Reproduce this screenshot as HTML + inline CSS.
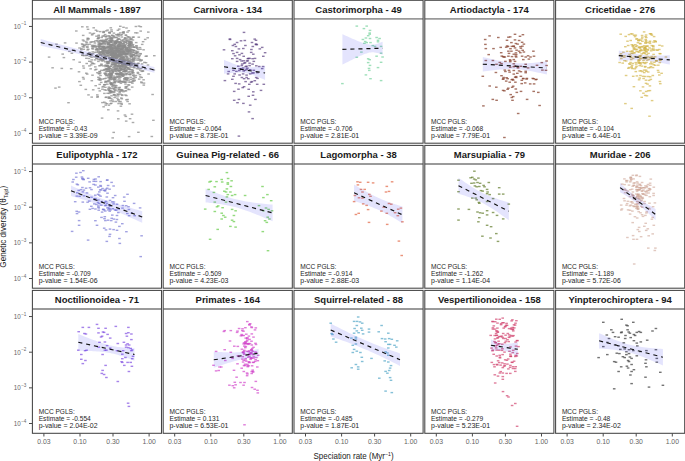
<!DOCTYPE html><html><head><meta charset="utf-8"><style>html,body{margin:0;padding:0;background:#fff;}svg{display:block;}text{font-family:"Liberation Sans", sans-serif;}</style></head><body>
<svg width="685" height="461" viewBox="0 0 685 461">
<rect width="685" height="461" fill="#fff"/>
<g fill="#8c8c8c" fill-opacity="0.74"><rect x="107.4" y="50.4" width="2.6" height="1.4"/><rect x="107.8" y="43.8" width="2.6" height="1.4"/><rect x="98.6" y="44.6" width="2.6" height="1.4"/><rect x="125.2" y="49.7" width="2.6" height="1.4"/><rect x="124.2" y="48.3" width="2.6" height="1.4"/><rect x="115.8" y="47.8" width="2.6" height="1.4"/><rect x="89.0" y="53.1" width="2.6" height="1.4"/><rect x="117.3" y="50.3" width="2.6" height="1.4"/><rect x="88.7" y="32.3" width="2.6" height="1.4"/><rect x="99.1" y="42.6" width="2.6" height="1.4"/><rect x="114.7" y="45.9" width="2.6" height="1.4"/><rect x="117.5" y="41.2" width="2.6" height="1.4"/><rect x="114.7" y="49.5" width="2.6" height="1.4"/><rect x="102.1" y="60.0" width="2.6" height="1.4"/><rect x="117.9" y="55.9" width="2.6" height="1.4"/><rect x="102.6" y="40.4" width="2.6" height="1.4"/><rect x="106.2" y="45.4" width="2.6" height="1.4"/><rect x="118.9" y="48.3" width="2.6" height="1.4"/><rect x="104.9" y="38.6" width="2.6" height="1.4"/><rect x="103.9" y="56.1" width="2.6" height="1.4"/><rect x="100.2" y="48.3" width="2.6" height="1.4"/><rect x="116.2" y="34.4" width="2.6" height="1.4"/><rect x="111.3" y="56.7" width="2.6" height="1.4"/><rect x="84.5" y="43.7" width="2.6" height="1.4"/><rect x="109.3" y="39.8" width="2.6" height="1.4"/><rect x="117.2" y="45.8" width="2.6" height="1.4"/><rect x="91.7" y="52.9" width="2.6" height="1.4"/><rect x="119.4" y="53.9" width="2.6" height="1.4"/><rect x="129.4" y="49.2" width="2.6" height="1.4"/><rect x="112.3" y="35.9" width="2.6" height="1.4"/><rect x="118.7" y="41.4" width="2.6" height="1.4"/><rect x="104.8" y="36.2" width="2.6" height="1.4"/><rect x="98.1" y="42.1" width="2.6" height="1.4"/><rect x="127.5" y="30.0" width="2.6" height="1.4"/><rect x="91.7" y="48.2" width="2.6" height="1.4"/><rect x="129.5" y="50.9" width="2.6" height="1.4"/><rect x="86.0" y="26.2" width="2.6" height="1.4"/><rect x="115.3" y="40.4" width="2.6" height="1.4"/><rect x="96.1" y="54.1" width="2.6" height="1.4"/><rect x="125.0" y="47.6" width="2.6" height="1.4"/><rect x="113.9" y="49.8" width="2.6" height="1.4"/><rect x="131.4" y="51.3" width="2.6" height="1.4"/><rect x="117.4" y="50.7" width="2.6" height="1.4"/><rect x="90.3" y="56.6" width="2.6" height="1.4"/><rect x="123.1" y="50.5" width="2.6" height="1.4"/><rect x="85.0" y="41.2" width="2.6" height="1.4"/><rect x="121.6" y="31.8" width="2.6" height="1.4"/><rect x="108.3" y="54.5" width="2.6" height="1.4"/><rect x="93.7" y="59.2" width="2.6" height="1.4"/><rect x="117.9" y="45.1" width="2.6" height="1.4"/><rect x="114.9" y="51.5" width="2.6" height="1.4"/><rect x="112.3" y="55.5" width="2.6" height="1.4"/><rect x="102.1" y="43.0" width="2.6" height="1.4"/><rect x="124.2" y="46.5" width="2.6" height="1.4"/><rect x="99.3" y="53.9" width="2.6" height="1.4"/><rect x="129.8" y="42.7" width="2.6" height="1.4"/><rect x="92.8" y="45.2" width="2.6" height="1.4"/><rect x="108.8" y="43.9" width="2.6" height="1.4"/><rect x="129.0" y="38.1" width="2.6" height="1.4"/><rect x="127.1" y="36.2" width="2.6" height="1.4"/><rect x="100.5" y="51.4" width="2.6" height="1.4"/><rect x="125.4" y="53.2" width="2.6" height="1.4"/><rect x="115.2" y="47.4" width="2.6" height="1.4"/><rect x="112.7" y="50.9" width="2.6" height="1.4"/><rect x="108.4" y="48.5" width="2.6" height="1.4"/><rect x="118.1" y="46.3" width="2.6" height="1.4"/><rect x="120.6" y="50.8" width="2.6" height="1.4"/><rect x="136.8" y="48.9" width="2.6" height="1.4"/><rect x="105.1" y="43.3" width="2.6" height="1.4"/><rect x="110.5" y="53.7" width="2.6" height="1.4"/><rect x="106.3" y="49.4" width="2.6" height="1.4"/><rect x="134.6" y="25.8" width="2.6" height="1.4"/><rect x="96.1" y="48.3" width="2.6" height="1.4"/><rect x="115.9" y="48.2" width="2.6" height="1.4"/><rect x="105.1" y="51.5" width="2.6" height="1.4"/><rect x="114.4" y="42.1" width="2.6" height="1.4"/><rect x="142.3" y="49.1" width="2.6" height="1.4"/><rect x="103.5" y="45.5" width="2.6" height="1.4"/><rect x="107.8" y="45.8" width="2.6" height="1.4"/><rect x="75.2" y="42.4" width="2.6" height="1.4"/><rect x="123.8" y="37.0" width="2.6" height="1.4"/><rect x="109.8" y="53.9" width="2.6" height="1.4"/><rect x="121.8" y="58.2" width="2.6" height="1.4"/><rect x="88.6" y="43.5" width="2.6" height="1.4"/><rect x="106.3" y="51.3" width="2.6" height="1.4"/><rect x="124.9" y="34.7" width="2.6" height="1.4"/><rect x="119.6" y="34.4" width="2.6" height="1.4"/><rect x="113.0" y="55.9" width="2.6" height="1.4"/><rect x="108.8" y="47.8" width="2.6" height="1.4"/><rect x="121.1" y="47.4" width="2.6" height="1.4"/><rect x="109.5" y="58.6" width="2.6" height="1.4"/><rect x="124.3" y="43.9" width="2.6" height="1.4"/><rect x="146.4" y="37.1" width="2.6" height="1.4"/><rect x="122.6" y="44.2" width="2.6" height="1.4"/><rect x="112.4" y="51.9" width="2.6" height="1.4"/><rect x="113.6" y="51.4" width="2.6" height="1.4"/><rect x="90.8" y="34.2" width="2.6" height="1.4"/><rect x="118.7" y="38.6" width="2.6" height="1.4"/><rect x="97.4" y="34.5" width="2.6" height="1.4"/><rect x="127.2" y="52.3" width="2.6" height="1.4"/><rect x="129.8" y="38.8" width="2.6" height="1.4"/><rect x="110.7" y="37.2" width="2.6" height="1.4"/><rect x="120.7" y="59.0" width="2.6" height="1.4"/><rect x="99.1" y="58.8" width="2.6" height="1.4"/><rect x="123.5" y="44.9" width="2.6" height="1.4"/><rect x="85.1" y="57.6" width="2.6" height="1.4"/><rect x="109.4" y="41.5" width="2.6" height="1.4"/><rect x="115.9" y="49.6" width="2.6" height="1.4"/><rect x="130.2" y="38.1" width="2.6" height="1.4"/><rect x="125.5" y="58.2" width="2.6" height="1.4"/><rect x="129.6" y="44.9" width="2.6" height="1.4"/><rect x="101.0" y="54.4" width="2.6" height="1.4"/><rect x="112.2" y="47.3" width="2.6" height="1.4"/><rect x="129.2" y="44.2" width="2.6" height="1.4"/><rect x="80.8" y="43.2" width="2.6" height="1.4"/><rect x="86.6" y="52.9" width="2.6" height="1.4"/><rect x="114.8" y="41.4" width="2.6" height="1.4"/><rect x="110.6" y="53.0" width="2.6" height="1.4"/><rect x="111.7" y="56.9" width="2.6" height="1.4"/><rect x="109.9" y="54.6" width="2.6" height="1.4"/><rect x="130.1" y="59.2" width="2.6" height="1.4"/><rect x="102.0" y="53.3" width="2.6" height="1.4"/><rect x="86.3" y="37.6" width="2.6" height="1.4"/><rect x="85.2" y="54.9" width="2.6" height="1.4"/><rect x="94.7" y="46.2" width="2.6" height="1.4"/><rect x="108.2" y="46.1" width="2.6" height="1.4"/><rect x="103.0" y="48.2" width="2.6" height="1.4"/><rect x="134.0" y="46.7" width="2.6" height="1.4"/><rect x="117.6" y="54.3" width="2.6" height="1.4"/><rect x="108.1" y="36.2" width="2.6" height="1.4"/><rect x="103.5" y="54.9" width="2.6" height="1.4"/><rect x="89.3" y="41.5" width="2.6" height="1.4"/><rect x="123.8" y="52.6" width="2.6" height="1.4"/><rect x="110.8" y="52.7" width="2.6" height="1.4"/><rect x="112.9" y="36.9" width="2.6" height="1.4"/><rect x="90.4" y="41.2" width="2.6" height="1.4"/><rect x="122.7" y="41.8" width="2.6" height="1.4"/><rect x="99.0" y="40.1" width="2.6" height="1.4"/><rect x="90.8" y="45.4" width="2.6" height="1.4"/><rect x="95.4" y="49.2" width="2.6" height="1.4"/><rect x="80.0" y="48.9" width="2.6" height="1.4"/><rect x="102.4" y="30.8" width="2.6" height="1.4"/><rect x="120.1" y="44.1" width="2.6" height="1.4"/><rect x="81.7" y="39.3" width="2.6" height="1.4"/><rect x="114.5" y="42.6" width="2.6" height="1.4"/><rect x="120.8" y="52.3" width="2.6" height="1.4"/><rect x="119.4" y="48.9" width="2.6" height="1.4"/><rect x="128.0" y="51.6" width="2.6" height="1.4"/><rect x="116.6" y="29.6" width="2.6" height="1.4"/><rect x="122.4" y="56.8" width="2.6" height="1.4"/><rect x="106.8" y="42.5" width="2.6" height="1.4"/><rect x="135.9" y="32.2" width="2.6" height="1.4"/><rect x="116.8" y="65.7" width="2.6" height="1.4"/><rect x="98.6" y="51.8" width="2.6" height="1.4"/><rect x="135.2" y="45.3" width="2.6" height="1.4"/><rect x="118.0" y="53.5" width="2.6" height="1.4"/><rect x="98.9" y="45.6" width="2.6" height="1.4"/><rect x="114.5" y="52.9" width="2.6" height="1.4"/><rect x="110.3" y="44.7" width="2.6" height="1.4"/><rect x="97.5" y="43.4" width="2.6" height="1.4"/><rect x="122.3" y="47.1" width="2.6" height="1.4"/><rect x="99.6" y="39.6" width="2.6" height="1.4"/><rect x="145.4" y="55.4" width="2.6" height="1.4"/><rect x="119.0" y="25.6" width="2.6" height="1.4"/><rect x="118.8" y="50.1" width="2.6" height="1.4"/><rect x="132.6" y="49.7" width="2.6" height="1.4"/><rect x="109.8" y="50.5" width="2.6" height="1.4"/><rect x="85.4" y="54.6" width="2.6" height="1.4"/><rect x="114.9" y="40.7" width="2.6" height="1.4"/><rect x="127.9" y="60.8" width="2.6" height="1.4"/><rect x="92.5" y="41.0" width="2.6" height="1.4"/><rect x="114.5" y="47.8" width="2.6" height="1.4"/><rect x="105.5" y="38.5" width="2.6" height="1.4"/><rect x="138.3" y="54.6" width="2.6" height="1.4"/><rect x="95.2" y="35.5" width="2.6" height="1.4"/><rect x="132.8" y="54.2" width="2.6" height="1.4"/><rect x="134.4" y="52.8" width="2.6" height="1.4"/><rect x="99.4" y="48.4" width="2.6" height="1.4"/><rect x="82.6" y="40.3" width="2.6" height="1.4"/><rect x="109.9" y="50.5" width="2.6" height="1.4"/><rect x="101.2" y="45.3" width="2.6" height="1.4"/><rect x="116.7" y="49.3" width="2.6" height="1.4"/><rect x="119.0" y="48.0" width="2.6" height="1.4"/><rect x="106.5" y="52.6" width="2.6" height="1.4"/><rect x="111.3" y="39.7" width="2.6" height="1.4"/><rect x="102.6" y="46.3" width="2.6" height="1.4"/><rect x="109.3" y="47.6" width="2.6" height="1.4"/><rect x="110.7" y="47.7" width="2.6" height="1.4"/><rect x="109.0" y="36.2" width="2.6" height="1.4"/><rect x="116.2" y="54.7" width="2.6" height="1.4"/><rect x="116.4" y="44.8" width="2.6" height="1.4"/><rect x="116.5" y="38.6" width="2.6" height="1.4"/><rect x="86.1" y="46.8" width="2.6" height="1.4"/><rect x="98.6" y="52.2" width="2.6" height="1.4"/><rect x="97.2" y="58.9" width="2.6" height="1.4"/><rect x="105.7" y="35.3" width="2.6" height="1.4"/><rect x="100.8" y="50.5" width="2.6" height="1.4"/><rect x="117.2" y="47.7" width="2.6" height="1.4"/><rect x="130.0" y="52.0" width="2.6" height="1.4"/><rect x="110.4" y="51.1" width="2.6" height="1.4"/><rect x="132.2" y="54.1" width="2.6" height="1.4"/><rect x="124.0" y="37.6" width="2.6" height="1.4"/><rect x="108.8" y="52.1" width="2.6" height="1.4"/><rect x="106.8" y="54.9" width="2.6" height="1.4"/><rect x="118.5" y="53.6" width="2.6" height="1.4"/><rect x="107.9" y="66.7" width="2.6" height="1.4"/><rect x="126.8" y="44.6" width="2.6" height="1.4"/><rect x="111.9" y="67.1" width="2.6" height="1.4"/><rect x="106.2" y="53.3" width="2.6" height="1.4"/><rect x="123.4" y="46.4" width="2.6" height="1.4"/><rect x="95.5" y="47.8" width="2.6" height="1.4"/><rect x="115.4" y="55.3" width="2.6" height="1.4"/><rect x="120.9" y="46.5" width="2.6" height="1.4"/><rect x="121.8" y="50.6" width="2.6" height="1.4"/><rect x="113.4" y="46.7" width="2.6" height="1.4"/><rect x="107.5" y="51.8" width="2.6" height="1.4"/><rect x="97.0" y="41.3" width="2.6" height="1.4"/><rect x="110.8" y="34.6" width="2.6" height="1.4"/><rect x="105.0" y="30.2" width="2.6" height="1.4"/><rect x="101.8" y="50.8" width="2.6" height="1.4"/><rect x="118.1" y="45.9" width="2.6" height="1.4"/><rect x="107.7" y="35.0" width="2.6" height="1.4"/><rect x="134.5" y="50.4" width="2.6" height="1.4"/><rect x="124.9" y="39.2" width="2.6" height="1.4"/><rect x="108.3" y="31.7" width="2.6" height="1.4"/><rect x="120.8" y="53.8" width="2.6" height="1.4"/><rect x="86.0" y="45.9" width="2.6" height="1.4"/><rect x="118.9" y="32.2" width="2.6" height="1.4"/><rect x="87.0" y="37.8" width="2.6" height="1.4"/><rect x="102.5" y="35.1" width="2.6" height="1.4"/><rect x="111.1" y="48.3" width="2.6" height="1.4"/><rect x="118.9" y="51.9" width="2.6" height="1.4"/><rect x="130.2" y="55.6" width="2.6" height="1.4"/><rect x="93.6" y="42.3" width="2.6" height="1.4"/><rect x="96.9" y="37.7" width="2.6" height="1.4"/><rect x="109.6" y="46.3" width="2.6" height="1.4"/><rect x="117.1" y="33.6" width="2.6" height="1.4"/><rect x="94.6" y="46.1" width="2.6" height="1.4"/><rect x="108.1" y="43.8" width="2.6" height="1.4"/><rect x="109.9" y="40.2" width="2.6" height="1.4"/><rect x="119.8" y="49.1" width="2.6" height="1.4"/><rect x="109.6" y="40.9" width="2.6" height="1.4"/><rect x="97.9" y="46.6" width="2.6" height="1.4"/><rect x="91.1" y="47.9" width="2.6" height="1.4"/><rect x="112.6" y="35.3" width="2.6" height="1.4"/><rect x="107.4" y="43.8" width="2.6" height="1.4"/><rect x="116.7" y="51.2" width="2.6" height="1.4"/><rect x="110.2" y="39.5" width="2.6" height="1.4"/><rect x="108.8" y="45.8" width="2.6" height="1.4"/><rect x="120.2" y="48.7" width="2.6" height="1.4"/><rect x="101.3" y="35.5" width="2.6" height="1.4"/><rect x="105.8" y="40.4" width="2.6" height="1.4"/><rect x="96.2" y="45.4" width="2.6" height="1.4"/><rect x="104.3" y="47.1" width="2.6" height="1.4"/><rect x="117.5" y="43.0" width="2.6" height="1.4"/><rect x="140.9" y="43.7" width="2.6" height="1.4"/><rect x="125.0" y="47.3" width="2.6" height="1.4"/><rect x="125.2" y="27.3" width="2.6" height="1.4"/><rect x="100.9" y="48.3" width="2.6" height="1.4"/><rect x="118.5" y="65.0" width="2.6" height="1.4"/><rect x="114.9" y="56.5" width="2.6" height="1.4"/><rect x="120.7" y="53.9" width="2.6" height="1.4"/><rect x="117.3" y="45.1" width="2.6" height="1.4"/><rect x="117.3" y="37.7" width="2.6" height="1.4"/><rect x="126.1" y="38.2" width="2.6" height="1.4"/><rect x="113.9" y="63.3" width="2.6" height="1.4"/><rect x="107.8" y="46.5" width="2.6" height="1.4"/><rect x="125.8" y="46.5" width="2.6" height="1.4"/><rect x="100.2" y="48.4" width="2.6" height="1.4"/><rect x="118.3" y="52.0" width="2.6" height="1.4"/><rect x="100.7" y="60.3" width="2.6" height="1.4"/><rect x="132.4" y="46.4" width="2.6" height="1.4"/><rect x="114.2" y="42.9" width="2.6" height="1.4"/><rect x="129.1" y="40.7" width="2.6" height="1.4"/><rect x="119.5" y="42.5" width="2.6" height="1.4"/><rect x="101.7" y="52.0" width="2.6" height="1.4"/><rect x="128.0" y="46.2" width="2.6" height="1.4"/><rect x="101.9" y="52.8" width="2.6" height="1.4"/><rect x="110.1" y="48.8" width="2.6" height="1.4"/><rect x="130.5" y="55.4" width="2.6" height="1.4"/><rect x="103.9" y="64.6" width="2.6" height="1.4"/><rect x="110.7" y="52.6" width="2.6" height="1.4"/><rect x="102.3" y="45.9" width="2.6" height="1.4"/><rect x="88.0" y="60.6" width="2.6" height="1.4"/><rect x="128.5" y="36.6" width="2.6" height="1.4"/><rect x="91.1" y="33.3" width="2.6" height="1.4"/><rect x="126.0" y="42.6" width="2.6" height="1.4"/><rect x="109.9" y="43.8" width="2.6" height="1.4"/><rect x="109.1" y="37.6" width="2.6" height="1.4"/><rect x="111.0" y="34.8" width="2.6" height="1.4"/><rect x="109.8" y="48.8" width="2.6" height="1.4"/><rect x="116.8" y="44.4" width="2.6" height="1.4"/><rect x="99.0" y="47.6" width="2.6" height="1.4"/><rect x="104.4" y="58.8" width="2.6" height="1.4"/><rect x="120.7" y="45.4" width="2.6" height="1.4"/><rect x="104.6" y="40.7" width="2.6" height="1.4"/><rect x="98.5" y="43.5" width="2.6" height="1.4"/><rect x="114.5" y="50.4" width="2.6" height="1.4"/><rect x="118.1" y="63.1" width="2.6" height="1.4"/><rect x="101.5" y="46.4" width="2.6" height="1.4"/><rect x="147.0" y="31.4" width="2.6" height="1.4"/><rect x="103.9" y="47.7" width="2.6" height="1.4"/><rect x="112.7" y="49.6" width="2.6" height="1.4"/><rect x="107.6" y="49.2" width="2.6" height="1.4"/><rect x="111.4" y="52.5" width="2.6" height="1.4"/><rect x="86.1" y="39.2" width="2.6" height="1.4"/><rect x="110.7" y="38.0" width="2.6" height="1.4"/><rect x="97.1" y="51.3" width="2.6" height="1.4"/><rect x="102.3" y="51.4" width="2.6" height="1.4"/><rect x="120.4" y="48.8" width="2.6" height="1.4"/><rect x="117.3" y="45.5" width="2.6" height="1.4"/><rect x="92.4" y="46.1" width="2.6" height="1.4"/><rect x="116.6" y="42.1" width="2.6" height="1.4"/><rect x="109.4" y="52.3" width="2.6" height="1.4"/><rect x="99.3" y="51.4" width="2.6" height="1.4"/><rect x="134.9" y="41.9" width="2.6" height="1.4"/><rect x="112.6" y="45.1" width="2.6" height="1.4"/><rect x="130.7" y="48.8" width="2.6" height="1.4"/><rect x="122.4" y="40.8" width="2.6" height="1.4"/><rect x="110.5" y="46.2" width="2.6" height="1.4"/><rect x="87.6" y="57.8" width="2.6" height="1.4"/><rect x="122.4" y="32.3" width="2.6" height="1.4"/><rect x="120.4" y="45.3" width="2.6" height="1.4"/><rect x="116.5" y="49.2" width="2.6" height="1.4"/><rect x="91.2" y="44.6" width="2.6" height="1.4"/><rect x="130.1" y="41.7" width="2.6" height="1.4"/><rect x="97.4" y="35.4" width="2.6" height="1.4"/><rect x="94.8" y="49.0" width="2.6" height="1.4"/><rect x="132.7" y="49.7" width="2.6" height="1.4"/><rect x="113.9" y="64.2" width="2.6" height="1.4"/><rect x="103.9" y="40.9" width="2.6" height="1.4"/><rect x="117.6" y="50.7" width="2.6" height="1.4"/><rect x="97.5" y="36.9" width="2.6" height="1.4"/><rect x="114.5" y="48.3" width="2.6" height="1.4"/><rect x="93.7" y="44.7" width="2.6" height="1.4"/><rect x="103.6" y="50.0" width="2.6" height="1.4"/><rect x="109.2" y="45.6" width="2.6" height="1.4"/><rect x="106.1" y="54.7" width="2.6" height="1.4"/><rect x="128.8" y="43.4" width="2.6" height="1.4"/><rect x="121.7" y="40.2" width="2.6" height="1.4"/><rect x="111.6" y="52.3" width="2.6" height="1.4"/><rect x="130.4" y="43.2" width="2.6" height="1.4"/><rect x="109.7" y="47.9" width="2.6" height="1.4"/><rect x="91.2" y="46.4" width="2.6" height="1.4"/><rect x="101.9" y="49.3" width="2.6" height="1.4"/><rect x="96.0" y="30.5" width="2.6" height="1.4"/><rect x="111.2" y="48.4" width="2.6" height="1.4"/><rect x="103.6" y="53.4" width="2.6" height="1.4"/><rect x="107.1" y="41.5" width="2.6" height="1.4"/><rect x="116.9" y="33.8" width="2.6" height="1.4"/><rect x="101.9" y="46.1" width="2.6" height="1.4"/><rect x="121.7" y="45.0" width="2.6" height="1.4"/><rect x="114.7" y="41.1" width="2.6" height="1.4"/><rect x="114.6" y="59.6" width="2.6" height="1.4"/><rect x="101.8" y="65.2" width="2.6" height="1.4"/><rect x="102.3" y="46.4" width="2.6" height="1.4"/><rect x="113.0" y="54.5" width="2.6" height="1.4"/><rect x="94.6" y="29.5" width="2.6" height="1.4"/><rect x="118.6" y="52.7" width="2.6" height="1.4"/><rect x="118.8" y="67.3" width="2.6" height="1.4"/><rect x="113.4" y="48.3" width="2.6" height="1.4"/><rect x="122.8" y="49.3" width="2.6" height="1.4"/><rect x="132.3" y="36.4" width="2.6" height="1.4"/><rect x="121.3" y="43.3" width="2.6" height="1.4"/><rect x="122.7" y="63.5" width="2.6" height="1.4"/><rect x="110.6" y="44.3" width="2.6" height="1.4"/><rect x="104.2" y="39.6" width="2.6" height="1.4"/><rect x="102.5" y="51.4" width="2.6" height="1.4"/><rect x="111.2" y="46.8" width="2.6" height="1.4"/><rect x="108.4" y="53.6" width="2.6" height="1.4"/><rect x="117.1" y="45.2" width="2.6" height="1.4"/><rect x="119.3" y="45.1" width="2.6" height="1.4"/><rect x="95.7" y="57.9" width="2.6" height="1.4"/><rect x="116.7" y="38.6" width="2.6" height="1.4"/><rect x="124.7" y="49.1" width="2.6" height="1.4"/><rect x="90.4" y="59.2" width="2.6" height="1.4"/><rect x="115.0" y="53.4" width="2.6" height="1.4"/><rect x="113.3" y="45.1" width="2.6" height="1.4"/><rect x="90.6" y="54.1" width="2.6" height="1.4"/><rect x="111.1" y="44.0" width="2.6" height="1.4"/><rect x="115.3" y="46.9" width="2.6" height="1.4"/><rect x="119.5" y="43.3" width="2.6" height="1.4"/><rect x="110.2" y="29.2" width="2.6" height="1.4"/><rect x="105.2" y="51.7" width="2.6" height="1.4"/><rect x="128.1" y="43.4" width="2.6" height="1.4"/><rect x="109.1" y="59.0" width="2.6" height="1.4"/><rect x="106.5" y="52.2" width="2.6" height="1.4"/><rect x="132.5" y="46.6" width="2.6" height="1.4"/><rect x="126.6" y="40.6" width="2.6" height="1.4"/><rect x="113.4" y="45.7" width="2.6" height="1.4"/><rect x="112.2" y="55.3" width="2.6" height="1.4"/><rect x="141.8" y="41.0" width="2.6" height="1.4"/><rect x="103.2" y="50.3" width="2.6" height="1.4"/><rect x="97.0" y="50.3" width="2.6" height="1.4"/><rect x="118.1" y="44.1" width="2.6" height="1.4"/><rect x="117.6" y="33.9" width="2.6" height="1.4"/><rect x="120.6" y="33.9" width="2.6" height="1.4"/><rect x="101.6" y="41.9" width="2.6" height="1.4"/><rect x="105.5" y="53.2" width="2.6" height="1.4"/><rect x="111.8" y="43.1" width="2.6" height="1.4"/><rect x="117.8" y="59.0" width="2.6" height="1.4"/><rect x="110.8" y="49.2" width="2.6" height="1.4"/><rect x="126.8" y="48.4" width="2.6" height="1.4"/><rect x="94.0" y="66.2" width="2.6" height="1.4"/><rect x="139.4" y="30.4" width="2.6" height="1.4"/><rect x="110.2" y="49.6" width="2.6" height="1.4"/><rect x="123.3" y="51.7" width="2.6" height="1.4"/><rect x="107.2" y="37.9" width="2.6" height="1.4"/><rect x="112.0" y="54.6" width="2.6" height="1.4"/><rect x="96.5" y="38.1" width="2.6" height="1.4"/><rect x="110.4" y="30.8" width="2.6" height="1.4"/><rect x="107.3" y="42.8" width="2.6" height="1.4"/><rect x="116.6" y="40.7" width="2.6" height="1.4"/><rect x="99.2" y="43.1" width="2.6" height="1.4"/><rect x="110.1" y="41.0" width="2.6" height="1.4"/><rect x="110.9" y="52.3" width="2.6" height="1.4"/><rect x="126.1" y="59.9" width="2.6" height="1.4"/><rect x="100.5" y="42.9" width="2.6" height="1.4"/><rect x="78.4" y="61.5" width="2.6" height="1.4"/><rect x="101.3" y="46.0" width="2.6" height="1.4"/><rect x="117.5" y="35.4" width="2.6" height="1.4"/><rect x="116.7" y="46.1" width="2.6" height="1.4"/><rect x="87.0" y="48.6" width="2.6" height="1.4"/><rect x="126.2" y="31.4" width="2.6" height="1.4"/><rect x="121.2" y="48.0" width="2.6" height="1.4"/><rect x="116.9" y="49.8" width="2.6" height="1.4"/><rect x="127.7" y="44.5" width="2.6" height="1.4"/><rect x="122.1" y="43.0" width="2.6" height="1.4"/><rect x="120.2" y="39.8" width="2.6" height="1.4"/><rect x="109.3" y="60.1" width="2.6" height="1.4"/><rect x="116.5" y="45.0" width="2.6" height="1.4"/><rect x="95.8" y="40.0" width="2.6" height="1.4"/><rect x="113.2" y="53.8" width="2.6" height="1.4"/><rect x="116.2" y="50.5" width="2.6" height="1.4"/><rect x="110.2" y="57.1" width="2.6" height="1.4"/><rect x="105.6" y="41.9" width="2.6" height="1.4"/><rect x="122.2" y="46.8" width="2.6" height="1.4"/><rect x="107.1" y="41.7" width="2.6" height="1.4"/><rect x="107.4" y="51.3" width="2.6" height="1.4"/><rect x="115.3" y="36.6" width="2.6" height="1.4"/><rect x="116.2" y="47.7" width="2.6" height="1.4"/><rect x="97.7" y="52.5" width="2.6" height="1.4"/><rect x="107.1" y="43.6" width="2.6" height="1.4"/><rect x="121.0" y="56.9" width="2.6" height="1.4"/><rect x="101.7" y="49.8" width="2.6" height="1.4"/><rect x="99.3" y="64.8" width="2.6" height="1.4"/><rect x="104.3" y="55.9" width="2.6" height="1.4"/><rect x="102.3" y="52.8" width="2.6" height="1.4"/><rect x="139.5" y="26.0" width="2.6" height="1.4"/><rect x="105.1" y="50.3" width="2.6" height="1.4"/><rect x="109.5" y="41.0" width="2.6" height="1.4"/><rect x="138.7" y="46.9" width="2.6" height="1.4"/><rect x="89.3" y="53.1" width="2.6" height="1.4"/><rect x="88.3" y="55.5" width="2.6" height="1.4"/><rect x="103.2" y="47.5" width="2.6" height="1.4"/><rect x="127.1" y="47.2" width="2.6" height="1.4"/><rect x="92.6" y="32.7" width="2.6" height="1.4"/><rect x="126.1" y="52.2" width="2.6" height="1.4"/><rect x="100.1" y="53.2" width="2.6" height="1.4"/><rect x="117.2" y="51.5" width="2.6" height="1.4"/><rect x="81.3" y="43.9" width="2.6" height="1.4"/><rect x="122.4" y="52.2" width="2.6" height="1.4"/><rect x="122.2" y="26.6" width="2.6" height="1.4"/><rect x="112.9" y="50.2" width="2.6" height="1.4"/><rect x="143.9" y="38.7" width="2.6" height="1.4"/><rect x="106.4" y="46.6" width="2.6" height="1.4"/><rect x="122.2" y="42.8" width="2.6" height="1.4"/><rect x="125.6" y="40.0" width="2.6" height="1.4"/><rect x="114.2" y="42.1" width="2.6" height="1.4"/><rect x="112.8" y="40.8" width="2.6" height="1.4"/><rect x="89.9" y="55.0" width="2.6" height="1.4"/><rect x="114.6" y="41.8" width="2.6" height="1.4"/><rect x="113.3" y="54.2" width="2.6" height="1.4"/><rect x="98.0" y="45.4" width="2.6" height="1.4"/><rect x="117.7" y="50.5" width="2.6" height="1.4"/><rect x="106.3" y="29.4" width="2.6" height="1.4"/><rect x="126.9" y="48.9" width="2.6" height="1.4"/><rect x="110.9" y="44.1" width="2.6" height="1.4"/><rect x="114.1" y="42.9" width="2.6" height="1.4"/><rect x="97.4" y="40.4" width="2.6" height="1.4"/><rect x="102.9" y="41.4" width="2.6" height="1.4"/><rect x="95.6" y="51.4" width="2.6" height="1.4"/><rect x="93.7" y="51.6" width="2.6" height="1.4"/><rect x="97.5" y="49.1" width="2.6" height="1.4"/><rect x="128.6" y="47.9" width="2.6" height="1.4"/><rect x="101.2" y="46.7" width="2.6" height="1.4"/><rect x="112.6" y="32.4" width="2.6" height="1.4"/><rect x="102.8" y="47.6" width="2.6" height="1.4"/><rect x="104.6" y="46.9" width="2.6" height="1.4"/><rect x="120.2" y="52.4" width="2.6" height="1.4"/><rect x="122.5" y="51.0" width="2.6" height="1.4"/><rect x="107.0" y="46.2" width="2.6" height="1.4"/><rect x="107.2" y="43.8" width="2.6" height="1.4"/><rect x="108.4" y="32.5" width="2.6" height="1.4"/><rect x="106.4" y="46.1" width="2.6" height="1.4"/><rect x="98.0" y="46.1" width="2.6" height="1.4"/><rect x="117.4" y="45.0" width="2.6" height="1.4"/><rect x="137.7" y="25.4" width="2.6" height="1.4"/><rect x="108.0" y="31.7" width="2.6" height="1.4"/><rect x="123.4" y="67.5" width="2.6" height="1.4"/><rect x="78.2" y="47.3" width="2.6" height="1.4"/><rect x="117.4" y="43.9" width="2.6" height="1.4"/><rect x="117.9" y="28.4" width="2.6" height="1.4"/><rect x="121.8" y="49.3" width="2.6" height="1.4"/><rect x="111.0" y="41.6" width="2.6" height="1.4"/><rect x="119.0" y="42.4" width="2.6" height="1.4"/><rect x="113.6" y="42.2" width="2.6" height="1.4"/><rect x="81.5" y="46.0" width="2.6" height="1.4"/><rect x="113.3" y="52.3" width="2.6" height="1.4"/><rect x="99.3" y="46.0" width="2.6" height="1.4"/><rect x="118.7" y="47.5" width="2.6" height="1.4"/><rect x="126.9" y="62.2" width="2.6" height="1.4"/><rect x="98.9" y="30.9" width="2.6" height="1.4"/><rect x="121.8" y="58.5" width="2.6" height="1.4"/><rect x="122.7" y="52.8" width="2.6" height="1.4"/><rect x="102.7" y="40.6" width="2.6" height="1.4"/><rect x="122.2" y="39.0" width="2.6" height="1.4"/><rect x="87.1" y="38.3" width="2.6" height="1.4"/><rect x="143.1" y="61.7" width="2.6" height="1.4"/><rect x="101.8" y="40.5" width="2.6" height="1.4"/><rect x="113.7" y="40.3" width="2.6" height="1.4"/><rect x="127.7" y="45.7" width="2.6" height="1.4"/><rect x="96.6" y="56.8" width="2.6" height="1.4"/><rect x="103.1" y="48.1" width="2.6" height="1.4"/><rect x="110.5" y="43.8" width="2.6" height="1.4"/><rect x="114.9" y="40.8" width="2.6" height="1.4"/><rect x="86.7" y="28.6" width="2.6" height="1.4"/><rect x="94.2" y="40.2" width="2.6" height="1.4"/><rect x="110.4" y="46.7" width="2.6" height="1.4"/><rect x="117.9" y="47.3" width="2.6" height="1.4"/><rect x="100.4" y="40.6" width="2.6" height="1.4"/><rect x="83.2" y="44.9" width="2.6" height="1.4"/><rect x="117.0" y="50.5" width="2.6" height="1.4"/><rect x="109.1" y="44.9" width="2.6" height="1.4"/><rect x="122.9" y="46.4" width="2.6" height="1.4"/><rect x="120.3" y="51.0" width="2.6" height="1.4"/><rect x="113.5" y="56.8" width="2.6" height="1.4"/><rect x="103.3" y="43.4" width="2.6" height="1.4"/><rect x="100.2" y="39.9" width="2.6" height="1.4"/><rect x="130.9" y="60.4" width="2.6" height="1.4"/><rect x="111.0" y="50.8" width="2.6" height="1.4"/><rect x="126.0" y="52.8" width="2.6" height="1.4"/><rect x="126.4" y="36.2" width="2.6" height="1.4"/><rect x="102.4" y="49.9" width="2.6" height="1.4"/><rect x="129.4" y="47.1" width="2.6" height="1.4"/><rect x="99.5" y="43.5" width="2.6" height="1.4"/><rect x="102.1" y="39.4" width="2.6" height="1.4"/><rect x="130.2" y="41.3" width="2.6" height="1.4"/><rect x="111.0" y="63.6" width="2.6" height="1.4"/><rect x="126.1" y="49.0" width="2.6" height="1.4"/><rect x="102.7" y="49.6" width="2.6" height="1.4"/><rect x="131.8" y="51.3" width="2.6" height="1.4"/><rect x="127.1" y="47.1" width="2.6" height="1.4"/><rect x="117.4" y="44.7" width="2.6" height="1.4"/><rect x="116.2" y="56.7" width="2.6" height="1.4"/><rect x="92.1" y="45.8" width="2.6" height="1.4"/><rect x="113.8" y="41.7" width="2.6" height="1.4"/><rect x="106.7" y="52.6" width="2.6" height="1.4"/><rect x="136.7" y="51.3" width="2.6" height="1.4"/><rect x="114.9" y="33.9" width="2.6" height="1.4"/><rect x="135.8" y="46.9" width="2.6" height="1.4"/><rect x="110.3" y="37.4" width="2.6" height="1.4"/><rect x="110.0" y="37.5" width="2.6" height="1.4"/><rect x="111.6" y="50.0" width="2.6" height="1.4"/><rect x="111.1" y="48.5" width="2.6" height="1.4"/><rect x="99.6" y="57.7" width="2.6" height="1.4"/><rect x="102.2" y="31.8" width="2.6" height="1.4"/><rect x="108.3" y="40.2" width="2.6" height="1.4"/><rect x="97.6" y="43.5" width="2.6" height="1.4"/><rect x="114.5" y="36.8" width="2.6" height="1.4"/><rect x="108.9" y="57.7" width="2.6" height="1.4"/><rect x="119.6" y="45.1" width="2.6" height="1.4"/><rect x="112.4" y="45.3" width="2.6" height="1.4"/><rect x="110.1" y="52.2" width="2.6" height="1.4"/><rect x="109.5" y="27.1" width="2.6" height="1.4"/><rect x="110.4" y="39.2" width="2.6" height="1.4"/><rect x="119.2" y="41.4" width="2.6" height="1.4"/><rect x="112.6" y="63.7" width="2.6" height="1.4"/><rect x="97.1" y="37.3" width="2.6" height="1.4"/><rect x="92.4" y="27.1" width="2.6" height="1.4"/><rect x="86.3" y="49.2" width="2.6" height="1.4"/><rect x="102.4" y="31.4" width="2.6" height="1.4"/><rect x="91.4" y="51.2" width="2.6" height="1.4"/><rect x="100.6" y="43.4" width="2.6" height="1.4"/><rect x="115.0" y="57.2" width="2.6" height="1.4"/><rect x="135.9" y="54.6" width="2.6" height="1.4"/><rect x="112.6" y="47.8" width="2.6" height="1.4"/><rect x="134.1" y="57.7" width="2.6" height="1.4"/><rect x="106.7" y="50.0" width="2.6" height="1.4"/><rect x="114.4" y="46.7" width="2.6" height="1.4"/><rect x="104.2" y="35.7" width="2.6" height="1.4"/><rect x="103.8" y="33.9" width="2.6" height="1.4"/><rect x="126.6" y="50.6" width="2.6" height="1.4"/><rect x="95.0" y="57.5" width="2.6" height="1.4"/><rect x="122.3" y="31.0" width="2.6" height="1.4"/><rect x="134.6" y="52.8" width="2.6" height="1.4"/><rect x="137.5" y="36.5" width="2.6" height="1.4"/><rect x="117.6" y="49.7" width="2.6" height="1.4"/><rect x="113.3" y="47.7" width="2.6" height="1.4"/><rect x="124.4" y="34.3" width="2.6" height="1.4"/><rect x="106.0" y="47.0" width="2.6" height="1.4"/><rect x="113.6" y="55.6" width="2.6" height="1.4"/><rect x="123.7" y="65.2" width="2.6" height="1.4"/><rect x="120.0" y="54.9" width="2.6" height="1.4"/><rect x="114.8" y="72.8" width="2.6" height="1.4"/><rect x="128.1" y="63.4" width="2.6" height="1.4"/><rect x="116.2" y="79.4" width="2.6" height="1.4"/><rect x="113.2" y="69.4" width="2.6" height="1.4"/><rect x="132.4" y="59.4" width="2.6" height="1.4"/><rect x="128.8" y="50.0" width="2.6" height="1.4"/><rect x="130.8" y="64.5" width="2.6" height="1.4"/><rect x="102.2" y="69.7" width="2.6" height="1.4"/><rect x="109.9" y="76.4" width="2.6" height="1.4"/><rect x="112.2" y="60.5" width="2.6" height="1.4"/><rect x="122.8" y="58.6" width="2.6" height="1.4"/><rect x="122.6" y="56.2" width="2.6" height="1.4"/><rect x="127.1" y="62.4" width="2.6" height="1.4"/><rect x="122.0" y="32.0" width="2.6" height="1.4"/><rect x="132.5" y="62.7" width="2.6" height="1.4"/><rect x="100.1" y="63.4" width="2.6" height="1.4"/><rect x="124.8" y="74.1" width="2.6" height="1.4"/><rect x="107.8" y="79.3" width="2.6" height="1.4"/><rect x="117.9" y="88.6" width="2.6" height="1.4"/><rect x="118.1" y="69.8" width="2.6" height="1.4"/><rect x="115.7" y="50.0" width="2.6" height="1.4"/><rect x="131.8" y="72.3" width="2.6" height="1.4"/><rect x="136.6" y="71.7" width="2.6" height="1.4"/><rect x="113.4" y="44.0" width="2.6" height="1.4"/><rect x="112.5" y="54.9" width="2.6" height="1.4"/><rect x="110.7" y="68.7" width="2.6" height="1.4"/><rect x="123.3" y="59.3" width="2.6" height="1.4"/><rect x="121.6" y="60.7" width="2.6" height="1.4"/><rect x="122.0" y="70.6" width="2.6" height="1.4"/><rect x="130.3" y="54.8" width="2.6" height="1.4"/><rect x="103.1" y="78.0" width="2.6" height="1.4"/><rect x="121.0" y="74.5" width="2.6" height="1.4"/><rect x="101.6" y="58.7" width="2.6" height="1.4"/><rect x="120.0" y="46.4" width="2.6" height="1.4"/><rect x="114.0" y="70.3" width="2.6" height="1.4"/><rect x="131.6" y="79.8" width="2.6" height="1.4"/><rect x="110.2" y="46.9" width="2.6" height="1.4"/><rect x="125.4" y="72.6" width="2.6" height="1.4"/><rect x="121.8" y="48.0" width="2.6" height="1.4"/><rect x="128.3" y="71.0" width="2.6" height="1.4"/><rect x="125.8" y="56.9" width="2.6" height="1.4"/><rect x="123.0" y="71.0" width="2.6" height="1.4"/><rect x="113.6" y="42.0" width="2.6" height="1.4"/><rect x="123.3" y="67.6" width="2.6" height="1.4"/><rect x="119.8" y="72.1" width="2.6" height="1.4"/><rect x="113.2" y="61.4" width="2.6" height="1.4"/><rect x="116.3" y="68.6" width="2.6" height="1.4"/><rect x="137.3" y="59.5" width="2.6" height="1.4"/><rect x="142.3" y="79.1" width="2.6" height="1.4"/><rect x="128.4" y="68.8" width="2.6" height="1.4"/><rect x="139.2" y="60.3" width="2.6" height="1.4"/><rect x="118.5" y="50.6" width="2.6" height="1.4"/><rect x="124.9" y="77.1" width="2.6" height="1.4"/><rect x="125.6" y="67.0" width="2.6" height="1.4"/><rect x="117.5" y="64.2" width="2.6" height="1.4"/><rect x="104.0" y="73.8" width="2.6" height="1.4"/><rect x="115.2" y="50.1" width="2.6" height="1.4"/><rect x="111.4" y="53.2" width="2.6" height="1.4"/><rect x="129.1" y="73.9" width="2.6" height="1.4"/><rect x="104.8" y="72.5" width="2.6" height="1.4"/><rect x="129.5" y="55.9" width="2.6" height="1.4"/><rect x="103.3" y="54.1" width="2.6" height="1.4"/><rect x="112.7" y="66.1" width="2.6" height="1.4"/><rect x="115.8" y="40.0" width="2.6" height="1.4"/><rect x="122.3" y="45.4" width="2.6" height="1.4"/><rect x="129.7" y="49.0" width="2.6" height="1.4"/><rect x="112.1" y="52.9" width="2.6" height="1.4"/><rect x="113.7" y="76.6" width="2.6" height="1.4"/><rect x="129.1" y="68.9" width="2.6" height="1.4"/><rect x="123.2" y="45.3" width="2.6" height="1.4"/><rect x="114.0" y="56.2" width="2.6" height="1.4"/><rect x="108.9" y="67.9" width="2.6" height="1.4"/><rect x="111.5" y="54.5" width="2.6" height="1.4"/><rect x="108.2" y="39.7" width="2.6" height="1.4"/><rect x="126.2" y="76.9" width="2.6" height="1.4"/><rect x="121.6" y="51.6" width="2.6" height="1.4"/><rect x="89.9" y="64.2" width="2.6" height="1.4"/><rect x="133.1" y="65.6" width="2.6" height="1.4"/><rect x="129.9" y="78.6" width="2.6" height="1.4"/><rect x="132.1" y="57.4" width="2.6" height="1.4"/><rect x="131.3" y="70.8" width="2.6" height="1.4"/><rect x="102.8" y="57.8" width="2.6" height="1.4"/><rect x="104.0" y="61.1" width="2.6" height="1.4"/><rect x="126.1" y="50.6" width="2.6" height="1.4"/><rect x="97.1" y="76.6" width="2.6" height="1.4"/><rect x="123.8" y="78.5" width="2.6" height="1.4"/><rect x="105.1" y="74.0" width="2.6" height="1.4"/><rect x="142.5" y="84.4" width="2.6" height="1.4"/><rect x="117.4" y="65.3" width="2.6" height="1.4"/><rect x="118.0" y="73.3" width="2.6" height="1.4"/><rect x="131.1" y="63.3" width="2.6" height="1.4"/><rect x="104.8" y="70.5" width="2.6" height="1.4"/><rect x="114.5" y="69.2" width="2.6" height="1.4"/><rect x="122.6" y="80.2" width="2.6" height="1.4"/><rect x="132.2" y="57.3" width="2.6" height="1.4"/><rect x="123.5" y="81.7" width="2.6" height="1.4"/><rect x="113.8" y="67.1" width="2.6" height="1.4"/><rect x="132.8" y="76.1" width="2.6" height="1.4"/><rect x="125.4" y="47.8" width="2.6" height="1.4"/><rect x="105.8" y="65.0" width="2.6" height="1.4"/><rect x="124.0" y="90.3" width="2.6" height="1.4"/><rect x="110.2" y="74.8" width="2.6" height="1.4"/><rect x="128.2" y="43.9" width="2.6" height="1.4"/><rect x="110.7" y="64.1" width="2.6" height="1.4"/><rect x="114.3" y="60.6" width="2.6" height="1.4"/><rect x="124.9" y="53.4" width="2.6" height="1.4"/><rect x="124.8" y="55.3" width="2.6" height="1.4"/><rect x="113.7" y="68.2" width="2.6" height="1.4"/><rect x="113.4" y="65.5" width="2.6" height="1.4"/><rect x="137.3" y="62.6" width="2.6" height="1.4"/><rect x="118.1" y="70.4" width="2.6" height="1.4"/><rect x="115.7" y="74.2" width="2.6" height="1.4"/><rect x="105.6" y="69.1" width="2.6" height="1.4"/><rect x="114.1" y="53.5" width="2.6" height="1.4"/><rect x="139.2" y="52.9" width="2.6" height="1.4"/><rect x="139.0" y="69.5" width="2.6" height="1.4"/><rect x="135.7" y="51.6" width="2.6" height="1.4"/><rect x="132.9" y="78.3" width="2.6" height="1.4"/><rect x="118.4" y="60.9" width="2.6" height="1.4"/><rect x="146.7" y="64.3" width="2.6" height="1.4"/><rect x="115.1" y="55.4" width="2.6" height="1.4"/><rect x="124.6" y="65.9" width="2.6" height="1.4"/><rect x="121.7" y="81.2" width="2.6" height="1.4"/><rect x="116.1" y="67.5" width="2.6" height="1.4"/><rect x="135.8" y="51.3" width="2.6" height="1.4"/><rect x="131.1" y="82.5" width="2.6" height="1.4"/><rect x="104.8" y="50.2" width="2.6" height="1.4"/><rect x="108.3" y="42.0" width="2.6" height="1.4"/><rect x="124.7" y="41.9" width="2.6" height="1.4"/><rect x="125.2" y="78.3" width="2.6" height="1.4"/><rect x="101.9" y="58.8" width="2.6" height="1.4"/><rect x="98.6" y="70.9" width="2.6" height="1.4"/><rect x="111.6" y="59.4" width="2.6" height="1.4"/><rect x="120.3" y="68.3" width="2.6" height="1.4"/><rect x="115.9" y="62.5" width="2.6" height="1.4"/><rect x="113.7" y="63.6" width="2.6" height="1.4"/><rect x="106.8" y="63.0" width="2.6" height="1.4"/><rect x="98.4" y="56.9" width="2.6" height="1.4"/><rect x="140.8" y="63.2" width="2.6" height="1.4"/><rect x="105.8" y="65.1" width="2.6" height="1.4"/><rect x="109.0" y="44.1" width="2.6" height="1.4"/><rect x="111.6" y="70.4" width="2.6" height="1.4"/><rect x="123.9" y="61.2" width="2.6" height="1.4"/><rect x="109.5" y="50.4" width="2.6" height="1.4"/><rect x="134.5" y="65.0" width="2.6" height="1.4"/><rect x="109.2" y="39.1" width="2.6" height="1.4"/><rect x="104.6" y="89.5" width="2.6" height="1.4"/><rect x="107.1" y="61.5" width="2.6" height="1.4"/><rect x="122.0" y="60.6" width="2.6" height="1.4"/><rect x="116.6" y="47.2" width="2.6" height="1.4"/><rect x="108.1" y="80.9" width="2.6" height="1.4"/><rect x="111.4" y="71.6" width="2.6" height="1.4"/><rect x="101.1" y="59.3" width="2.6" height="1.4"/><rect x="122.6" y="73.7" width="2.6" height="1.4"/><rect x="107.4" y="68.8" width="2.6" height="1.4"/><rect x="123.9" y="54.2" width="2.6" height="1.4"/><rect x="124.9" y="52.4" width="2.6" height="1.4"/><rect x="110.9" y="62.1" width="2.6" height="1.4"/><rect x="89.8" y="61.1" width="2.6" height="1.4"/><rect x="108.7" y="46.2" width="2.6" height="1.4"/><rect x="115.0" y="70.7" width="2.6" height="1.4"/><rect x="115.3" y="76.2" width="2.6" height="1.4"/><rect x="106.9" y="47.9" width="2.6" height="1.4"/><rect x="136.8" y="66.7" width="2.6" height="1.4"/><rect x="130.1" y="53.2" width="2.6" height="1.4"/><rect x="128.5" y="65.2" width="2.6" height="1.4"/><rect x="126.8" y="62.6" width="2.6" height="1.4"/><rect x="133.0" y="55.2" width="2.6" height="1.4"/><rect x="109.1" y="46.0" width="2.6" height="1.4"/><rect x="132.5" y="54.2" width="2.6" height="1.4"/><rect x="108.2" y="52.0" width="2.6" height="1.4"/><rect x="114.8" y="48.3" width="2.6" height="1.4"/><rect x="116.5" y="55.4" width="2.6" height="1.4"/><rect x="113.6" y="51.7" width="2.6" height="1.4"/><rect x="120.1" y="57.2" width="2.6" height="1.4"/><rect x="121.0" y="65.0" width="2.6" height="1.4"/><rect x="123.4" y="38.2" width="2.6" height="1.4"/><rect x="113.8" y="53.5" width="2.6" height="1.4"/><rect x="128.2" y="44.9" width="2.6" height="1.4"/><rect x="111.8" y="59.1" width="2.6" height="1.4"/><rect x="116.0" y="73.2" width="2.6" height="1.4"/><rect x="114.8" y="72.9" width="2.6" height="1.4"/><rect x="103.6" y="42.4" width="2.6" height="1.4"/><rect x="133.1" y="67.1" width="2.6" height="1.4"/><rect x="125.1" y="63.7" width="2.6" height="1.4"/><rect x="125.0" y="48.9" width="2.6" height="1.4"/><rect x="130.1" y="56.4" width="2.6" height="1.4"/><rect x="130.5" y="63.3" width="2.6" height="1.4"/><rect x="98.0" y="48.1" width="2.6" height="1.4"/><rect x="132.1" y="60.8" width="2.6" height="1.4"/><rect x="115.3" y="65.0" width="2.6" height="1.4"/><rect x="115.0" y="56.3" width="2.6" height="1.4"/><rect x="120.8" y="63.9" width="2.6" height="1.4"/><rect x="136.4" y="62.8" width="2.6" height="1.4"/><rect x="140.4" y="82.1" width="2.6" height="1.4"/><rect x="138.6" y="74.0" width="2.6" height="1.4"/><rect x="121.1" y="63.8" width="2.6" height="1.4"/><rect x="118.1" y="54.3" width="2.6" height="1.4"/><rect x="119.0" y="55.3" width="2.6" height="1.4"/><rect x="137.7" y="68.2" width="2.6" height="1.4"/><rect x="114.8" y="41.2" width="2.6" height="1.4"/><rect x="119.1" y="57.7" width="2.6" height="1.4"/><rect x="107.8" y="49.8" width="2.6" height="1.4"/><rect x="94.9" y="68.6" width="2.6" height="1.4"/><rect x="119.0" y="90.7" width="2.6" height="1.4"/><rect x="119.4" y="60.7" width="2.6" height="1.4"/><rect x="135.6" y="63.8" width="2.6" height="1.4"/><rect x="121.5" y="58.2" width="2.6" height="1.4"/><rect x="113.0" y="78.8" width="2.6" height="1.4"/><rect x="130.7" y="81.2" width="2.6" height="1.4"/><rect x="115.9" y="62.6" width="2.6" height="1.4"/><rect x="110.0" y="72.9" width="2.6" height="1.4"/><rect x="104.4" y="68.5" width="2.6" height="1.4"/><rect x="131.8" y="77.8" width="2.6" height="1.4"/><rect x="109.4" y="74.3" width="2.6" height="1.4"/><rect x="111.9" y="54.0" width="2.6" height="1.4"/><rect x="105.1" y="75.0" width="2.6" height="1.4"/><rect x="137.8" y="55.8" width="2.6" height="1.4"/><rect x="111.3" y="58.6" width="2.6" height="1.4"/><rect x="147.3" y="73.3" width="2.6" height="1.4"/><rect x="113.7" y="42.6" width="2.6" height="1.4"/><rect x="112.3" y="75.4" width="2.6" height="1.4"/><rect x="140.2" y="59.4" width="2.6" height="1.4"/><rect x="112.1" y="56.7" width="2.6" height="1.4"/><rect x="99.0" y="72.3" width="2.6" height="1.4"/><rect x="107.8" y="74.0" width="2.6" height="1.4"/><rect x="100.9" y="48.3" width="2.6" height="1.4"/><rect x="122.9" y="53.9" width="2.6" height="1.4"/><rect x="128.3" y="62.4" width="2.6" height="1.4"/><rect x="106.8" y="69.1" width="2.6" height="1.4"/><rect x="129.0" y="41.3" width="2.6" height="1.4"/><rect x="139.8" y="67.8" width="2.6" height="1.4"/><rect x="128.1" y="41.8" width="2.6" height="1.4"/><rect x="111.8" y="58.5" width="2.6" height="1.4"/><rect x="131.5" y="46.2" width="2.6" height="1.4"/><rect x="110.0" y="40.0" width="2.6" height="1.4"/><rect x="117.0" y="66.1" width="2.6" height="1.4"/><rect x="101.2" y="55.8" width="2.6" height="1.4"/><rect x="125.3" y="79.7" width="2.6" height="1.4"/><rect x="127.0" y="59.0" width="2.6" height="1.4"/><rect x="106.7" y="52.0" width="2.6" height="1.4"/><rect x="112.4" y="63.9" width="2.6" height="1.4"/><rect x="119.2" y="80.6" width="2.6" height="1.4"/><rect x="122.9" y="50.5" width="2.6" height="1.4"/><rect x="136.7" y="72.7" width="2.6" height="1.4"/><rect x="120.8" y="54.4" width="2.6" height="1.4"/><rect x="99.1" y="51.1" width="2.6" height="1.4"/><rect x="129.7" y="53.5" width="2.6" height="1.4"/><rect x="105.2" y="64.5" width="2.6" height="1.4"/><rect x="122.4" y="69.0" width="2.6" height="1.4"/><rect x="126.9" y="77.8" width="2.6" height="1.4"/><rect x="110.5" y="73.1" width="2.6" height="1.4"/><rect x="108.8" y="69.9" width="2.6" height="1.4"/><rect x="121.7" y="65.0" width="2.6" height="1.4"/><rect x="130.3" y="62.1" width="2.6" height="1.4"/><rect x="131.9" y="71.9" width="2.6" height="1.4"/><rect x="121.2" y="56.1" width="2.6" height="1.4"/><rect x="111.4" y="56.5" width="2.6" height="1.4"/><rect x="117.5" y="62.0" width="2.6" height="1.4"/><rect x="152.5" y="69.3" width="2.6" height="1.4"/><rect x="128.2" y="52.8" width="2.6" height="1.4"/><rect x="111.9" y="58.8" width="2.6" height="1.4"/><rect x="121.8" y="50.9" width="2.6" height="1.4"/><rect x="137.4" y="56.1" width="2.6" height="1.4"/><rect x="131.6" y="36.6" width="2.6" height="1.4"/><rect x="119.6" y="65.4" width="2.6" height="1.4"/><rect x="121.8" y="68.9" width="2.6" height="1.4"/><rect x="122.8" y="64.1" width="2.6" height="1.4"/><rect x="98.9" y="54.5" width="2.6" height="1.4"/><rect x="93.9" y="69.2" width="2.6" height="1.4"/><rect x="123.1" y="60.2" width="2.6" height="1.4"/><rect x="110.7" y="55.9" width="2.6" height="1.4"/><rect x="140.0" y="81.3" width="2.6" height="1.4"/><rect x="119.1" y="76.5" width="2.6" height="1.4"/><rect x="102.2" y="41.0" width="2.6" height="1.4"/><rect x="114.4" y="52.7" width="2.6" height="1.4"/><rect x="113.5" y="64.4" width="2.6" height="1.4"/><rect x="153.0" y="55.0" width="2.6" height="1.4"/><rect x="120.2" y="65.3" width="2.6" height="1.4"/><rect x="119.3" y="72.5" width="2.6" height="1.4"/><rect x="139.2" y="48.6" width="2.6" height="1.4"/><rect x="121.5" y="59.4" width="2.6" height="1.4"/><rect x="123.6" y="45.5" width="2.6" height="1.4"/><rect x="100.4" y="36.8" width="2.6" height="1.4"/><rect x="125.5" y="64.4" width="2.6" height="1.4"/><rect x="120.5" y="36.3" width="2.6" height="1.4"/><rect x="115.6" y="54.0" width="2.6" height="1.4"/><rect x="104.1" y="52.2" width="2.6" height="1.4"/><rect x="127.4" y="68.3" width="2.6" height="1.4"/><rect x="119.5" y="68.0" width="2.6" height="1.4"/><rect x="113.1" y="63.1" width="2.6" height="1.4"/><rect x="120.1" y="68.4" width="2.6" height="1.4"/><rect x="118.9" y="60.7" width="2.6" height="1.4"/><rect x="118.2" y="55.2" width="2.6" height="1.4"/><rect x="144.3" y="68.0" width="2.6" height="1.4"/><rect x="124.4" y="87.5" width="2.6" height="1.4"/><rect x="135.1" y="45.2" width="2.6" height="1.4"/><rect x="127.3" y="71.5" width="2.6" height="1.4"/><rect x="140.4" y="76.8" width="2.6" height="1.4"/><rect x="128.2" y="49.4" width="2.6" height="1.4"/><rect x="110.1" y="65.3" width="2.6" height="1.4"/><rect x="125.3" y="51.1" width="2.6" height="1.4"/><rect x="115.5" y="57.9" width="2.6" height="1.4"/><rect x="120.4" y="66.0" width="2.6" height="1.4"/><rect x="116.5" y="48.7" width="2.6" height="1.4"/><rect x="133.4" y="79.9" width="2.6" height="1.4"/><rect x="118.5" y="73.6" width="2.6" height="1.4"/><rect x="124.6" y="69.6" width="2.6" height="1.4"/><rect x="125.0" y="53.9" width="2.6" height="1.4"/><rect x="126.0" y="73.4" width="2.6" height="1.4"/><rect x="109.8" y="83.9" width="2.6" height="1.4"/><rect x="142.7" y="82.4" width="2.6" height="1.4"/><rect x="141.6" y="70.5" width="2.6" height="1.4"/><rect x="116.0" y="55.7" width="2.6" height="1.4"/><rect x="110.8" y="63.6" width="2.6" height="1.4"/><rect x="119.3" y="69.7" width="2.6" height="1.4"/><rect x="97.5" y="87.7" width="2.6" height="1.4"/><rect x="144.7" y="62.0" width="2.6" height="1.4"/><rect x="127.1" y="67.5" width="2.6" height="1.4"/><rect x="122.7" y="60.0" width="2.6" height="1.4"/><rect x="118.3" y="53.2" width="2.6" height="1.4"/><rect x="121.7" y="62.0" width="2.6" height="1.4"/><rect x="123.2" y="52.9" width="2.6" height="1.4"/><rect x="120.1" y="62.8" width="2.6" height="1.4"/><rect x="126.3" y="50.6" width="2.6" height="1.4"/><rect x="124.3" y="73.1" width="2.6" height="1.4"/><rect x="126.3" y="58.2" width="2.6" height="1.4"/><rect x="114.3" y="59.7" width="2.6" height="1.4"/><rect x="127.7" y="79.4" width="2.6" height="1.4"/><rect x="118.0" y="55.2" width="2.6" height="1.4"/><rect x="123.8" y="64.5" width="2.6" height="1.4"/><rect x="109.7" y="54.2" width="2.6" height="1.4"/><rect x="118.6" y="69.7" width="2.6" height="1.4"/><rect x="106.6" y="51.1" width="2.6" height="1.4"/><rect x="125.2" y="48.8" width="2.6" height="1.4"/><rect x="120.9" y="66.2" width="2.6" height="1.4"/><rect x="118.5" y="51.1" width="2.6" height="1.4"/><rect x="119.0" y="58.6" width="2.6" height="1.4"/><rect x="123.4" y="53.1" width="2.6" height="1.4"/><rect x="131.7" y="43.9" width="2.6" height="1.4"/><rect x="117.8" y="62.4" width="2.6" height="1.4"/><rect x="130.3" y="55.6" width="2.6" height="1.4"/><rect x="125.7" y="56.1" width="2.6" height="1.4"/><rect x="127.8" y="81.4" width="2.6" height="1.4"/><rect x="115.3" y="67.2" width="2.6" height="1.4"/><rect x="109.5" y="73.0" width="2.6" height="1.4"/><rect x="133.0" y="62.7" width="2.6" height="1.4"/><rect x="107.2" y="66.7" width="2.6" height="1.4"/><rect x="132.3" y="74.3" width="2.6" height="1.4"/><rect x="128.6" y="42.2" width="2.6" height="1.4"/><rect x="112.2" y="77.9" width="2.6" height="1.4"/><rect x="106.2" y="74.7" width="2.6" height="1.4"/><rect x="140.4" y="70.7" width="2.6" height="1.4"/><rect x="132.0" y="58.6" width="2.6" height="1.4"/><rect x="106.2" y="61.2" width="2.6" height="1.4"/><rect x="117.5" y="61.8" width="2.6" height="1.4"/><rect x="127.4" y="60.7" width="2.6" height="1.4"/><rect x="121.8" y="67.0" width="2.6" height="1.4"/><rect x="119.6" y="82.6" width="2.6" height="1.4"/><rect x="124.6" y="63.2" width="2.6" height="1.4"/><rect x="117.4" y="55.4" width="2.6" height="1.4"/><rect x="134.5" y="64.0" width="2.6" height="1.4"/><rect x="107.8" y="56.1" width="2.6" height="1.4"/><rect x="118.2" y="57.4" width="2.6" height="1.4"/><rect x="131.6" y="49.5" width="2.6" height="1.4"/><rect x="125.1" y="63.9" width="2.6" height="1.4"/><rect x="106.7" y="62.8" width="2.6" height="1.4"/><rect x="118.7" y="67.8" width="2.6" height="1.4"/><rect x="114.7" y="65.6" width="2.6" height="1.4"/><rect x="101.4" y="50.4" width="2.6" height="1.4"/><rect x="128.3" y="73.8" width="2.6" height="1.4"/><rect x="119.6" y="55.7" width="2.6" height="1.4"/><rect x="131.6" y="39.3" width="2.6" height="1.4"/><rect x="110.9" y="69.7" width="2.6" height="1.4"/><rect x="126.9" y="50.9" width="2.6" height="1.4"/><rect x="98.9" y="78.3" width="2.6" height="1.4"/><rect x="121.4" y="52.4" width="2.6" height="1.4"/><rect x="120.3" y="72.2" width="2.6" height="1.4"/><rect x="91.2" y="74.5" width="2.6" height="1.4"/><rect x="127.8" y="39.4" width="2.6" height="1.4"/><rect x="128.2" y="42.7" width="2.6" height="1.4"/><rect x="132.2" y="66.7" width="2.6" height="1.4"/><rect x="144.5" y="55.6" width="2.6" height="1.4"/><rect x="119.8" y="73.8" width="2.6" height="1.4"/><rect x="112.7" y="54.5" width="2.6" height="1.4"/><rect x="115.6" y="61.5" width="2.6" height="1.4"/><rect x="107.8" y="67.6" width="2.6" height="1.4"/><rect x="125.7" y="63.1" width="2.6" height="1.4"/><rect x="138.4" y="58.7" width="2.6" height="1.4"/><rect x="134.1" y="56.3" width="2.6" height="1.4"/><rect x="128.0" y="41.0" width="2.6" height="1.4"/><rect x="121.9" y="60.4" width="2.6" height="1.4"/><rect x="114.3" y="55.6" width="2.6" height="1.4"/><rect x="115.9" y="54.4" width="2.6" height="1.4"/><rect x="95.6" y="55.7" width="2.6" height="1.4"/><rect x="113.7" y="56.5" width="2.6" height="1.4"/><rect x="108.1" y="60.8" width="2.6" height="1.4"/><rect x="128.3" y="59.5" width="2.6" height="1.4"/><rect x="114.3" y="77.2" width="2.6" height="1.4"/><rect x="130.4" y="72.4" width="2.6" height="1.4"/><rect x="132.4" y="58.7" width="2.6" height="1.4"/><rect x="118.3" y="74.5" width="2.6" height="1.4"/><rect x="113.6" y="61.0" width="2.6" height="1.4"/><rect x="123.9" y="66.4" width="2.6" height="1.4"/><rect x="116.7" y="73.1" width="2.6" height="1.4"/><rect x="117.7" y="70.3" width="2.6" height="1.4"/><rect x="131.5" y="69.6" width="2.6" height="1.4"/><rect x="127.8" y="49.5" width="2.6" height="1.4"/><rect x="105.3" y="55.5" width="2.6" height="1.4"/><rect x="124.9" y="78.8" width="2.6" height="1.4"/><rect x="106.3" y="65.7" width="2.6" height="1.4"/><rect x="110.3" y="54.2" width="2.6" height="1.4"/><rect x="116.7" y="69.9" width="2.6" height="1.4"/><rect x="122.0" y="75.3" width="2.6" height="1.4"/><rect x="108.9" y="72.1" width="2.6" height="1.4"/><rect x="129.9" y="63.1" width="2.6" height="1.4"/><rect x="124.9" y="56.1" width="2.6" height="1.4"/><rect x="107.7" y="57.8" width="2.6" height="1.4"/><rect x="112.6" y="94.1" width="2.6" height="1.4"/><rect x="114.4" y="80.5" width="2.6" height="1.4"/><rect x="121.9" y="65.7" width="2.6" height="1.4"/><rect x="127.9" y="53.7" width="2.6" height="1.4"/><rect x="129.8" y="66.4" width="2.6" height="1.4"/><rect x="103.0" y="68.9" width="2.6" height="1.4"/><rect x="125.8" y="67.3" width="2.6" height="1.4"/><rect x="137.1" y="57.7" width="2.6" height="1.4"/><rect x="125.3" y="70.5" width="2.6" height="1.4"/><rect x="109.8" y="75.5" width="2.6" height="1.4"/><rect x="103.7" y="48.0" width="2.6" height="1.4"/><rect x="125.4" y="50.3" width="2.6" height="1.4"/><rect x="118.4" y="44.2" width="2.6" height="1.4"/><rect x="120.5" y="49.8" width="2.6" height="1.4"/><rect x="123.5" y="45.4" width="2.6" height="1.4"/><rect x="124.6" y="59.4" width="2.6" height="1.4"/><rect x="120.4" y="61.6" width="2.6" height="1.4"/><rect x="121.1" y="47.8" width="2.6" height="1.4"/><rect x="91.5" y="62.7" width="2.6" height="1.4"/><rect x="109.4" y="57.3" width="2.6" height="1.4"/><rect x="124.4" y="40.5" width="2.6" height="1.4"/><rect x="111.3" y="55.6" width="2.6" height="1.4"/><rect x="108.1" y="65.9" width="2.6" height="1.4"/><rect x="118.2" y="53.3" width="2.6" height="1.4"/><rect x="108.9" y="71.2" width="2.6" height="1.4"/><rect x="112.4" y="68.7" width="2.6" height="1.4"/><rect x="124.6" y="41.5" width="2.6" height="1.4"/><rect x="107.8" y="62.3" width="2.6" height="1.4"/><rect x="123.5" y="70.9" width="2.6" height="1.4"/><rect x="128.5" y="73.7" width="2.6" height="1.4"/><rect x="115.6" y="60.0" width="2.6" height="1.4"/><rect x="128.2" y="57.6" width="2.6" height="1.4"/><rect x="131.3" y="44.8" width="2.6" height="1.4"/><rect x="126.9" y="60.4" width="2.6" height="1.4"/><rect x="98.1" y="73.1" width="2.6" height="1.4"/><rect x="123.1" y="62.5" width="2.6" height="1.4"/><rect x="107.9" y="57.2" width="2.6" height="1.4"/><rect x="136.3" y="53.2" width="2.6" height="1.4"/><rect x="81.5" y="52.9" width="2.6" height="1.4"/><rect x="106.5" y="60.8" width="2.6" height="1.4"/><rect x="115.4" y="52.3" width="2.6" height="1.4"/><rect x="110.4" y="73.8" width="2.6" height="1.4"/><rect x="103.8" y="83.8" width="2.6" height="1.4"/><rect x="113.7" y="50.3" width="2.6" height="1.4"/><rect x="128.4" y="68.5" width="2.6" height="1.4"/><rect x="108.2" y="70.5" width="2.6" height="1.4"/><rect x="99.5" y="52.1" width="2.6" height="1.4"/><rect x="132.1" y="59.5" width="2.6" height="1.4"/><rect x="105.4" y="68.0" width="2.6" height="1.4"/><rect x="129.8" y="62.1" width="2.6" height="1.4"/><rect x="99.8" y="58.5" width="2.6" height="1.4"/><rect x="124.3" y="70.8" width="2.6" height="1.4"/><rect x="140.1" y="59.5" width="2.6" height="1.4"/><rect x="114.4" y="61.9" width="2.6" height="1.4"/><rect x="133.0" y="51.9" width="2.6" height="1.4"/><rect x="134.1" y="32.1" width="2.6" height="1.4"/><rect x="128.5" y="54.9" width="2.6" height="1.4"/><rect x="124.8" y="69.9" width="2.6" height="1.4"/><rect x="106.7" y="61.3" width="2.6" height="1.4"/><rect x="122.3" y="68.8" width="2.6" height="1.4"/><rect x="109.5" y="51.4" width="2.6" height="1.4"/><rect x="98.5" y="90.2" width="2.6" height="1.4"/><rect x="117.6" y="59.9" width="2.6" height="1.4"/><rect x="103.3" y="72.5" width="2.6" height="1.4"/><rect x="113.8" y="78.1" width="2.6" height="1.4"/><rect x="129.1" y="62.5" width="2.6" height="1.4"/><rect x="127.7" y="50.1" width="2.6" height="1.4"/><rect x="116.1" y="56.0" width="2.6" height="1.4"/><rect x="105.7" y="62.5" width="2.6" height="1.4"/><rect x="118.1" y="78.1" width="2.6" height="1.4"/><rect x="82.8" y="54.9" width="2.6" height="1.4"/><rect x="109.6" y="57.2" width="2.6" height="1.4"/><rect x="124.3" y="66.7" width="2.6" height="1.4"/><rect x="120.0" y="57.1" width="2.6" height="1.4"/><rect x="125.1" y="66.3" width="2.6" height="1.4"/><rect x="99.4" y="59.4" width="2.6" height="1.4"/><rect x="104.6" y="49.3" width="2.6" height="1.4"/><rect x="121.3" y="63.0" width="2.6" height="1.4"/><rect x="121.0" y="52.7" width="2.6" height="1.4"/><rect x="117.5" y="52.3" width="2.6" height="1.4"/><rect x="123.9" y="69.9" width="2.6" height="1.4"/><rect x="139.0" y="76.2" width="2.6" height="1.4"/><rect x="110.8" y="57.3" width="2.6" height="1.4"/><rect x="109.4" y="65.7" width="2.6" height="1.4"/><rect x="141.5" y="70.1" width="2.6" height="1.4"/><rect x="95.5" y="48.5" width="2.6" height="1.4"/><rect x="105.5" y="68.0" width="2.6" height="1.4"/><rect x="119.7" y="65.6" width="2.6" height="1.4"/><rect x="139.3" y="53.2" width="2.6" height="1.4"/><rect x="110.4" y="83.9" width="2.6" height="1.4"/><rect x="123.5" y="53.7" width="2.6" height="1.4"/><rect x="97.4" y="45.5" width="2.6" height="1.4"/><rect x="92.8" y="63.1" width="2.6" height="1.4"/><rect x="120.2" y="73.2" width="2.6" height="1.4"/><rect x="118.2" y="54.7" width="2.6" height="1.4"/><rect x="111.5" y="83.2" width="2.6" height="1.4"/><rect x="100.3" y="64.2" width="2.6" height="1.4"/><rect x="120.0" y="69.1" width="2.6" height="1.4"/><rect x="115.2" y="67.8" width="2.6" height="1.4"/><rect x="128.7" y="60.7" width="2.6" height="1.4"/><rect x="114.7" y="60.3" width="2.6" height="1.4"/><rect x="109.1" y="60.0" width="2.6" height="1.4"/><rect x="116.4" y="64.6" width="2.6" height="1.4"/><rect x="134.4" y="76.7" width="2.6" height="1.4"/><rect x="114.8" y="68.9" width="2.6" height="1.4"/><rect x="122.9" y="70.7" width="2.6" height="1.4"/><rect x="119.9" y="65.2" width="2.6" height="1.4"/><rect x="114.5" y="53.7" width="2.6" height="1.4"/><rect x="129.3" y="76.6" width="2.6" height="1.4"/><rect x="127.0" y="67.1" width="2.6" height="1.4"/><rect x="122.6" y="57.3" width="2.6" height="1.4"/><rect x="100.1" y="69.6" width="2.6" height="1.4"/><rect x="121.9" y="56.2" width="2.6" height="1.4"/><rect x="109.1" y="76.4" width="2.6" height="1.4"/><rect x="99.9" y="81.7" width="2.6" height="1.4"/><rect x="126.7" y="88.4" width="2.6" height="1.4"/><rect x="111.8" y="62.1" width="2.6" height="1.4"/><rect x="114.1" y="64.0" width="2.6" height="1.4"/><rect x="117.4" y="54.1" width="2.6" height="1.4"/><rect x="131.5" y="53.7" width="2.6" height="1.4"/><rect x="114.1" y="68.4" width="2.6" height="1.4"/><rect x="113.8" y="57.5" width="2.6" height="1.4"/><rect x="123.6" y="58.3" width="2.6" height="1.4"/><rect x="106.0" y="61.2" width="2.6" height="1.4"/><rect x="117.3" y="81.1" width="2.6" height="1.4"/><rect x="107.6" y="73.0" width="2.6" height="1.4"/><rect x="111.1" y="58.4" width="2.6" height="1.4"/><rect x="116.1" y="65.3" width="2.6" height="1.4"/><rect x="129.2" y="81.5" width="2.6" height="1.4"/><rect x="112.7" y="76.9" width="2.6" height="1.4"/><rect x="130.6" y="71.2" width="2.6" height="1.4"/><rect x="111.3" y="72.2" width="2.6" height="1.4"/><rect x="118.5" y="66.2" width="2.6" height="1.4"/><rect x="116.7" y="69.6" width="2.6" height="1.4"/><rect x="132.0" y="74.7" width="2.6" height="1.4"/><rect x="117.4" y="73.2" width="2.6" height="1.4"/><rect x="135.7" y="52.0" width="2.6" height="1.4"/><rect x="135.9" y="47.6" width="2.6" height="1.4"/><rect x="125.7" y="68.8" width="2.6" height="1.4"/><rect x="136.0" y="65.4" width="2.6" height="1.4"/><rect x="114.4" y="53.5" width="2.6" height="1.4"/><rect x="105.9" y="70.7" width="2.6" height="1.4"/><rect x="117.1" y="54.4" width="2.6" height="1.4"/><rect x="125.6" y="53.9" width="2.6" height="1.4"/><rect x="114.9" y="57.3" width="2.6" height="1.4"/><rect x="137.9" y="78.4" width="2.6" height="1.4"/><rect x="118.0" y="45.0" width="2.6" height="1.4"/><rect x="122.7" y="63.1" width="2.6" height="1.4"/><rect x="123.5" y="68.5" width="2.6" height="1.4"/><rect x="116.2" y="72.5" width="2.6" height="1.4"/><rect x="128.9" y="64.6" width="2.6" height="1.4"/><rect x="115.2" y="57.0" width="2.6" height="1.4"/><rect x="127.3" y="50.2" width="2.6" height="1.4"/><rect x="117.9" y="54.1" width="2.6" height="1.4"/><rect x="104.4" y="68.9" width="2.6" height="1.4"/><rect x="119.4" y="62.7" width="2.6" height="1.4"/><rect x="129.3" y="45.9" width="2.6" height="1.4"/><rect x="119.0" y="65.5" width="2.6" height="1.4"/><rect x="128.9" y="50.4" width="2.6" height="1.4"/><rect x="127.6" y="64.7" width="2.6" height="1.4"/><rect x="134.6" y="74.8" width="2.6" height="1.4"/><rect x="125.7" y="85.9" width="2.6" height="1.4"/><rect x="119.7" y="57.6" width="2.6" height="1.4"/><rect x="116.0" y="52.0" width="2.6" height="1.4"/><rect x="119.4" y="41.6" width="2.6" height="1.4"/><rect x="118.8" y="67.0" width="2.6" height="1.4"/><rect x="130.6" y="58.5" width="2.6" height="1.4"/><rect x="135.0" y="55.1" width="2.6" height="1.4"/><rect x="118.2" y="41.6" width="2.6" height="1.4"/><rect x="111.3" y="53.6" width="2.6" height="1.4"/><rect x="135.7" y="68.0" width="2.6" height="1.4"/><rect x="107.8" y="68.0" width="2.6" height="1.4"/><rect x="124.9" y="59.8" width="2.6" height="1.4"/><rect x="119.9" y="59.0" width="2.6" height="1.4"/><rect x="113.9" y="43.3" width="2.6" height="1.4"/><rect x="118.7" y="76.1" width="2.6" height="1.4"/><rect x="135.1" y="59.3" width="2.6" height="1.4"/><rect x="111.7" y="60.0" width="2.6" height="1.4"/><rect x="120.6" y="89.4" width="2.6" height="1.4"/><rect x="107.6" y="89.5" width="2.6" height="1.4"/><rect x="110.9" y="91.3" width="2.6" height="1.4"/><rect x="109.1" y="68.1" width="2.6" height="1.4"/><rect x="113.2" y="94.2" width="2.6" height="1.4"/><rect x="103.0" y="84.0" width="2.6" height="1.4"/><rect x="120.4" y="80.9" width="2.6" height="1.4"/><rect x="107.0" y="109.1" width="2.6" height="1.4"/><rect x="120.0" y="97.3" width="2.6" height="1.4"/><rect x="104.4" y="104.4" width="2.6" height="1.4"/><rect x="98.2" y="79.2" width="2.6" height="1.4"/><rect x="119.2" y="100.8" width="2.6" height="1.4"/><rect x="104.6" y="77.5" width="2.6" height="1.4"/><rect x="114.4" y="62.8" width="2.6" height="1.4"/><rect x="118.3" y="91.8" width="2.6" height="1.4"/><rect x="108.8" y="91.6" width="2.6" height="1.4"/><rect x="119.5" y="88.9" width="2.6" height="1.4"/><rect x="117.3" y="102.9" width="2.6" height="1.4"/><rect x="108.5" y="87.2" width="2.6" height="1.4"/><rect x="108.1" y="97.3" width="2.6" height="1.4"/><rect x="109.1" y="90.8" width="2.6" height="1.4"/><rect x="113.9" y="86.1" width="2.6" height="1.4"/><rect x="127.7" y="84.3" width="2.6" height="1.4"/><rect x="125.1" y="94.9" width="2.6" height="1.4"/><rect x="124.2" y="83.4" width="2.6" height="1.4"/><rect x="120.8" y="94.1" width="2.6" height="1.4"/><rect x="107.4" y="88.4" width="2.6" height="1.4"/><rect x="111.6" y="84.9" width="2.6" height="1.4"/><rect x="124.0" y="76.9" width="2.6" height="1.4"/><rect x="98.1" y="65.1" width="2.6" height="1.4"/><rect x="108.8" y="77.8" width="2.6" height="1.4"/><rect x="112.8" y="91.9" width="2.6" height="1.4"/><rect x="128.0" y="88.9" width="2.6" height="1.4"/><rect x="116.7" y="76.8" width="2.6" height="1.4"/><rect x="117.7" y="101.0" width="2.6" height="1.4"/><rect x="124.3" y="62.7" width="2.6" height="1.4"/><rect x="120.4" y="103.6" width="2.6" height="1.4"/><rect x="119.9" y="68.0" width="2.6" height="1.4"/><rect x="110.0" y="92.1" width="2.6" height="1.4"/><rect x="116.3" y="75.9" width="2.6" height="1.4"/><rect x="105.0" y="96.5" width="2.6" height="1.4"/><rect x="101.1" y="101.9" width="2.6" height="1.4"/><rect x="112.9" y="88.8" width="2.6" height="1.4"/><rect x="101.1" y="78.4" width="2.6" height="1.4"/><rect x="118.7" y="68.3" width="2.6" height="1.4"/><rect x="130.6" y="69.1" width="2.6" height="1.4"/><rect x="102.1" y="85.8" width="2.6" height="1.4"/><rect x="116.9" y="93.8" width="2.6" height="1.4"/><rect x="109.5" y="82.9" width="2.6" height="1.4"/><rect x="110.7" y="78.7" width="2.6" height="1.4"/><rect x="90.4" y="96.4" width="2.6" height="1.4"/><rect x="114.9" y="87.1" width="2.6" height="1.4"/><rect x="107.3" y="88.2" width="2.6" height="1.4"/><rect x="112.6" y="84.4" width="2.6" height="1.4"/><rect x="122.3" y="65.4" width="2.6" height="1.4"/><rect x="114.9" y="73.0" width="2.6" height="1.4"/><rect x="110.0" y="102.6" width="2.6" height="1.4"/><rect x="103.3" y="84.1" width="2.6" height="1.4"/><rect x="107.6" y="96.2" width="2.6" height="1.4"/><rect x="104.2" y="65.9" width="2.6" height="1.4"/><rect x="117.1" y="81.2" width="2.6" height="1.4"/><rect x="109.9" y="97.8" width="2.6" height="1.4"/><rect x="105.0" y="81.0" width="2.6" height="1.4"/><rect x="114.0" y="90.1" width="2.6" height="1.4"/><rect x="108.2" y="97.2" width="2.6" height="1.4"/><rect x="132.1" y="80.6" width="2.6" height="1.4"/><rect x="128.9" y="61.0" width="2.6" height="1.4"/><rect x="124.9" y="81.3" width="2.6" height="1.4"/><rect x="113.9" y="81.4" width="2.6" height="1.4"/><rect x="107.2" y="70.6" width="2.6" height="1.4"/><rect x="109.3" y="100.2" width="2.6" height="1.4"/><rect x="122.6" y="81.3" width="2.6" height="1.4"/><rect x="108.1" y="77.2" width="2.6" height="1.4"/><rect x="102.3" y="106.1" width="2.6" height="1.4"/><rect x="118.4" y="86.7" width="2.6" height="1.4"/><rect x="108.5" y="73.5" width="2.6" height="1.4"/><rect x="124.1" y="94.3" width="2.6" height="1.4"/><rect x="104.5" y="96.7" width="2.6" height="1.4"/><rect x="103.1" y="92.7" width="2.6" height="1.4"/><rect x="104.4" y="80.5" width="2.6" height="1.4"/><rect x="117.0" y="90.3" width="2.6" height="1.4"/><rect x="121.4" y="75.7" width="2.6" height="1.4"/><rect x="126.3" y="100.8" width="2.6" height="1.4"/><rect x="112.6" y="90.7" width="2.6" height="1.4"/><rect x="106.0" y="83.5" width="2.6" height="1.4"/><rect x="101.3" y="86.3" width="2.6" height="1.4"/><rect x="114.4" y="100.8" width="2.6" height="1.4"/><rect x="120.9" y="94.7" width="2.6" height="1.4"/><rect x="109.6" y="82.7" width="2.6" height="1.4"/><rect x="109.8" y="87.9" width="2.6" height="1.4"/><rect x="96.0" y="94.2" width="2.6" height="1.4"/><rect x="99.2" y="79.4" width="2.6" height="1.4"/><rect x="112.9" y="79.4" width="2.6" height="1.4"/><rect x="127.1" y="84.2" width="2.6" height="1.4"/><rect x="126.3" y="98.8" width="2.6" height="1.4"/><rect x="108.4" y="89.9" width="2.6" height="1.4"/><rect x="123.9" y="81.5" width="2.6" height="1.4"/><rect x="113.5" y="78.9" width="2.6" height="1.4"/><rect x="113.2" y="81.2" width="2.6" height="1.4"/><rect x="113.4" y="96.8" width="2.6" height="1.4"/><rect x="124.7" y="86.8" width="2.6" height="1.4"/><rect x="114.4" y="95.2" width="2.6" height="1.4"/><rect x="110.2" y="73.1" width="2.6" height="1.4"/><rect x="122.3" y="74.5" width="2.6" height="1.4"/><rect x="120.7" y="74.2" width="2.6" height="1.4"/><rect x="128.5" y="73.3" width="2.6" height="1.4"/><rect x="120.0" y="102.6" width="2.6" height="1.4"/><rect x="104.4" y="102.4" width="2.6" height="1.4"/><rect x="105.6" y="65.0" width="2.6" height="1.4"/><rect x="118.9" y="93.4" width="2.6" height="1.4"/><rect x="110.9" y="56.2" width="2.6" height="1.4"/><rect x="112.2" y="81.8" width="2.6" height="1.4"/><rect x="109.4" y="82.0" width="2.6" height="1.4"/><rect x="97.2" y="78.8" width="2.6" height="1.4"/><rect x="128.3" y="103.1" width="2.6" height="1.4"/><rect x="109.6" y="77.1" width="2.6" height="1.4"/><rect x="116.1" y="97.5" width="2.6" height="1.4"/><rect x="118.9" y="71.8" width="2.6" height="1.4"/><rect x="114.1" y="86.9" width="2.6" height="1.4"/><rect x="125.1" y="99.1" width="2.6" height="1.4"/><rect x="117.2" y="99.3" width="2.6" height="1.4"/><rect x="109.3" y="103.0" width="2.6" height="1.4"/><rect x="109.0" y="89.9" width="2.6" height="1.4"/><rect x="120.6" y="74.8" width="2.6" height="1.4"/><rect x="106.6" y="65.0" width="2.6" height="1.4"/><rect x="114.1" y="84.7" width="2.6" height="1.4"/><rect x="109.9" y="91.0" width="2.6" height="1.4"/><rect x="94.4" y="85.0" width="2.6" height="1.4"/><rect x="113.5" y="82.2" width="2.6" height="1.4"/><rect x="119.6" y="105.5" width="2.6" height="1.4"/><rect x="108.8" y="74.5" width="2.6" height="1.4"/><rect x="107.5" y="86.4" width="2.6" height="1.4"/><rect x="117.8" y="75.4" width="2.6" height="1.4"/><rect x="121.3" y="73.5" width="2.6" height="1.4"/><rect x="119.8" y="90.2" width="2.6" height="1.4"/><rect x="116.7" y="110.2" width="2.6" height="1.4"/><rect x="110.4" y="83.4" width="2.6" height="1.4"/><rect x="116.8" y="95.2" width="2.6" height="1.4"/><rect x="101.1" y="88.5" width="2.6" height="1.4"/><rect x="106.3" y="92.6" width="2.6" height="1.4"/><rect x="124.5" y="85.9" width="2.6" height="1.4"/><rect x="111.8" y="87.4" width="2.6" height="1.4"/><rect x="87.2" y="94.2" width="2.6" height="1.4"/><rect x="117.5" y="87.2" width="2.6" height="1.4"/><rect x="109.3" y="76.9" width="2.6" height="1.4"/><rect x="111.2" y="99.3" width="2.6" height="1.4"/><rect x="111.8" y="100.8" width="2.6" height="1.4"/><rect x="90.5" y="80.0" width="2.6" height="1.4"/><rect x="115.1" y="85.1" width="2.6" height="1.4"/><rect x="98.4" y="77.6" width="2.6" height="1.4"/><rect x="123.5" y="70.4" width="2.6" height="1.4"/><rect x="104.1" y="72.7" width="2.6" height="1.4"/><rect x="107.9" y="92.7" width="2.6" height="1.4"/><rect x="117.8" y="61.9" width="2.6" height="1.4"/><rect x="125.3" y="78.5" width="2.6" height="1.4"/><rect x="107.6" y="104.5" width="2.6" height="1.4"/><rect x="112.0" y="71.0" width="2.6" height="1.4"/><rect x="107.2" y="76.9" width="2.6" height="1.4"/><rect x="104.0" y="81.5" width="2.6" height="1.4"/><rect x="120.3" y="89.3" width="2.6" height="1.4"/><rect x="100.8" y="117.4" width="2.6" height="1.4"/><rect x="104.1" y="86.6" width="2.6" height="1.4"/><rect x="113.0" y="94.1" width="2.6" height="1.4"/><rect x="109.9" y="90.6" width="2.6" height="1.4"/><rect x="130.9" y="86.4" width="2.6" height="1.4"/><rect x="103.3" y="89.1" width="2.6" height="1.4"/><rect x="105.8" y="81.0" width="2.6" height="1.4"/><rect x="114.3" y="89.2" width="2.6" height="1.4"/><rect x="110.2" y="95.1" width="2.6" height="1.4"/><rect x="111.0" y="70.3" width="2.6" height="1.4"/><rect x="120.3" y="81.1" width="2.6" height="1.4"/><rect x="123.2" y="77.8" width="2.6" height="1.4"/><rect x="117.6" y="88.9" width="2.6" height="1.4"/><rect x="89.4" y="68.1" width="2.6" height="1.4"/><rect x="103.0" y="101.5" width="2.6" height="1.4"/><rect x="96.4" y="95.8" width="2.6" height="1.4"/><rect x="122.1" y="91.0" width="2.6" height="1.4"/><rect x="118.5" y="79.6" width="2.6" height="1.4"/><rect x="112.6" y="87.9" width="2.6" height="1.4"/><rect x="116.3" y="93.4" width="2.6" height="1.4"/><rect x="110.9" y="77.2" width="2.6" height="1.4"/><rect x="107.8" y="90.0" width="2.6" height="1.4"/><rect x="98.3" y="70.9" width="2.6" height="1.4"/><rect x="109.1" y="78.9" width="2.6" height="1.4"/><rect x="110.4" y="54.6" width="2.6" height="1.4"/><rect x="109.8" y="82.4" width="2.6" height="1.4"/><rect x="119.4" y="62.5" width="2.6" height="1.4"/><rect x="110.1" y="90.8" width="2.6" height="1.4"/><rect x="116.9" y="99.1" width="2.6" height="1.4"/><rect x="121.8" y="73.2" width="2.6" height="1.4"/><rect x="118.2" y="81.4" width="2.6" height="1.4"/><rect x="105.8" y="103.0" width="2.6" height="1.4"/><rect x="107.3" y="75.5" width="2.6" height="1.4"/><rect x="109.2" y="75.5" width="2.6" height="1.4"/><rect x="121.4" y="89.7" width="2.6" height="1.4"/><rect x="124.8" y="90.0" width="2.6" height="1.4"/><rect x="107.4" y="97.4" width="2.6" height="1.4"/><rect x="107.0" y="80.0" width="2.6" height="1.4"/><rect x="111.2" y="85.8" width="2.6" height="1.4"/><rect x="123.0" y="78.3" width="2.6" height="1.4"/><rect x="85.4" y="62.8" width="2.6" height="1.4"/><rect x="63.8" y="42.2" width="2.6" height="1.4"/><rect x="77.7" y="71.1" width="2.6" height="1.4"/><rect x="85.0" y="72.5" width="2.6" height="1.4"/><rect x="81.4" y="54.7" width="2.6" height="1.4"/><rect x="86.4" y="44.0" width="2.6" height="1.4"/><rect x="62.6" y="56.9" width="2.6" height="1.4"/><rect x="61.4" y="53.4" width="2.6" height="1.4"/><rect x="70.6" y="52.6" width="2.6" height="1.4"/><rect x="80.1" y="47.9" width="2.6" height="1.4"/><rect x="75.0" y="30.3" width="2.6" height="1.4"/><rect x="82.7" y="46.3" width="2.6" height="1.4"/><rect x="69.9" y="68.0" width="2.6" height="1.4"/><rect x="47.8" y="56.4" width="2.6" height="1.4"/><rect x="82.0" y="65.3" width="2.6" height="1.4"/><rect x="60.5" y="67.7" width="2.6" height="1.4"/><rect x="82.7" y="44.5" width="2.6" height="1.4"/><rect x="90.8" y="62.4" width="2.6" height="1.4"/><rect x="81.0" y="54.6" width="2.6" height="1.4"/><rect x="88.1" y="65.2" width="2.6" height="1.4"/><rect x="96.1" y="72.0" width="2.6" height="1.4"/><rect x="72.4" y="59.0" width="2.6" height="1.4"/><rect x="93.1" y="56.2" width="2.6" height="1.4"/><rect x="85.9" y="73.4" width="2.6" height="1.4"/><rect x="82.5" y="67.4" width="2.6" height="1.4"/><rect x="82.5" y="48.6" width="2.6" height="1.4"/><rect x="97.1" y="60.7" width="2.6" height="1.4"/><rect x="72.3" y="49.4" width="2.6" height="1.4"/><rect x="85.6" y="42.2" width="2.6" height="1.4"/><rect x="67.2" y="102.0" width="2.6" height="1.4"/><rect x="98.4" y="83.7" width="2.6" height="1.4"/><rect x="99.2" y="74.8" width="2.6" height="1.4"/><rect x="57.9" y="86.4" width="2.6" height="1.4"/><rect x="97.5" y="72.8" width="2.6" height="1.4"/><rect x="54.2" y="87.4" width="2.6" height="1.4"/><rect x="99.2" y="53.8" width="2.6" height="1.4"/><rect x="82.4" y="78.3" width="2.6" height="1.4"/><rect x="79.5" y="84.6" width="2.6" height="1.4"/><rect x="81.8" y="76.7" width="2.6" height="1.4"/><rect x="81.9" y="34.7" width="2.6" height="1.4"/><rect x="67.2" y="124.6" width="2.6" height="1.4"/><rect x="84.5" y="88.7" width="2.6" height="1.4"/><rect x="96.1" y="96.5" width="2.6" height="1.4"/><rect x="88.2" y="51.8" width="2.6" height="1.4"/><rect x="81.0" y="26.1" width="2.6" height="1.4"/><rect x="78.1" y="80.9" width="2.6" height="1.4"/><rect x="51.3" y="67.1" width="2.6" height="1.4"/><rect x="91.9" y="89.1" width="2.6" height="1.4"/><rect x="68.1" y="50.7" width="2.6" height="1.4"/><rect x="55.2" y="43.5" width="2.6" height="1.4"/><rect x="112.4" y="131.7" width="2.6" height="1.4"/><rect x="130.7" y="113.5" width="2.6" height="1.4"/><rect x="151.3" y="93.8" width="2.6" height="1.4"/><rect x="124.9" y="120.4" width="2.6" height="1.4"/><rect x="150.5" y="135.8" width="2.6" height="1.4"/><rect x="152.1" y="119.6" width="2.6" height="1.4"/><rect x="137.1" y="131.6" width="2.6" height="1.4"/><rect x="131.7" y="121.8" width="2.6" height="1.4"/><rect x="123.6" y="114.3" width="2.6" height="1.4"/><rect x="111.4" y="137.2" width="2.6" height="1.4"/><rect x="120.5" y="98.1" width="2.6" height="1.4"/><rect x="128.8" y="118.0" width="2.6" height="1.4"/><rect x="127.8" y="135.9" width="2.6" height="1.4"/><rect x="124.5" y="115.7" width="2.6" height="1.4"/><rect x="117.0" y="118.1" width="2.6" height="1.4"/></g>
<polygon fill="#1010f0" fill-opacity="0.115" points="40.7,39.1 44.5,40.1 48.3,41.2 52.1,42.2 55.9,43.2 59.6,44.3 63.4,45.3 67.2,46.3 71.0,47.3 74.8,48.3 78.6,49.3 82.4,50.3 86.2,51.3 90.0,52.2 93.8,53.2 97.5,54.1 101.3,55.1 105.1,56.0 108.9,56.9 112.7,57.8 116.5,58.7 120.3,59.6 124.1,60.5 127.9,61.3 131.7,62.2 135.4,63.0 139.2,63.8 143.0,64.7 146.8,65.5 150.6,66.3 154.4,67.1 154.4,72.7 150.6,71.7 146.8,70.7 143.0,69.7 139.2,68.6 135.4,67.6 131.7,66.7 127.9,65.7 124.1,64.7 120.3,63.7 116.5,62.8 112.7,61.9 108.9,60.9 105.1,60.0 101.3,59.1 97.5,58.2 93.8,57.3 90.0,56.5 86.2,55.6 82.4,54.7 78.6,53.9 74.8,53.1 71.0,52.2 67.2,51.4 63.4,50.6 59.6,49.8 55.9,49.0 52.1,48.2 48.3,47.4 44.5,46.6 40.7,45.8"/>
<line x1="40.7" y1="42.5" x2="154.4" y2="69.9" stroke="#111" stroke-width="1.15" stroke-dasharray="4.1 3.9"/>
<text transform="translate(38.70,123.50) scale(1.042,1)" font-size="6.3" fill="#1e1e1e">MCC PGLS:</text>
<text transform="translate(38.70,130.50) scale(1.053,1)" font-size="6.3" fill="#1e1e1e">Estimate = -0.43</text>
<text transform="translate(38.70,137.50) scale(1.105,1)" font-size="6.3" fill="#1e1e1e">p-value = 3.39E-09</text>
<text transform="translate(96.95,12.70) scale(1.01,1)" font-size="9.4" font-weight="bold" fill="#1a1a1a" text-anchor="middle">All Mammals - 1897</text>
<line x1="32.40" y1="18.90" x2="161.50" y2="18.90" stroke="#9a9a9a" stroke-width="1.8"/>
<rect x="32.40" y="0.30" width="129.10" height="142.90" fill="none" stroke="#444" stroke-width="1.05"/>
<g fill="#553a7c" fill-opacity="0.68"><rect x="242.7" y="31.7" width="2.6" height="1.4"/><rect x="228.6" y="38.3" width="2.6" height="1.4"/><rect x="243.5" y="39.8" width="2.6" height="1.4"/><rect x="254.7" y="39.6" width="2.6" height="1.4"/><rect x="235.8" y="41.8" width="2.6" height="1.4"/><rect x="233.4" y="43.6" width="2.6" height="1.4"/><rect x="250.7" y="41.8" width="2.6" height="1.4"/><rect x="254.7" y="43.8" width="2.6" height="1.4"/><rect x="231.6" y="44.8" width="2.6" height="1.4"/><rect x="234.6" y="45.8" width="2.6" height="1.4"/><rect x="244.1" y="44.8" width="2.6" height="1.4"/><rect x="251.5" y="45.8" width="2.6" height="1.4"/><rect x="260.9" y="46.7" width="2.6" height="1.4"/><rect x="258.5" y="48.2" width="2.6" height="1.4"/><rect x="222.7" y="49.1" width="2.6" height="1.4"/><rect x="231.0" y="50.0" width="2.6" height="1.4"/><rect x="237.6" y="48.2" width="2.6" height="1.4"/><rect x="250.1" y="48.8" width="2.6" height="1.4"/><rect x="263.8" y="52.0" width="2.6" height="1.4"/><rect x="232.2" y="52.9" width="2.6" height="1.4"/><rect x="235.8" y="51.7" width="2.6" height="1.4"/><rect x="240.6" y="52.7" width="2.6" height="1.4"/><rect x="249.9" y="51.7" width="2.6" height="1.4"/><rect x="238.2" y="54.1" width="2.6" height="1.4"/><rect x="242.4" y="55.6" width="2.6" height="1.4"/><rect x="262.0" y="55.6" width="2.6" height="1.4"/><rect x="231.0" y="58.0" width="2.6" height="1.4"/><rect x="235.8" y="57.7" width="2.6" height="1.4"/><rect x="238.8" y="58.9" width="2.6" height="1.4"/><rect x="246.5" y="58.0" width="2.6" height="1.4"/><rect x="248.3" y="57.7" width="2.6" height="1.4"/><rect x="251.3" y="58.0" width="2.6" height="1.4"/><rect x="253.7" y="57.7" width="2.6" height="1.4"/><rect x="235.8" y="60.7" width="2.6" height="1.4"/><rect x="242.4" y="60.1" width="2.6" height="1.4"/><rect x="246.5" y="60.1" width="2.6" height="1.4"/><rect x="252.5" y="60.7" width="2.6" height="1.4"/><rect x="243.0" y="62.5" width="2.6" height="1.4"/><rect x="248.3" y="62.5" width="2.6" height="1.4"/><rect x="251.3" y="63.4" width="2.6" height="1.4"/><rect x="237.0" y="65.5" width="2.6" height="1.4"/><rect x="245.3" y="65.5" width="2.6" height="1.4"/><rect x="248.3" y="64.9" width="2.6" height="1.4"/><rect x="257.9" y="65.8" width="2.6" height="1.4"/><rect x="261.8" y="65.8" width="2.6" height="1.4"/><rect x="227.4" y="70.8" width="2.6" height="1.4"/><rect x="232.2" y="69.6" width="2.6" height="1.4"/><rect x="241.8" y="67.3" width="2.6" height="1.4"/><rect x="242.4" y="70.3" width="2.6" height="1.4"/><rect x="245.3" y="68.5" width="2.6" height="1.4"/><rect x="248.9" y="69.0" width="2.6" height="1.4"/><rect x="252.5" y="69.6" width="2.6" height="1.4"/><rect x="260.9" y="67.9" width="2.6" height="1.4"/><rect x="226.8" y="73.2" width="2.6" height="1.4"/><rect x="233.4" y="73.2" width="2.6" height="1.4"/><rect x="241.8" y="73.2" width="2.6" height="1.4"/><rect x="245.3" y="74.4" width="2.6" height="1.4"/><rect x="248.9" y="73.2" width="2.6" height="1.4"/><rect x="256.1" y="72.0" width="2.6" height="1.4"/><rect x="232.2" y="75.6" width="2.6" height="1.4"/><rect x="240.6" y="76.8" width="2.6" height="1.4"/><rect x="245.3" y="76.8" width="2.6" height="1.4"/><rect x="254.9" y="76.8" width="2.6" height="1.4"/><rect x="231.0" y="78.6" width="2.6" height="1.4"/><rect x="242.8" y="78.0" width="2.6" height="1.4"/><rect x="247.0" y="78.0" width="2.6" height="1.4"/><rect x="256.2" y="77.7" width="2.6" height="1.4"/><rect x="234.3" y="82.7" width="2.6" height="1.4"/><rect x="237.9" y="83.2" width="2.6" height="1.4"/><rect x="249.8" y="81.5" width="2.6" height="1.4"/><rect x="248.0" y="83.6" width="2.6" height="1.4"/><rect x="255.9" y="83.6" width="2.6" height="1.4"/><rect x="262.5" y="83.6" width="2.6" height="1.4"/><rect x="242.8" y="86.0" width="2.6" height="1.4"/><rect x="241.4" y="86.9" width="2.6" height="1.4"/><rect x="247.4" y="88.6" width="2.6" height="1.4"/><rect x="259.7" y="89.7" width="2.6" height="1.4"/><rect x="232.9" y="90.7" width="2.6" height="1.4"/><rect x="252.0" y="91.1" width="2.6" height="1.4"/><rect x="251.7" y="94.6" width="2.6" height="1.4"/><rect x="247.4" y="95.6" width="2.6" height="1.4"/><rect x="232.9" y="99.6" width="2.6" height="1.4"/><rect x="237.6" y="98.7" width="2.6" height="1.4"/><rect x="254.1" y="98.7" width="2.6" height="1.4"/><rect x="236.2" y="102.0" width="2.6" height="1.4"/><rect x="242.1" y="102.7" width="2.6" height="1.4"/><rect x="248.9" y="104.5" width="2.6" height="1.4"/><rect x="247.7" y="111.2" width="2.6" height="1.4"/><rect x="251.3" y="117.9" width="2.6" height="1.4"/><rect x="237.6" y="135.4" width="2.6" height="1.4"/><rect x="240.9" y="63.3" width="2.6" height="1.4"/><rect x="237.2" y="88.5" width="2.6" height="1.4"/><rect x="252.3" y="72.2" width="2.6" height="1.4"/><rect x="251.0" y="72.3" width="2.6" height="1.4"/><rect x="250.6" y="80.9" width="2.6" height="1.4"/><rect x="253.5" y="80.0" width="2.6" height="1.4"/><rect x="240.3" y="60.3" width="2.6" height="1.4"/><rect x="238.3" y="74.3" width="2.6" height="1.4"/><rect x="252.0" y="53.5" width="2.6" height="1.4"/><rect x="255.5" y="44.0" width="2.6" height="1.4"/><rect x="243.9" y="69.6" width="2.6" height="1.4"/><rect x="244.4" y="65.9" width="2.6" height="1.4"/><rect x="255.0" y="65.1" width="2.6" height="1.4"/><rect x="235.1" y="70.7" width="2.6" height="1.4"/><rect x="243.8" y="62.0" width="2.6" height="1.4"/><rect x="239.7" y="40.1" width="2.6" height="1.4"/><rect x="233.8" y="55.1" width="2.6" height="1.4"/><rect x="254.8" y="43.3" width="2.6" height="1.4"/><rect x="238.3" y="68.1" width="2.6" height="1.4"/><rect x="223.6" y="79.9" width="2.6" height="1.4"/><rect x="238.0" y="69.9" width="2.6" height="1.4"/><rect x="240.5" y="64.8" width="2.6" height="1.4"/><rect x="245.6" y="60.3" width="2.6" height="1.4"/><rect x="228.7" y="38.8" width="2.6" height="1.4"/><rect x="244.3" y="80.9" width="2.6" height="1.4"/><rect x="239.9" y="68.1" width="2.6" height="1.4"/><rect x="246.1" y="67.4" width="2.6" height="1.4"/><rect x="253.4" y="38.4" width="2.6" height="1.4"/><rect x="247.1" y="57.7" width="2.6" height="1.4"/><rect x="242.0" y="47.8" width="2.6" height="1.4"/></g>
<polygon fill="#1010f0" fill-opacity="0.115" points="224.0,59.8 225.4,60.4 226.7,61.0 228.1,61.5 229.5,62.1 230.8,62.6 232.2,63.2 233.6,63.7 235.0,64.2 236.3,64.7 237.7,65.2 239.1,65.6 240.4,66.0 241.8,66.4 243.2,66.7 244.6,66.9 245.9,67.1 247.3,67.2 248.7,67.3 250.0,67.3 251.4,67.3 252.8,67.3 254.1,67.2 255.5,67.1 256.9,67.0 258.2,66.9 259.6,66.7 261.0,66.6 262.4,66.4 263.7,66.3 265.1,66.1 265.1,79.9 263.7,79.3 262.4,78.7 261.0,78.2 259.6,77.6 258.2,77.1 256.9,76.5 255.5,76.0 254.1,75.5 252.8,75.0 251.4,74.6 250.0,74.1 248.7,73.8 247.3,73.4 245.9,73.1 244.6,72.9 243.2,72.7 241.8,72.6 240.4,72.6 239.1,72.5 237.7,72.6 236.3,72.6 235.0,72.7 233.6,72.8 232.2,72.9 230.8,73.0 229.5,73.2 228.1,73.3 226.7,73.5 225.4,73.6 224.0,73.8"/>
<line x1="224.0" y1="66.8" x2="265.1" y2="73.0" stroke="#111" stroke-width="1.15" stroke-dasharray="4.1 3.9"/>
<text transform="translate(169.50,123.50) scale(1.042,1)" font-size="6.3" fill="#1e1e1e">MCC PGLS:</text>
<text transform="translate(169.50,130.50) scale(1.053,1)" font-size="6.3" fill="#1e1e1e">Estimate = -0.064</text>
<text transform="translate(169.50,137.50) scale(1.105,1)" font-size="6.3" fill="#1e1e1e">p-value = 8.73E-01</text>
<text transform="translate(227.75,12.70) scale(1.01,1)" font-size="9.4" font-weight="bold" fill="#1a1a1a" text-anchor="middle">Carnivora - 134</text>
<line x1="163.20" y1="18.90" x2="292.30" y2="18.90" stroke="#9a9a9a" stroke-width="1.8"/>
<rect x="163.20" y="0.30" width="129.10" height="142.90" fill="none" stroke="#444" stroke-width="1.05"/>
<g fill="#70d09a" fill-opacity="0.68"><rect x="355.5" y="25.4" width="2.6" height="1.4"/><rect x="365.4" y="25.4" width="2.6" height="1.4"/><rect x="362.6" y="27.9" width="2.6" height="1.4"/><rect x="368.7" y="29.7" width="2.6" height="1.4"/><rect x="368.4" y="32.3" width="2.6" height="1.4"/><rect x="368.4" y="33.5" width="2.6" height="1.4"/><rect x="366.9" y="35.0" width="2.6" height="1.4"/><rect x="364.6" y="37.3" width="2.6" height="1.4"/><rect x="368.7" y="37.8" width="2.6" height="1.4"/><rect x="375.3" y="36.8" width="2.6" height="1.4"/><rect x="378.3" y="37.8" width="2.6" height="1.4"/><rect x="361.6" y="38.8" width="2.6" height="1.4"/><rect x="363.9" y="40.8" width="2.6" height="1.4"/><rect x="365.4" y="41.9" width="2.6" height="1.4"/><rect x="363.1" y="42.6" width="2.6" height="1.4"/><rect x="369.2" y="41.9" width="2.6" height="1.4"/><rect x="376.7" y="39.6" width="2.6" height="1.4"/><rect x="376.7" y="41.1" width="2.6" height="1.4"/><rect x="371.5" y="44.9" width="2.6" height="1.4"/><rect x="373.7" y="45.7" width="2.6" height="1.4"/><rect x="379.8" y="45.7" width="2.6" height="1.4"/><rect x="360.1" y="51.4" width="2.6" height="1.4"/><rect x="355.5" y="56.6" width="2.6" height="1.4"/><rect x="366.9" y="58.1" width="2.6" height="1.4"/><rect x="368.4" y="59.0" width="2.6" height="1.4"/><rect x="375.3" y="55.5" width="2.6" height="1.4"/><rect x="381.3" y="56.3" width="2.6" height="1.4"/><rect x="379.8" y="52.5" width="2.6" height="1.4"/><rect x="366.9" y="61.9" width="2.6" height="1.4"/><rect x="368.7" y="64.7" width="2.6" height="1.4"/><rect x="367.7" y="67.7" width="2.6" height="1.4"/><rect x="368.0" y="69.7" width="2.6" height="1.4"/><rect x="376.7" y="66.9" width="2.6" height="1.4"/><rect x="379.8" y="61.6" width="2.6" height="1.4"/><rect x="364.6" y="74.2" width="2.6" height="1.4"/><rect x="369.2" y="78.0" width="2.6" height="1.4"/><rect x="379.8" y="79.9" width="2.6" height="1.4"/><rect x="341.1" y="82.9" width="2.6" height="1.4"/></g>
<polygon fill="#1010f0" fill-opacity="0.115" points="342.4,34.2 343.7,34.8 345.1,35.4 346.4,36.0 347.8,36.6 349.1,37.2 350.4,37.8 351.8,38.4 353.1,39.0 354.5,39.5 355.8,40.1 357.1,40.7 358.5,41.2 359.8,41.7 361.2,42.2 362.5,42.7 363.8,43.2 365.2,43.6 366.5,44.0 367.9,44.3 369.2,44.6 370.5,44.7 371.9,44.7 373.2,44.6 374.6,44.4 375.9,44.1 377.2,43.8 378.6,43.3 379.9,42.8 381.3,42.3 382.6,41.7 382.6,54.7 381.3,54.2 379.9,53.8 378.6,53.3 377.2,53.0 375.9,52.7 374.6,52.4 373.2,52.3 371.9,52.3 370.5,52.4 369.2,52.6 367.9,53.0 366.5,53.4 365.2,53.8 363.8,54.3 362.5,54.9 361.2,55.4 359.8,56.0 358.5,56.6 357.1,57.3 355.8,57.9 354.5,58.6 353.1,59.2 351.8,59.9 350.4,60.5 349.1,61.2 347.8,61.9 346.4,62.6 345.1,63.2 343.7,63.9 342.4,64.6"/>
<line x1="342.4" y1="49.4" x2="382.6" y2="48.2" stroke="#111" stroke-width="1.15" stroke-dasharray="4.1 3.9"/>
<text transform="translate(300.30,123.50) scale(1.042,1)" font-size="6.3" fill="#1e1e1e">MCC PGLS:</text>
<text transform="translate(300.30,130.50) scale(1.053,1)" font-size="6.3" fill="#1e1e1e">Estimate = -0.706</text>
<text transform="translate(300.30,137.50) scale(1.105,1)" font-size="6.3" fill="#1e1e1e">p-value = 2.81E-01</text>
<text transform="translate(358.55,12.70) scale(1.01,1)" font-size="9.4" font-weight="bold" fill="#1a1a1a" text-anchor="middle">Castorimorpha - 49</text>
<line x1="294.00" y1="18.90" x2="423.10" y2="18.90" stroke="#9a9a9a" stroke-width="1.8"/>
<rect x="294.00" y="0.30" width="129.10" height="142.90" fill="none" stroke="#444" stroke-width="1.05"/>
<g fill="#8a4632" fill-opacity="0.75"><rect x="513.7" y="33.6" width="2.6" height="1.4"/><rect x="497.0" y="36.8" width="2.6" height="1.4"/><rect x="507.1" y="36.5" width="2.6" height="1.4"/><rect x="508.9" y="36.2" width="2.6" height="1.4"/><rect x="518.7" y="35.6" width="2.6" height="1.4"/><rect x="483.9" y="38.8" width="2.6" height="1.4"/><rect x="505.7" y="39.6" width="2.6" height="1.4"/><rect x="513.7" y="39.2" width="2.6" height="1.4"/><rect x="517.8" y="39.8" width="2.6" height="1.4"/><rect x="510.1" y="41.9" width="2.6" height="1.4"/><rect x="514.6" y="42.8" width="2.6" height="1.4"/><rect x="520.8" y="41.6" width="2.6" height="1.4"/><rect x="522.6" y="43.4" width="2.6" height="1.4"/><rect x="484.1" y="43.7" width="2.6" height="1.4"/><rect x="506.7" y="45.8" width="2.6" height="1.4"/><rect x="512.5" y="45.5" width="2.6" height="1.4"/><rect x="521.1" y="45.5" width="2.6" height="1.4"/><rect x="499.4" y="46.7" width="2.6" height="1.4"/><rect x="513.7" y="47.2" width="2.6" height="1.4"/><rect x="519.6" y="47.5" width="2.6" height="1.4"/><rect x="484.5" y="47.9" width="2.6" height="1.4"/><rect x="492.2" y="47.9" width="2.6" height="1.4"/><rect x="499.9" y="52.0" width="2.6" height="1.4"/><rect x="507.1" y="50.5" width="2.6" height="1.4"/><rect x="510.1" y="50.5" width="2.6" height="1.4"/><rect x="517.8" y="50.5" width="2.6" height="1.4"/><rect x="521.4" y="49.6" width="2.6" height="1.4"/><rect x="532.1" y="50.5" width="2.6" height="1.4"/><rect x="507.7" y="52.7" width="2.6" height="1.4"/><rect x="512.5" y="53.5" width="2.6" height="1.4"/><rect x="514.9" y="53.9" width="2.6" height="1.4"/><rect x="519.0" y="52.0" width="2.6" height="1.4"/><rect x="487.4" y="53.9" width="2.6" height="1.4"/><rect x="503.5" y="56.3" width="2.6" height="1.4"/><rect x="507.1" y="55.5" width="2.6" height="1.4"/><rect x="510.7" y="55.9" width="2.6" height="1.4"/><rect x="514.9" y="56.3" width="2.6" height="1.4"/><rect x="520.8" y="55.5" width="2.6" height="1.4"/><rect x="524.4" y="56.3" width="2.6" height="1.4"/><rect x="526.8" y="55.1" width="2.6" height="1.4"/><rect x="529.2" y="56.3" width="2.6" height="1.4"/><rect x="532.7" y="55.5" width="2.6" height="1.4"/><rect x="522.0" y="58.9" width="2.6" height="1.4"/><rect x="508.7" y="59.1" width="2.6" height="1.4"/><rect x="512.5" y="58.9" width="2.6" height="1.4"/><rect x="484.5" y="59.8" width="2.6" height="1.4"/><rect x="491.6" y="59.8" width="2.6" height="1.4"/><rect x="504.1" y="60.7" width="2.6" height="1.4"/><rect x="508.9" y="61.0" width="2.6" height="1.4"/><rect x="513.7" y="60.7" width="2.6" height="1.4"/><rect x="545.3" y="60.3" width="2.6" height="1.4"/><rect x="540.5" y="61.9" width="2.6" height="1.4"/><rect x="512.5" y="63.1" width="2.6" height="1.4"/><rect x="524.4" y="63.6" width="2.6" height="1.4"/><rect x="495.2" y="63.6" width="2.6" height="1.4"/><rect x="545.3" y="64.8" width="2.6" height="1.4"/><rect x="508.9" y="66.6" width="2.6" height="1.4"/><rect x="512.5" y="66.0" width="2.6" height="1.4"/><rect x="516.7" y="67.2" width="2.6" height="1.4"/><rect x="523.8" y="66.0" width="2.6" height="1.4"/><rect x="526.8" y="67.2" width="2.6" height="1.4"/><rect x="535.7" y="64.6" width="2.6" height="1.4"/><rect x="503.5" y="69.4" width="2.6" height="1.4"/><rect x="507.7" y="69.6" width="2.6" height="1.4"/><rect x="541.1" y="69.4" width="2.6" height="1.4"/><rect x="544.7" y="69.6" width="2.6" height="1.4"/><rect x="494.6" y="71.8" width="2.6" height="1.4"/><rect x="504.1" y="70.8" width="2.6" height="1.4"/><rect x="508.3" y="71.4" width="2.6" height="1.4"/><rect x="512.5" y="69.8" width="2.6" height="1.4"/><rect x="517.8" y="70.2" width="2.6" height="1.4"/><rect x="519.6" y="71.0" width="2.6" height="1.4"/><rect x="524.4" y="70.6" width="2.6" height="1.4"/><rect x="524.4" y="72.0" width="2.6" height="1.4"/><rect x="512.5" y="73.4" width="2.6" height="1.4"/><rect x="516.0" y="72.6" width="2.6" height="1.4"/><rect x="481.5" y="75.6" width="2.6" height="1.4"/><rect x="502.3" y="76.8" width="2.6" height="1.4"/><rect x="505.3" y="77.0" width="2.6" height="1.4"/><rect x="514.9" y="76.8" width="2.6" height="1.4"/><rect x="519.6" y="75.6" width="2.6" height="1.4"/><rect x="522.0" y="78.0" width="2.6" height="1.4"/><rect x="525.6" y="77.7" width="2.6" height="1.4"/><rect x="531.5" y="77.7" width="2.6" height="1.4"/><rect x="535.1" y="78.6" width="2.6" height="1.4"/><rect x="501.7" y="78.6" width="2.6" height="1.4"/><rect x="511.3" y="78.6" width="2.6" height="1.4"/><rect x="502.1" y="78.0" width="2.6" height="1.4"/><rect x="506.3" y="78.0" width="2.6" height="1.4"/><rect x="510.5" y="79.0" width="2.6" height="1.4"/><rect x="511.9" y="79.4" width="2.6" height="1.4"/><rect x="521.8" y="77.7" width="2.6" height="1.4"/><rect x="525.3" y="78.4" width="2.6" height="1.4"/><rect x="532.4" y="78.0" width="2.6" height="1.4"/><rect x="534.5" y="79.0" width="2.6" height="1.4"/><rect x="504.9" y="80.4" width="2.6" height="1.4"/><rect x="508.4" y="81.5" width="2.6" height="1.4"/><rect x="514.1" y="81.5" width="2.6" height="1.4"/><rect x="520.4" y="82.9" width="2.6" height="1.4"/><rect x="523.9" y="82.2" width="2.6" height="1.4"/><rect x="528.9" y="83.2" width="2.6" height="1.4"/><rect x="532.8" y="83.2" width="2.6" height="1.4"/><rect x="495.0" y="86.5" width="2.6" height="1.4"/><rect x="511.9" y="85.5" width="2.6" height="1.4"/><rect x="507.0" y="87.5" width="2.6" height="1.4"/><rect x="506.3" y="88.6" width="2.6" height="1.4"/><rect x="514.5" y="88.3" width="2.6" height="1.4"/><rect x="501.8" y="89.7" width="2.6" height="1.4"/><rect x="519.7" y="90.7" width="2.6" height="1.4"/><rect x="515.5" y="91.7" width="2.6" height="1.4"/><rect x="532.4" y="90.7" width="2.6" height="1.4"/><rect x="537.0" y="91.7" width="2.6" height="1.4"/><rect x="509.4" y="93.9" width="2.6" height="1.4"/><rect x="511.9" y="95.9" width="2.6" height="1.4"/><rect x="510.5" y="96.8" width="2.6" height="1.4"/><rect x="491.5" y="98.7" width="2.6" height="1.4"/><rect x="495.3" y="99.6" width="2.6" height="1.4"/><rect x="511.2" y="99.6" width="2.6" height="1.4"/><rect x="525.8" y="98.7" width="2.6" height="1.4"/><rect x="482.1" y="105.2" width="2.6" height="1.4"/><rect x="538.3" y="104.8" width="2.6" height="1.4"/><rect x="516.9" y="112.8" width="2.6" height="1.4"/><rect x="503.1" y="136.8" width="2.6" height="1.4"/><rect x="505.8" y="45.3" width="2.6" height="1.4"/><rect x="503.1" y="90.1" width="2.6" height="1.4"/><rect x="527.6" y="58.4" width="2.6" height="1.4"/><rect x="519.2" y="45.9" width="2.6" height="1.4"/><rect x="488.3" y="35.2" width="2.6" height="1.4"/><rect x="513.9" y="76.5" width="2.6" height="1.4"/><rect x="512.3" y="45.6" width="2.6" height="1.4"/><rect x="510.6" y="45.7" width="2.6" height="1.4"/><rect x="500.5" y="55.4" width="2.6" height="1.4"/><rect x="509.2" y="48.0" width="2.6" height="1.4"/><rect x="504.9" y="46.5" width="2.6" height="1.4"/><rect x="514.8" y="75.9" width="2.6" height="1.4"/><rect x="510.9" y="86.6" width="2.6" height="1.4"/><rect x="498.5" y="61.8" width="2.6" height="1.4"/><rect x="502.6" y="56.3" width="2.6" height="1.4"/><rect x="513.6" y="65.4" width="2.6" height="1.4"/><rect x="522.6" y="51.3" width="2.6" height="1.4"/><rect x="501.8" y="55.9" width="2.6" height="1.4"/><rect x="515.3" y="49.5" width="2.6" height="1.4"/><rect x="520.5" y="79.6" width="2.6" height="1.4"/><rect x="500.2" y="62.9" width="2.6" height="1.4"/><rect x="521.6" y="34.0" width="2.6" height="1.4"/><rect x="514.5" y="55.4" width="2.6" height="1.4"/><rect x="500.2" y="75.0" width="2.6" height="1.4"/><rect x="514.6" y="52.2" width="2.6" height="1.4"/><rect x="516.6" y="66.4" width="2.6" height="1.4"/><rect x="519.4" y="65.6" width="2.6" height="1.4"/><rect x="516.3" y="43.4" width="2.6" height="1.4"/><rect x="509.0" y="59.9" width="2.6" height="1.4"/><rect x="488.4" y="85.3" width="2.6" height="1.4"/></g>
<polygon fill="#1010f0" fill-opacity="0.115" points="482.8,57.0 484.9,57.5 487.1,58.0 489.2,58.5 491.3,59.0 493.5,59.4 495.6,59.9 497.8,60.4 499.9,60.8 502.0,61.2 504.2,61.6 506.3,62.0 508.4,62.3 510.6,62.6 512.7,62.9 514.9,63.1 517.0,63.2 519.1,63.3 521.3,63.3 523.4,63.3 525.5,63.3 527.7,63.2 529.8,63.0 531.9,62.9 534.1,62.7 536.2,62.5 538.4,62.3 540.5,62.1 542.6,61.9 544.8,61.6 546.9,61.4 546.9,74.6 544.8,74.1 542.6,73.6 540.5,73.1 538.4,72.7 536.2,72.2 534.1,71.8 531.9,71.3 529.8,70.9 527.7,70.6 525.5,70.2 523.4,69.9 521.3,69.6 519.1,69.4 517.0,69.2 514.9,69.1 512.7,69.1 510.6,69.1 508.4,69.1 506.3,69.2 504.2,69.3 502.0,69.5 499.9,69.6 497.8,69.8 495.6,70.0 493.5,70.2 491.3,70.4 489.2,70.7 487.1,70.9 484.9,71.2 482.8,71.4"/>
<line x1="482.8" y1="64.2" x2="546.9" y2="68.0" stroke="#111" stroke-width="1.15" stroke-dasharray="4.1 3.9"/>
<text transform="translate(431.10,123.50) scale(1.042,1)" font-size="6.3" fill="#1e1e1e">MCC PGLS:</text>
<text transform="translate(431.10,130.50) scale(1.053,1)" font-size="6.3" fill="#1e1e1e">Estimate = -0.068</text>
<text transform="translate(431.10,137.50) scale(1.105,1)" font-size="6.3" fill="#1e1e1e">p-value = 7.79E-01</text>
<text transform="translate(489.35,12.70) scale(1.01,1)" font-size="9.4" font-weight="bold" fill="#1a1a1a" text-anchor="middle">Artiodactyla - 174</text>
<line x1="424.80" y1="18.90" x2="553.90" y2="18.90" stroke="#9a9a9a" stroke-width="1.8"/>
<rect x="424.80" y="0.30" width="129.10" height="142.90" fill="none" stroke="#444" stroke-width="1.05"/>
<g fill="#d2b448" fill-opacity="0.68"><rect x="634.5" y="70.9" width="2.6" height="1.4"/><rect x="638.4" y="70.3" width="2.6" height="1.4"/><rect x="639.7" y="70.0" width="2.6" height="1.4"/><rect x="643.0" y="71.9" width="2.6" height="1.4"/><rect x="646.9" y="71.3" width="2.6" height="1.4"/><rect x="656.7" y="69.7" width="2.6" height="1.4"/><rect x="657.3" y="71.6" width="2.6" height="1.4"/><rect x="660.3" y="72.6" width="2.6" height="1.4"/><rect x="624.8" y="74.8" width="2.6" height="1.4"/><rect x="631.9" y="75.6" width="2.6" height="1.4"/><rect x="635.6" y="75.2" width="2.6" height="1.4"/><rect x="639.1" y="74.8" width="2.6" height="1.4"/><rect x="641.7" y="75.6" width="2.6" height="1.4"/><rect x="643.9" y="75.8" width="2.6" height="1.4"/><rect x="646.9" y="75.8" width="2.6" height="1.4"/><rect x="648.9" y="76.1" width="2.6" height="1.4"/><rect x="651.5" y="74.8" width="2.6" height="1.4"/><rect x="658.0" y="74.3" width="2.6" height="1.4"/><rect x="638.4" y="77.4" width="2.6" height="1.4"/><rect x="642.3" y="77.8" width="2.6" height="1.4"/><rect x="637.8" y="79.1" width="2.6" height="1.4"/><rect x="644.7" y="79.5" width="2.6" height="1.4"/><rect x="647.8" y="79.7" width="2.6" height="1.4"/><rect x="649.5" y="78.7" width="2.6" height="1.4"/><rect x="658.6" y="80.8" width="2.6" height="1.4"/><rect x="644.7" y="82.6" width="2.6" height="1.4"/><rect x="646.3" y="83.4" width="2.6" height="1.4"/><rect x="659.0" y="83.0" width="2.6" height="1.4"/><rect x="632.6" y="86.0" width="2.6" height="1.4"/><rect x="641.7" y="86.2" width="2.6" height="1.4"/><rect x="648.6" y="85.2" width="2.6" height="1.4"/><rect x="639.1" y="90.1" width="2.6" height="1.4"/><rect x="644.9" y="90.8" width="2.6" height="1.4"/><rect x="646.9" y="90.1" width="2.6" height="1.4"/><rect x="648.6" y="89.9" width="2.6" height="1.4"/><rect x="642.1" y="92.5" width="2.6" height="1.4"/><rect x="643.9" y="94.7" width="2.6" height="1.4"/><rect x="645.6" y="95.1" width="2.6" height="1.4"/><rect x="640.4" y="96.6" width="2.6" height="1.4"/><rect x="650.8" y="99.9" width="2.6" height="1.4"/><rect x="624.1" y="102.9" width="2.6" height="1.4"/><rect x="630.4" y="107.7" width="2.6" height="1.4"/><rect x="648.2" y="115.5" width="2.6" height="1.4"/><rect x="637.0" y="39.9" width="2.6" height="1.4"/><rect x="623.0" y="56.5" width="2.6" height="1.4"/><rect x="641.0" y="45.9" width="2.6" height="1.4"/><rect x="636.6" y="42.0" width="2.6" height="1.4"/><rect x="633.4" y="52.1" width="2.6" height="1.4"/><rect x="634.4" y="61.9" width="2.6" height="1.4"/><rect x="639.3" y="55.0" width="2.6" height="1.4"/><rect x="644.7" y="69.4" width="2.6" height="1.4"/><rect x="646.6" y="56.2" width="2.6" height="1.4"/><rect x="639.1" y="43.1" width="2.6" height="1.4"/><rect x="637.4" y="61.9" width="2.6" height="1.4"/><rect x="642.9" y="48.4" width="2.6" height="1.4"/><rect x="627.7" y="33.9" width="2.6" height="1.4"/><rect x="643.8" y="66.3" width="2.6" height="1.4"/><rect x="644.3" y="35.9" width="2.6" height="1.4"/><rect x="638.6" y="56.1" width="2.6" height="1.4"/><rect x="631.8" y="57.7" width="2.6" height="1.4"/><rect x="638.7" y="42.7" width="2.6" height="1.4"/><rect x="628.6" y="63.6" width="2.6" height="1.4"/><rect x="644.2" y="42.1" width="2.6" height="1.4"/><rect x="630.8" y="64.6" width="2.6" height="1.4"/><rect x="646.5" y="49.4" width="2.6" height="1.4"/><rect x="656.2" y="49.6" width="2.6" height="1.4"/><rect x="630.4" y="67.1" width="2.6" height="1.4"/><rect x="638.9" y="57.7" width="2.6" height="1.4"/><rect x="641.1" y="40.6" width="2.6" height="1.4"/><rect x="629.1" y="50.8" width="2.6" height="1.4"/><rect x="654.4" y="40.6" width="2.6" height="1.4"/><rect x="653.9" y="56.1" width="2.6" height="1.4"/><rect x="629.9" y="56.7" width="2.6" height="1.4"/><rect x="646.2" y="41.9" width="2.6" height="1.4"/><rect x="620.0" y="57.8" width="2.6" height="1.4"/><rect x="629.9" y="58.9" width="2.6" height="1.4"/><rect x="622.1" y="51.5" width="2.6" height="1.4"/><rect x="632.8" y="34.6" width="2.6" height="1.4"/><rect x="638.4" y="55.5" width="2.6" height="1.4"/><rect x="635.3" y="38.4" width="2.6" height="1.4"/><rect x="642.8" y="31.2" width="2.6" height="1.4"/><rect x="645.9" y="59.5" width="2.6" height="1.4"/><rect x="657.0" y="64.5" width="2.6" height="1.4"/><rect x="644.2" y="56.6" width="2.6" height="1.4"/><rect x="641.0" y="36.5" width="2.6" height="1.4"/><rect x="654.9" y="60.0" width="2.6" height="1.4"/><rect x="637.9" y="38.8" width="2.6" height="1.4"/><rect x="655.1" y="60.0" width="2.6" height="1.4"/><rect x="629.2" y="61.8" width="2.6" height="1.4"/><rect x="659.1" y="53.0" width="2.6" height="1.4"/><rect x="644.6" y="48.0" width="2.6" height="1.4"/><rect x="634.6" y="66.9" width="2.6" height="1.4"/><rect x="639.5" y="63.3" width="2.6" height="1.4"/><rect x="637.7" y="62.5" width="2.6" height="1.4"/><rect x="648.7" y="40.5" width="2.6" height="1.4"/><rect x="630.3" y="52.4" width="2.6" height="1.4"/><rect x="648.8" y="56.8" width="2.6" height="1.4"/><rect x="652.8" y="35.9" width="2.6" height="1.4"/><rect x="645.5" y="45.4" width="2.6" height="1.4"/><rect x="641.7" y="57.4" width="2.6" height="1.4"/><rect x="631.3" y="50.4" width="2.6" height="1.4"/><rect x="629.4" y="56.7" width="2.6" height="1.4"/><rect x="632.4" y="47.1" width="2.6" height="1.4"/><rect x="642.8" y="45.1" width="2.6" height="1.4"/><rect x="651.8" y="45.3" width="2.6" height="1.4"/><rect x="648.9" y="56.9" width="2.6" height="1.4"/><rect x="630.7" y="50.5" width="2.6" height="1.4"/><rect x="632.6" y="48.7" width="2.6" height="1.4"/><rect x="645.0" y="36.8" width="2.6" height="1.4"/><rect x="618.3" y="61.8" width="2.6" height="1.4"/><rect x="621.4" y="62.4" width="2.6" height="1.4"/><rect x="650.7" y="58.2" width="2.6" height="1.4"/><rect x="638.7" y="50.1" width="2.6" height="1.4"/><rect x="643.2" y="49.5" width="2.6" height="1.4"/><rect x="635.5" y="48.6" width="2.6" height="1.4"/><rect x="652.0" y="45.5" width="2.6" height="1.4"/><rect x="644.4" y="38.8" width="2.6" height="1.4"/><rect x="633.8" y="36.0" width="2.6" height="1.4"/><rect x="638.8" y="61.9" width="2.6" height="1.4"/><rect x="643.7" y="47.1" width="2.6" height="1.4"/><rect x="646.6" y="48.9" width="2.6" height="1.4"/><rect x="644.3" y="56.7" width="2.6" height="1.4"/><rect x="628.1" y="63.0" width="2.6" height="1.4"/><rect x="638.4" y="46.4" width="2.6" height="1.4"/><rect x="655.2" y="60.3" width="2.6" height="1.4"/><rect x="659.1" y="59.7" width="2.6" height="1.4"/><rect x="638.7" y="62.4" width="2.6" height="1.4"/><rect x="633.1" y="47.7" width="2.6" height="1.4"/><rect x="635.3" y="50.5" width="2.6" height="1.4"/><rect x="648.2" y="47.2" width="2.6" height="1.4"/><rect x="643.8" y="47.0" width="2.6" height="1.4"/><rect x="638.7" y="55.4" width="2.6" height="1.4"/><rect x="630.3" y="66.0" width="2.6" height="1.4"/><rect x="642.8" y="69.4" width="2.6" height="1.4"/><rect x="650.0" y="61.4" width="2.6" height="1.4"/><rect x="639.3" y="39.6" width="2.6" height="1.4"/><rect x="638.6" y="47.5" width="2.6" height="1.4"/><rect x="643.1" y="47.5" width="2.6" height="1.4"/><rect x="652.1" y="47.4" width="2.6" height="1.4"/><rect x="638.4" y="64.9" width="2.6" height="1.4"/><rect x="640.7" y="38.1" width="2.6" height="1.4"/><rect x="644.7" y="50.8" width="2.6" height="1.4"/><rect x="620.8" y="55.8" width="2.6" height="1.4"/><rect x="630.5" y="44.0" width="2.6" height="1.4"/><rect x="645.4" y="57.1" width="2.6" height="1.4"/><rect x="644.8" y="45.6" width="2.6" height="1.4"/><rect x="643.0" y="51.8" width="2.6" height="1.4"/><rect x="619.4" y="33.5" width="2.6" height="1.4"/><rect x="638.9" y="49.8" width="2.6" height="1.4"/><rect x="635.2" y="65.6" width="2.6" height="1.4"/><rect x="639.6" y="58.0" width="2.6" height="1.4"/><rect x="636.5" y="51.2" width="2.6" height="1.4"/><rect x="624.0" y="46.0" width="2.6" height="1.4"/><rect x="631.5" y="45.1" width="2.6" height="1.4"/><rect x="652.4" y="56.6" width="2.6" height="1.4"/><rect x="652.5" y="64.1" width="2.6" height="1.4"/><rect x="649.6" y="65.9" width="2.6" height="1.4"/><rect x="634.9" y="63.4" width="2.6" height="1.4"/><rect x="637.6" y="46.7" width="2.6" height="1.4"/><rect x="648.7" y="42.7" width="2.6" height="1.4"/><rect x="643.3" y="58.0" width="2.6" height="1.4"/><rect x="644.3" y="48.8" width="2.6" height="1.4"/><rect x="628.3" y="53.7" width="2.6" height="1.4"/><rect x="649.0" y="63.1" width="2.6" height="1.4"/><rect x="647.1" y="67.1" width="2.6" height="1.4"/><rect x="631.1" y="52.8" width="2.6" height="1.4"/><rect x="644.0" y="65.8" width="2.6" height="1.4"/><rect x="642.2" y="59.8" width="2.6" height="1.4"/><rect x="619.7" y="53.0" width="2.6" height="1.4"/><rect x="664.6" y="56.3" width="2.6" height="1.4"/><rect x="623.1" y="55.0" width="2.6" height="1.4"/><rect x="626.9" y="44.8" width="2.6" height="1.4"/><rect x="645.2" y="61.7" width="2.6" height="1.4"/><rect x="650.5" y="55.8" width="2.6" height="1.4"/><rect x="632.4" y="52.1" width="2.6" height="1.4"/><rect x="643.9" y="49.8" width="2.6" height="1.4"/><rect x="634.3" y="48.8" width="2.6" height="1.4"/><rect x="626.2" y="40.5" width="2.6" height="1.4"/><rect x="639.8" y="48.8" width="2.6" height="1.4"/><rect x="641.1" y="70.9" width="2.6" height="1.4"/><rect x="643.6" y="52.9" width="2.6" height="1.4"/><rect x="629.4" y="39.8" width="2.6" height="1.4"/><rect x="644.3" y="42.4" width="2.6" height="1.4"/><rect x="644.8" y="39.9" width="2.6" height="1.4"/><rect x="642.0" y="52.4" width="2.6" height="1.4"/><rect x="650.3" y="48.4" width="2.6" height="1.4"/><rect x="637.1" y="56.4" width="2.6" height="1.4"/><rect x="638.2" y="46.6" width="2.6" height="1.4"/><rect x="637.6" y="59.2" width="2.6" height="1.4"/><rect x="643.0" y="62.0" width="2.6" height="1.4"/><rect x="658.4" y="52.9" width="2.6" height="1.4"/><rect x="629.1" y="55.2" width="2.6" height="1.4"/><rect x="640.8" y="34.8" width="2.6" height="1.4"/><rect x="645.1" y="70.6" width="2.6" height="1.4"/><rect x="650.6" y="34.5" width="2.6" height="1.4"/><rect x="654.0" y="64.6" width="2.6" height="1.4"/><rect x="637.2" y="59.6" width="2.6" height="1.4"/><rect x="655.3" y="49.2" width="2.6" height="1.4"/><rect x="640.5" y="46.3" width="2.6" height="1.4"/><rect x="654.4" y="41.2" width="2.6" height="1.4"/><rect x="649.6" y="33.0" width="2.6" height="1.4"/><rect x="631.7" y="45.8" width="2.6" height="1.4"/><rect x="648.7" y="33.0" width="2.6" height="1.4"/><rect x="646.5" y="45.4" width="2.6" height="1.4"/><rect x="652.6" y="49.4" width="2.6" height="1.4"/><rect x="645.4" y="51.2" width="2.6" height="1.4"/><rect x="658.0" y="48.8" width="2.6" height="1.4"/><rect x="641.4" y="61.9" width="2.6" height="1.4"/><rect x="633.6" y="55.8" width="2.6" height="1.4"/><rect x="618.9" y="54.6" width="2.6" height="1.4"/><rect x="634.5" y="34.5" width="2.6" height="1.4"/><rect x="627.1" y="67.6" width="2.6" height="1.4"/><rect x="644.8" y="34.3" width="2.6" height="1.4"/><rect x="658.2" y="44.6" width="2.6" height="1.4"/><rect x="637.2" y="56.4" width="2.6" height="1.4"/><rect x="629.8" y="33.1" width="2.6" height="1.4"/><rect x="633.5" y="68.1" width="2.6" height="1.4"/><rect x="649.9" y="33.5" width="2.6" height="1.4"/><rect x="652.3" y="53.7" width="2.6" height="1.4"/><rect x="645.5" y="53.9" width="2.6" height="1.4"/><rect x="644.7" y="40.8" width="2.6" height="1.4"/><rect x="632.0" y="44.5" width="2.6" height="1.4"/><rect x="637.2" y="61.0" width="2.6" height="1.4"/><rect x="634.6" y="45.9" width="2.6" height="1.4"/><rect x="647.5" y="58.7" width="2.6" height="1.4"/><rect x="637.4" y="39.9" width="2.6" height="1.4"/><rect x="631.1" y="33.3" width="2.6" height="1.4"/><rect x="651.7" y="66.9" width="2.6" height="1.4"/><rect x="658.7" y="59.5" width="2.6" height="1.4"/><rect x="643.9" y="62.8" width="2.6" height="1.4"/><rect x="649.9" y="50.1" width="2.6" height="1.4"/><rect x="624.4" y="35.7" width="2.6" height="1.4"/><rect x="631.4" y="62.7" width="2.6" height="1.4"/><rect x="652.1" y="49.1" width="2.6" height="1.4"/><rect x="647.2" y="52.7" width="2.6" height="1.4"/><rect x="643.6" y="46.5" width="2.6" height="1.4"/><rect x="640.4" y="53.2" width="2.6" height="1.4"/><rect x="623.2" y="60.0" width="2.6" height="1.4"/><rect x="640.7" y="65.4" width="2.6" height="1.4"/><rect x="650.9" y="63.1" width="2.6" height="1.4"/><rect x="648.5" y="41.4" width="2.6" height="1.4"/><rect x="652.3" y="41.4" width="2.6" height="1.4"/><rect x="653.1" y="61.6" width="2.6" height="1.4"/><rect x="631.2" y="67.9" width="2.6" height="1.4"/><rect x="634.1" y="44.0" width="2.6" height="1.4"/><rect x="625.8" y="50.6" width="2.6" height="1.4"/><rect x="650.5" y="44.9" width="2.6" height="1.4"/><rect x="658.5" y="61.9" width="2.6" height="1.4"/><rect x="635.5" y="38.1" width="2.6" height="1.4"/><rect x="624.9" y="60.3" width="2.6" height="1.4"/><rect x="653.2" y="40.0" width="2.6" height="1.4"/><rect x="640.7" y="49.8" width="2.6" height="1.4"/><rect x="638.2" y="59.6" width="2.6" height="1.4"/><rect x="660.9" y="45.3" width="2.6" height="1.4"/><rect x="648.9" y="66.9" width="2.6" height="1.4"/><rect x="638.0" y="51.4" width="2.6" height="1.4"/><rect x="627.8" y="66.8" width="2.6" height="1.4"/><rect x="635.6" y="45.1" width="2.6" height="1.4"/></g>
<polygon fill="#1010f0" fill-opacity="0.115" points="618.8,50.5 620.5,50.9 622.2,51.2 623.9,51.6 625.6,52.0 627.3,52.3 629.0,52.6 630.7,53.0 632.4,53.3 634.1,53.6 635.8,53.9 637.5,54.2 639.2,54.4 640.9,54.7 642.6,54.9 644.3,55.0 646.0,55.2 647.7,55.3 649.4,55.4 651.1,55.5 652.8,55.5 654.5,55.6 656.2,55.6 657.9,55.6 659.6,55.5 661.3,55.5 663.0,55.5 664.7,55.4 666.4,55.3 668.1,55.3 669.8,55.2 669.8,64.6 668.1,64.2 666.4,63.9 664.7,63.5 663.0,63.2 661.3,62.9 659.6,62.5 657.9,62.2 656.2,61.9 654.5,61.6 652.8,61.4 651.1,61.2 649.4,60.9 647.7,60.8 646.0,60.6 644.3,60.5 642.6,60.4 640.9,60.3 639.2,60.2 637.5,60.2 635.8,60.2 634.1,60.2 632.4,60.2 630.7,60.2 629.0,60.3 627.3,60.3 625.6,60.4 623.9,60.5 622.2,60.5 620.5,60.6 618.8,60.7"/>
<line x1="618.8" y1="55.6" x2="669.8" y2="59.9" stroke="#111" stroke-width="1.15" stroke-dasharray="4.1 3.9"/>
<text transform="translate(561.90,123.50) scale(1.042,1)" font-size="6.3" fill="#1e1e1e">MCC PGLS:</text>
<text transform="translate(561.90,130.50) scale(1.053,1)" font-size="6.3" fill="#1e1e1e">Estimate = -0.104</text>
<text transform="translate(561.90,137.50) scale(1.105,1)" font-size="6.3" fill="#1e1e1e">p-value = 6.44E-01</text>
<text transform="translate(620.15,12.70) scale(1.01,1)" font-size="9.4" font-weight="bold" fill="#1a1a1a" text-anchor="middle">Cricetidae - 276</text>
<line x1="555.60" y1="18.90" x2="684.70" y2="18.90" stroke="#9a9a9a" stroke-width="1.8"/>
<rect x="555.60" y="0.30" width="129.10" height="142.90" fill="none" stroke="#444" stroke-width="1.05"/>
<g fill="#7676d4" fill-opacity="0.68"><rect x="77.8" y="219.9" width="2.6" height="1.4"/><rect x="104.1" y="219.9" width="2.6" height="1.4"/><rect x="109.9" y="219.9" width="2.6" height="1.4"/><rect x="114.6" y="221.4" width="2.6" height="1.4"/><rect x="121.0" y="223.0" width="2.6" height="1.4"/><rect x="77.8" y="224.6" width="2.6" height="1.4"/><rect x="95.7" y="224.6" width="2.6" height="1.4"/><rect x="118.1" y="225.7" width="2.6" height="1.4"/><rect x="102.9" y="227.5" width="2.6" height="1.4"/><rect x="104.7" y="229.2" width="2.6" height="1.4"/><rect x="108.7" y="228.4" width="2.6" height="1.4"/><rect x="112.3" y="228.9" width="2.6" height="1.4"/><rect x="115.7" y="229.6" width="2.6" height="1.4"/><rect x="125.1" y="231.0" width="2.6" height="1.4"/><rect x="70.8" y="230.7" width="2.6" height="1.4"/><rect x="108.7" y="233.6" width="2.6" height="1.4"/><rect x="108.2" y="235.7" width="2.6" height="1.4"/><rect x="140.3" y="235.1" width="2.6" height="1.4"/><rect x="118.1" y="237.8" width="2.6" height="1.4"/><rect x="86.8" y="239.4" width="2.6" height="1.4"/><rect x="105.5" y="240.7" width="2.6" height="1.4"/><rect x="118.5" y="242.7" width="2.6" height="1.4"/><rect x="139.4" y="255.9" width="2.6" height="1.4"/><rect x="99.7" y="189.2" width="2.6" height="1.4"/><rect x="82.6" y="189.4" width="2.6" height="1.4"/><rect x="121.6" y="204.8" width="2.6" height="1.4"/><rect x="106.8" y="184.8" width="2.6" height="1.4"/><rect x="92.6" y="178.7" width="2.6" height="1.4"/><rect x="97.1" y="205.2" width="2.6" height="1.4"/><rect x="72.1" y="178.8" width="2.6" height="1.4"/><rect x="102.7" y="189.6" width="2.6" height="1.4"/><rect x="111.0" y="214.4" width="2.6" height="1.4"/><rect x="105.5" y="196.3" width="2.6" height="1.4"/><rect x="98.0" y="191.2" width="2.6" height="1.4"/><rect x="96.7" y="201.7" width="2.6" height="1.4"/><rect x="94.1" y="208.3" width="2.6" height="1.4"/><rect x="138.8" y="207.2" width="2.6" height="1.4"/><rect x="104.0" y="210.3" width="2.6" height="1.4"/><rect x="108.7" y="199.7" width="2.6" height="1.4"/><rect x="91.3" y="207.7" width="2.6" height="1.4"/><rect x="108.3" y="208.2" width="2.6" height="1.4"/><rect x="86.3" y="201.5" width="2.6" height="1.4"/><rect x="111.0" y="201.1" width="2.6" height="1.4"/><rect x="80.6" y="176.3" width="2.6" height="1.4"/><rect x="95.1" y="203.8" width="2.6" height="1.4"/><rect x="99.5" y="185.6" width="2.6" height="1.4"/><rect x="76.5" y="184.1" width="2.6" height="1.4"/><rect x="98.9" y="189.2" width="2.6" height="1.4"/><rect x="75.4" y="210.6" width="2.6" height="1.4"/><rect x="85.7" y="192.2" width="2.6" height="1.4"/><rect x="90.2" y="188.9" width="2.6" height="1.4"/><rect x="99.3" y="195.5" width="2.6" height="1.4"/><rect x="108.3" y="188.5" width="2.6" height="1.4"/><rect x="75.7" y="212.9" width="2.6" height="1.4"/><rect x="97.5" y="207.3" width="2.6" height="1.4"/><rect x="117.0" y="211.9" width="2.6" height="1.4"/><rect x="99.3" y="180.9" width="2.6" height="1.4"/><rect x="73.9" y="201.0" width="2.6" height="1.4"/><rect x="109.2" y="209.2" width="2.6" height="1.4"/><rect x="82.3" y="179.0" width="2.6" height="1.4"/><rect x="101.2" y="187.8" width="2.6" height="1.4"/><rect x="123.2" y="200.6" width="2.6" height="1.4"/><rect x="90.0" y="205.6" width="2.6" height="1.4"/><rect x="103.8" y="190.2" width="2.6" height="1.4"/><rect x="79.7" y="188.9" width="2.6" height="1.4"/><rect x="82.0" y="170.0" width="2.6" height="1.4"/><rect x="108.4" y="210.5" width="2.6" height="1.4"/><rect x="113.8" y="209.3" width="2.6" height="1.4"/><rect x="88.3" y="181.2" width="2.6" height="1.4"/><rect x="81.5" y="201.4" width="2.6" height="1.4"/><rect x="94.1" y="220.0" width="2.6" height="1.4"/><rect x="106.0" y="179.2" width="2.6" height="1.4"/><rect x="112.6" y="218.4" width="2.6" height="1.4"/><rect x="99.2" y="184.8" width="2.6" height="1.4"/><rect x="126.2" y="193.6" width="2.6" height="1.4"/><rect x="97.4" y="176.1" width="2.6" height="1.4"/><rect x="79.2" y="171.8" width="2.6" height="1.4"/><rect x="115.6" y="218.8" width="2.6" height="1.4"/><rect x="92.4" y="180.6" width="2.6" height="1.4"/><rect x="97.8" y="202.9" width="2.6" height="1.4"/><rect x="74.9" y="176.5" width="2.6" height="1.4"/><rect x="97.1" y="206.4" width="2.6" height="1.4"/><rect x="99.9" y="204.5" width="2.6" height="1.4"/><rect x="103.6" y="189.8" width="2.6" height="1.4"/><rect x="96.8" y="193.6" width="2.6" height="1.4"/><rect x="106.2" y="192.5" width="2.6" height="1.4"/><rect x="121.2" y="207.4" width="2.6" height="1.4"/><rect x="107.0" y="209.2" width="2.6" height="1.4"/><rect x="114.9" y="209.5" width="2.6" height="1.4"/><rect x="71.4" y="181.3" width="2.6" height="1.4"/><rect x="127.8" y="215.0" width="2.6" height="1.4"/><rect x="107.5" y="207.5" width="2.6" height="1.4"/><rect x="88.7" y="187.1" width="2.6" height="1.4"/><rect x="88.6" y="208.6" width="2.6" height="1.4"/><rect x="105.9" y="187.5" width="2.6" height="1.4"/><rect x="126.0" y="212.8" width="2.6" height="1.4"/><rect x="117.4" y="208.2" width="2.6" height="1.4"/><rect x="93.6" y="198.9" width="2.6" height="1.4"/><rect x="81.1" y="178.3" width="2.6" height="1.4"/><rect x="84.8" y="187.5" width="2.6" height="1.4"/><rect x="77.4" y="189.7" width="2.6" height="1.4"/><rect x="127.6" y="208.8" width="2.6" height="1.4"/><rect x="112.6" y="201.3" width="2.6" height="1.4"/><rect x="104.8" y="200.6" width="2.6" height="1.4"/><rect x="90.2" y="196.5" width="2.6" height="1.4"/><rect x="75.5" y="195.4" width="2.6" height="1.4"/><rect x="94.1" y="184.3" width="2.6" height="1.4"/><rect x="93.0" y="203.2" width="2.6" height="1.4"/><rect x="88.0" y="200.4" width="2.6" height="1.4"/><rect x="81.6" y="191.2" width="2.6" height="1.4"/><rect x="106.8" y="219.5" width="2.6" height="1.4"/><rect x="102.8" y="209.2" width="2.6" height="1.4"/><rect x="75.6" y="183.4" width="2.6" height="1.4"/><rect x="124.9" y="205.0" width="2.6" height="1.4"/><rect x="132.8" y="202.7" width="2.6" height="1.4"/><rect x="94.3" y="178.3" width="2.6" height="1.4"/><rect x="108.7" y="205.6" width="2.6" height="1.4"/><rect x="130.5" y="212.4" width="2.6" height="1.4"/><rect x="94.7" y="180.7" width="2.6" height="1.4"/><rect x="97.4" y="209.5" width="2.6" height="1.4"/><rect x="110.4" y="217.6" width="2.6" height="1.4"/><rect x="112.3" y="203.2" width="2.6" height="1.4"/><rect x="108.2" y="204.3" width="2.6" height="1.4"/><rect x="77.7" y="211.3" width="2.6" height="1.4"/><rect x="104.6" y="188.5" width="2.6" height="1.4"/><rect x="104.8" y="204.4" width="2.6" height="1.4"/><rect x="122.9" y="196.4" width="2.6" height="1.4"/><rect x="104.0" y="204.9" width="2.6" height="1.4"/><rect x="81.1" y="186.8" width="2.6" height="1.4"/><rect x="101.8" y="208.8" width="2.6" height="1.4"/><rect x="133.4" y="215.0" width="2.6" height="1.4"/><rect x="115.7" y="203.5" width="2.6" height="1.4"/><rect x="97.0" y="186.4" width="2.6" height="1.4"/><rect x="110.3" y="181.7" width="2.6" height="1.4"/><rect x="100.4" y="200.8" width="2.6" height="1.4"/><rect x="103.5" y="216.0" width="2.6" height="1.4"/><rect x="97.1" y="199.3" width="2.6" height="1.4"/><rect x="112.3" y="185.3" width="2.6" height="1.4"/><rect x="94.1" y="197.9" width="2.6" height="1.4"/><rect x="113.9" y="194.8" width="2.6" height="1.4"/><rect x="111.5" y="208.0" width="2.6" height="1.4"/><rect x="75.1" y="172.5" width="2.6" height="1.4"/><rect x="76.0" y="192.1" width="2.6" height="1.4"/><rect x="102.0" y="208.6" width="2.6" height="1.4"/><rect x="111.7" y="197.0" width="2.6" height="1.4"/><rect x="115.7" y="214.8" width="2.6" height="1.4"/><rect x="106.2" y="207.2" width="2.6" height="1.4"/><rect x="78.3" y="195.6" width="2.6" height="1.4"/><rect x="82.3" y="178.5" width="2.6" height="1.4"/><rect x="93.1" y="198.4" width="2.6" height="1.4"/><rect x="97.9" y="194.5" width="2.6" height="1.4"/><rect x="82.8" y="195.1" width="2.6" height="1.4"/><rect x="86.9" y="177.6" width="2.6" height="1.4"/><rect x="100.2" y="216.7" width="2.6" height="1.4"/><rect x="92.3" y="183.7" width="2.6" height="1.4"/><rect x="94.0" y="194.5" width="2.6" height="1.4"/><rect x="100.8" y="211.4" width="2.6" height="1.4"/><rect x="105.8" y="179.6" width="2.6" height="1.4"/><rect x="81.2" y="177.6" width="2.6" height="1.4"/><rect x="105.6" y="202.6" width="2.6" height="1.4"/><rect x="127.2" y="206.0" width="2.6" height="1.4"/><rect x="103.6" y="201.5" width="2.6" height="1.4"/><rect x="103.2" y="218.0" width="2.6" height="1.4"/></g>
<polygon fill="#1010f0" fill-opacity="0.115" points="71.0,185.6 73.4,186.7 75.7,187.8 78.1,188.8 80.5,189.9 82.9,190.9 85.2,191.9 87.6,193.0 90.0,194.0 92.4,194.9 94.7,195.9 97.1,196.8 99.5,197.8 101.9,198.7 104.2,199.5 106.6,200.4 109.0,201.2 111.3,202.0 113.7,202.8 116.1,203.6 118.5,204.3 120.8,205.0 123.2,205.8 125.6,206.5 128.0,207.2 130.3,207.8 132.7,208.5 135.1,209.2 137.5,209.8 139.8,210.5 142.2,211.2 142.2,222.8 139.8,221.8 137.5,220.7 135.1,219.6 132.7,218.5 130.3,217.4 128.0,216.4 125.6,215.3 123.2,214.3 120.8,213.2 118.5,212.2 116.1,211.2 113.7,210.2 111.3,209.3 109.0,208.3 106.6,207.4 104.2,206.5 101.9,205.7 99.5,204.8 97.1,204.0 94.7,203.2 92.4,202.4 90.0,201.6 87.6,200.9 85.2,200.1 82.9,199.4 80.5,198.7 78.1,198.0 75.7,197.3 73.4,196.7 71.0,196.0"/>
<line x1="71.0" y1="190.8" x2="142.2" y2="217.0" stroke="#111" stroke-width="1.15" stroke-dasharray="4.1 3.9"/>
<text transform="translate(38.70,268.60) scale(1.042,1)" font-size="6.3" fill="#1e1e1e">MCC PGLS:</text>
<text transform="translate(38.70,275.60) scale(1.053,1)" font-size="6.3" fill="#1e1e1e">Estimate = -0.709</text>
<text transform="translate(38.70,282.60) scale(1.105,1)" font-size="6.3" fill="#1e1e1e">p-value = 1.54E-06</text>
<text transform="translate(96.95,157.80) scale(1.01,1)" font-size="9.4" font-weight="bold" fill="#1a1a1a" text-anchor="middle">Eulipotyphla - 172</text>
<line x1="32.40" y1="164.00" x2="161.50" y2="164.00" stroke="#9a9a9a" stroke-width="1.8"/>
<rect x="32.40" y="145.40" width="129.10" height="142.80" fill="none" stroke="#444" stroke-width="1.05"/>
<g fill="#5ec840" fill-opacity="0.68"><rect x="225.6" y="171.9" width="2.6" height="1.4"/><rect x="208.2" y="181.3" width="2.6" height="1.4"/><rect x="209.5" y="180.6" width="2.6" height="1.4"/><rect x="215.2" y="180.9" width="2.6" height="1.4"/><rect x="220.4" y="178.8" width="2.6" height="1.4"/><rect x="220.9" y="181.3" width="2.6" height="1.4"/><rect x="226.8" y="177.8" width="2.6" height="1.4"/><rect x="230.3" y="180.1" width="2.6" height="1.4"/><rect x="226.5" y="182.1" width="2.6" height="1.4"/><rect x="226.5" y="183.5" width="2.6" height="1.4"/><rect x="213.5" y="186.1" width="2.6" height="1.4"/><rect x="229.6" y="185.8" width="2.6" height="1.4"/><rect x="225.6" y="188.2" width="2.6" height="1.4"/><rect x="223.0" y="190.5" width="2.6" height="1.4"/><rect x="224.7" y="191.3" width="2.6" height="1.4"/><rect x="207.4" y="188.7" width="2.6" height="1.4"/><rect x="212.6" y="191.7" width="2.6" height="1.4"/><rect x="229.1" y="191.3" width="2.6" height="1.4"/><rect x="226.5" y="193.9" width="2.6" height="1.4"/><rect x="225.6" y="196.2" width="2.6" height="1.4"/><rect x="233.8" y="193.9" width="2.6" height="1.4"/><rect x="230.8" y="194.8" width="2.6" height="1.4"/><rect x="243.8" y="194.8" width="2.6" height="1.4"/><rect x="261.2" y="185.8" width="2.6" height="1.4"/><rect x="266.1" y="193.9" width="2.6" height="1.4"/><rect x="262.1" y="196.9" width="2.6" height="1.4"/><rect x="269.9" y="200.0" width="2.6" height="1.4"/><rect x="213.5" y="201.4" width="2.6" height="1.4"/><rect x="224.7" y="201.4" width="2.6" height="1.4"/><rect x="216.9" y="205.2" width="2.6" height="1.4"/><rect x="215.7" y="206.1" width="2.6" height="1.4"/><rect x="221.3" y="207.0" width="2.6" height="1.4"/><rect x="203.9" y="208.4" width="2.6" height="1.4"/><rect x="230.8" y="208.7" width="2.6" height="1.4"/><rect x="234.3" y="210.1" width="2.6" height="1.4"/><rect x="213.5" y="210.8" width="2.6" height="1.4"/><rect x="257.7" y="204.9" width="2.6" height="1.4"/><rect x="264.7" y="207.3" width="2.6" height="1.4"/><rect x="267.3" y="208.7" width="2.6" height="1.4"/><rect x="262.1" y="210.1" width="2.6" height="1.4"/><rect x="270.7" y="210.1" width="2.6" height="1.4"/><rect x="220.4" y="212.5" width="2.6" height="1.4"/><rect x="222.1" y="214.8" width="2.6" height="1.4"/><rect x="223.9" y="216.5" width="2.6" height="1.4"/><rect x="220.4" y="218.3" width="2.6" height="1.4"/><rect x="232.6" y="214.8" width="2.6" height="1.4"/><rect x="266.4" y="216.5" width="2.6" height="1.4"/><rect x="268.1" y="218.3" width="2.6" height="1.4"/><rect x="230.8" y="219.5" width="2.6" height="1.4"/><rect x="232.6" y="220.9" width="2.6" height="1.4"/><rect x="263.8" y="220.0" width="2.6" height="1.4"/><rect x="265.5" y="221.7" width="2.6" height="1.4"/><rect x="229.1" y="225.7" width="2.6" height="1.4"/><rect x="234.3" y="226.4" width="2.6" height="1.4"/><rect x="216.4" y="228.7" width="2.6" height="1.4"/><rect x="261.5" y="230.9" width="2.6" height="1.4"/><rect x="208.8" y="238.6" width="2.6" height="1.4"/><rect x="266.7" y="250.0" width="2.6" height="1.4"/></g>
<polygon fill="#1010f0" fill-opacity="0.115" points="205.6,188.6 207.8,189.5 210.1,190.4 212.3,191.3 214.5,192.2 216.8,193.1 219.0,194.0 221.2,194.8 223.5,195.6 225.7,196.4 227.9,197.1 230.2,197.8 232.4,198.4 234.6,199.0 236.9,199.6 239.1,200.1 241.3,200.6 243.6,201.0 245.8,201.4 248.0,201.8 250.3,202.1 252.5,202.4 254.7,202.7 257.0,203.0 259.2,203.3 261.4,203.5 263.7,203.7 265.9,204.0 268.1,204.2 270.4,204.4 272.6,204.6 272.6,221.2 270.4,220.2 268.1,219.3 265.9,218.4 263.7,217.4 261.4,216.5 259.2,215.6 257.0,214.7 254.7,213.8 252.5,212.9 250.3,212.1 248.0,211.3 245.8,210.5 243.6,209.7 241.3,209.0 239.1,208.3 236.9,207.6 234.6,207.0 232.4,206.5 230.2,206.0 227.9,205.5 225.7,205.1 223.5,204.7 221.2,204.3 219.0,204.0 216.8,203.7 214.5,203.4 212.3,203.1 210.1,202.9 207.8,202.6 205.6,202.4"/>
<line x1="205.6" y1="195.5" x2="272.6" y2="212.9" stroke="#111" stroke-width="1.15" stroke-dasharray="4.1 3.9"/>
<text transform="translate(169.50,268.60) scale(1.042,1)" font-size="6.3" fill="#1e1e1e">MCC PGLS:</text>
<text transform="translate(169.50,275.60) scale(1.053,1)" font-size="6.3" fill="#1e1e1e">Estimate = -0.509</text>
<text transform="translate(169.50,282.60) scale(1.105,1)" font-size="6.3" fill="#1e1e1e">p-value = 4.23E-03</text>
<text transform="translate(227.75,157.80) scale(1.01,1)" font-size="9.4" font-weight="bold" fill="#1a1a1a" text-anchor="middle">Guinea Pig-related - 66</text>
<line x1="163.20" y1="164.00" x2="292.30" y2="164.00" stroke="#9a9a9a" stroke-width="1.8"/>
<rect x="163.20" y="145.40" width="129.10" height="142.80" fill="none" stroke="#444" stroke-width="1.05"/>
<g fill="#e0603c" fill-opacity="0.68"><rect x="356.2" y="181.1" width="2.6" height="1.4"/><rect x="358.9" y="181.6" width="2.6" height="1.4"/><rect x="366.8" y="181.6" width="2.6" height="1.4"/><rect x="371.8" y="182.2" width="2.6" height="1.4"/><rect x="390.8" y="181.1" width="2.6" height="1.4"/><rect x="356.6" y="184.2" width="2.6" height="1.4"/><rect x="385.5" y="185.7" width="2.6" height="1.4"/><rect x="359.7" y="188.7" width="2.6" height="1.4"/><rect x="363.4" y="188.7" width="2.6" height="1.4"/><rect x="361.2" y="191.3" width="2.6" height="1.4"/><rect x="384.7" y="191.3" width="2.6" height="1.4"/><rect x="387.7" y="190.7" width="2.6" height="1.4"/><rect x="368.0" y="193.7" width="2.6" height="1.4"/><rect x="353.6" y="194.8" width="2.6" height="1.4"/><rect x="357.7" y="197.1" width="2.6" height="1.4"/><rect x="361.2" y="197.4" width="2.6" height="1.4"/><rect x="369.2" y="195.6" width="2.6" height="1.4"/><rect x="352.8" y="200.9" width="2.6" height="1.4"/><rect x="361.9" y="203.2" width="2.6" height="1.4"/><rect x="365.3" y="204.7" width="2.6" height="1.4"/><rect x="387.7" y="202.8" width="2.6" height="1.4"/><rect x="390.0" y="203.5" width="2.6" height="1.4"/><rect x="382.4" y="206.5" width="2.6" height="1.4"/><rect x="366.8" y="208.9" width="2.6" height="1.4"/><rect x="380.1" y="210.4" width="2.6" height="1.4"/><rect x="396.9" y="208.5" width="2.6" height="1.4"/><rect x="399.6" y="207.4" width="2.6" height="1.4"/><rect x="393.8" y="212.0" width="2.6" height="1.4"/><rect x="357.4" y="212.6" width="2.6" height="1.4"/><rect x="354.6" y="213.8" width="2.6" height="1.4"/><rect x="385.5" y="212.6" width="2.6" height="1.4"/><rect x="396.5" y="215.0" width="2.6" height="1.4"/><rect x="401.1" y="221.1" width="2.6" height="1.4"/><rect x="367.7" y="221.7" width="2.6" height="1.4"/><rect x="385.9" y="223.7" width="2.6" height="1.4"/><rect x="397.6" y="240.4" width="2.6" height="1.4"/><rect x="400.4" y="254.8" width="2.6" height="1.4"/></g>
<polygon fill="#1010f0" fill-opacity="0.115" points="354.1,184.4 355.7,185.4 357.3,186.4 358.9,187.4 360.5,188.4 362.1,189.3 363.8,190.3 365.4,191.2 367.0,192.1 368.6,193.0 370.2,193.8 371.8,194.7 373.4,195.5 375.0,196.3 376.6,197.1 378.2,197.8 379.9,198.5 381.5,199.2 383.1,199.9 384.7,200.5 386.3,201.2 387.9,201.8 389.5,202.3 391.1,202.9 392.7,203.5 394.4,204.0 396.0,204.5 397.6,205.0 399.2,205.5 400.8,206.0 402.4,206.4 402.4,223.2 400.8,222.2 399.2,221.2 397.6,220.2 396.0,219.2 394.4,218.3 392.7,217.3 391.1,216.4 389.5,215.5 387.9,214.6 386.3,213.8 384.7,212.9 383.1,212.1 381.5,211.3 379.9,210.5 378.2,209.8 376.6,209.1 375.0,208.4 373.4,207.7 371.8,207.1 370.2,206.4 368.6,205.8 367.0,205.3 365.4,204.7 363.8,204.1 362.1,203.6 360.5,203.1 358.9,202.6 357.3,202.1 355.7,201.6 354.1,201.2"/>
<line x1="354.1" y1="192.8" x2="402.4" y2="214.8" stroke="#111" stroke-width="1.15" stroke-dasharray="4.1 3.9"/>
<text transform="translate(300.30,268.60) scale(1.042,1)" font-size="6.3" fill="#1e1e1e">MCC PGLS:</text>
<text transform="translate(300.30,275.60) scale(1.053,1)" font-size="6.3" fill="#1e1e1e">Estimate = -0.914</text>
<text transform="translate(300.30,282.60) scale(1.105,1)" font-size="6.3" fill="#1e1e1e">p-value = 2.88E-03</text>
<text transform="translate(358.55,157.80) scale(1.01,1)" font-size="9.4" font-weight="bold" fill="#1a1a1a" text-anchor="middle">Lagomorpha - 38</text>
<line x1="294.00" y1="164.00" x2="423.10" y2="164.00" stroke="#9a9a9a" stroke-width="1.8"/>
<rect x="294.00" y="145.40" width="129.10" height="142.80" fill="none" stroke="#444" stroke-width="1.05"/>
<g fill="#5c7622" fill-opacity="0.68"><rect x="473.1" y="170.5" width="2.6" height="1.4"/><rect x="469.3" y="177.1" width="2.6" height="1.4"/><rect x="471.0" y="176.6" width="2.6" height="1.4"/><rect x="472.8" y="178.3" width="2.6" height="1.4"/><rect x="474.5" y="179.2" width="2.6" height="1.4"/><rect x="477.1" y="177.4" width="2.6" height="1.4"/><rect x="457.2" y="179.5" width="2.6" height="1.4"/><rect x="470.2" y="182.6" width="2.6" height="1.4"/><rect x="472.8" y="182.3" width="2.6" height="1.4"/><rect x="476.2" y="181.8" width="2.6" height="1.4"/><rect x="478.8" y="182.6" width="2.6" height="1.4"/><rect x="487.5" y="181.8" width="2.6" height="1.4"/><rect x="473.6" y="185.2" width="2.6" height="1.4"/><rect x="475.4" y="186.1" width="2.6" height="1.4"/><rect x="478.0" y="185.8" width="2.6" height="1.4"/><rect x="482.3" y="184.7" width="2.6" height="1.4"/><rect x="483.2" y="186.1" width="2.6" height="1.4"/><rect x="497.9" y="187.0" width="2.6" height="1.4"/><rect x="485.8" y="188.7" width="2.6" height="1.4"/><rect x="486.3" y="191.3" width="2.6" height="1.4"/><rect x="479.7" y="189.9" width="2.6" height="1.4"/><rect x="481.4" y="190.4" width="2.6" height="1.4"/><rect x="457.2" y="191.0" width="2.6" height="1.4"/><rect x="485.8" y="193.0" width="2.6" height="1.4"/><rect x="488.4" y="193.9" width="2.6" height="1.4"/><rect x="497.9" y="193.4" width="2.6" height="1.4"/><rect x="501.9" y="193.4" width="2.6" height="1.4"/><rect x="471.0" y="197.4" width="2.6" height="1.4"/><rect x="474.5" y="197.4" width="2.6" height="1.4"/><rect x="475.4" y="199.1" width="2.6" height="1.4"/><rect x="491.8" y="197.9" width="2.6" height="1.4"/><rect x="477.6" y="201.7" width="2.6" height="1.4"/><rect x="478.0" y="202.6" width="2.6" height="1.4"/><rect x="485.8" y="200.8" width="2.6" height="1.4"/><rect x="507.5" y="203.4" width="2.6" height="1.4"/><rect x="457.2" y="208.3" width="2.6" height="1.4"/><rect x="467.6" y="208.7" width="2.6" height="1.4"/><rect x="485.8" y="210.0" width="2.6" height="1.4"/><rect x="476.2" y="211.3" width="2.6" height="1.4"/><rect x="478.8" y="212.1" width="2.6" height="1.4"/><rect x="481.4" y="212.5" width="2.6" height="1.4"/><rect x="491.8" y="211.8" width="2.6" height="1.4"/><rect x="485.8" y="214.2" width="2.6" height="1.4"/><rect x="495.7" y="214.7" width="2.6" height="1.4"/><rect x="478.0" y="217.0" width="2.6" height="1.4"/><rect x="501.9" y="218.2" width="2.6" height="1.4"/><rect x="457.2" y="219.4" width="2.6" height="1.4"/><rect x="477.1" y="221.1" width="2.6" height="1.4"/><rect x="485.8" y="224.6" width="2.6" height="1.4"/><rect x="489.8" y="226.0" width="2.6" height="1.4"/><rect x="495.0" y="232.9" width="2.6" height="1.4"/><rect x="481.1" y="235.5" width="2.6" height="1.4"/><rect x="489.2" y="237.3" width="2.6" height="1.4"/><rect x="496.7" y="240.7" width="2.6" height="1.4"/></g>
<polygon fill="#1010f0" fill-opacity="0.115" points="458.5,177.7 460.2,178.9 461.9,180.1 463.5,181.3 465.2,182.4 466.9,183.6 468.6,184.7 470.2,185.8 471.9,186.9 473.6,187.9 475.3,188.9 476.9,189.9 478.6,190.9 480.3,191.8 482.0,192.6 483.6,193.5 485.3,194.3 487.0,195.0 488.7,195.7 490.4,196.4 492.0,197.0 493.7,197.6 495.4,198.2 497.1,198.8 498.7,199.4 500.4,199.9 502.1,200.4 503.8,200.9 505.4,201.4 507.1,201.9 508.8,202.4 508.8,220.2 507.1,219.0 505.4,217.8 503.8,216.6 502.1,215.4 500.4,214.2 498.7,213.0 497.1,211.8 495.4,210.7 493.7,209.6 492.0,208.5 490.4,207.4 488.7,206.4 487.0,205.4 485.3,204.5 483.6,203.5 482.0,202.6 480.3,201.8 478.6,201.0 476.9,200.2 475.3,199.5 473.6,198.8 471.9,198.2 470.2,197.5 468.6,196.9 466.9,196.4 465.2,195.8 463.5,195.2 461.9,194.7 460.2,194.2 458.5,193.7"/>
<line x1="458.5" y1="185.7" x2="508.8" y2="211.3" stroke="#111" stroke-width="1.15" stroke-dasharray="4.1 3.9"/>
<text transform="translate(431.10,268.60) scale(1.042,1)" font-size="6.3" fill="#1e1e1e">MCC PGLS:</text>
<text transform="translate(431.10,275.60) scale(1.053,1)" font-size="6.3" fill="#1e1e1e">Estimate = -1.262</text>
<text transform="translate(431.10,282.60) scale(1.105,1)" font-size="6.3" fill="#1e1e1e">p-value = 1.14E-04</text>
<text transform="translate(489.35,157.80) scale(1.01,1)" font-size="9.4" font-weight="bold" fill="#1a1a1a" text-anchor="middle">Marsupialia - 79</text>
<line x1="424.80" y1="164.00" x2="553.90" y2="164.00" stroke="#9a9a9a" stroke-width="1.8"/>
<rect x="424.80" y="145.40" width="129.10" height="142.80" fill="none" stroke="#444" stroke-width="1.05"/>
<g fill="#cca090" fill-opacity="0.58"><rect x="637.8" y="226.7" width="2.6" height="1.4"/><rect x="643.0" y="225.6" width="2.6" height="1.4"/><rect x="652.5" y="224.6" width="2.6" height="1.4"/><rect x="636.5" y="228.9" width="2.6" height="1.4"/><rect x="646.5" y="228.1" width="2.6" height="1.4"/><rect x="644.9" y="229.7" width="2.6" height="1.4"/><rect x="638.0" y="230.8" width="2.6" height="1.4"/><rect x="651.4" y="233.2" width="2.6" height="1.4"/><rect x="631.8" y="234.9" width="2.6" height="1.4"/><rect x="639.8" y="236.0" width="2.6" height="1.4"/><rect x="647.4" y="235.1" width="2.6" height="1.4"/><rect x="626.1" y="236.8" width="2.6" height="1.4"/><rect x="632.2" y="238.6" width="2.6" height="1.4"/><rect x="635.7" y="238.6" width="2.6" height="1.4"/><rect x="647.0" y="247.4" width="2.6" height="1.4"/><rect x="654.1" y="247.4" width="2.6" height="1.4"/><rect x="653.5" y="249.8" width="2.6" height="1.4"/><rect x="632.9" y="263.3" width="2.6" height="1.4"/><rect x="646.7" y="183.8" width="2.6" height="1.4"/><rect x="641.5" y="187.0" width="2.6" height="1.4"/><rect x="636.6" y="194.5" width="2.6" height="1.4"/><rect x="635.9" y="185.8" width="2.6" height="1.4"/><rect x="648.9" y="188.6" width="2.6" height="1.4"/><rect x="641.7" y="215.7" width="2.6" height="1.4"/><rect x="641.0" y="206.6" width="2.6" height="1.4"/><rect x="647.5" y="207.5" width="2.6" height="1.4"/><rect x="652.3" y="192.7" width="2.6" height="1.4"/><rect x="620.9" y="183.4" width="2.6" height="1.4"/><rect x="623.9" y="192.0" width="2.6" height="1.4"/><rect x="623.1" y="178.2" width="2.6" height="1.4"/><rect x="638.2" y="194.5" width="2.6" height="1.4"/><rect x="628.9" y="189.0" width="2.6" height="1.4"/><rect x="634.9" y="193.3" width="2.6" height="1.4"/><rect x="635.6" y="189.2" width="2.6" height="1.4"/><rect x="631.5" y="194.2" width="2.6" height="1.4"/><rect x="632.3" y="184.6" width="2.6" height="1.4"/><rect x="632.0" y="195.2" width="2.6" height="1.4"/><rect x="646.3" y="189.7" width="2.6" height="1.4"/><rect x="633.4" y="197.3" width="2.6" height="1.4"/><rect x="638.0" y="187.0" width="2.6" height="1.4"/><rect x="630.8" y="201.1" width="2.6" height="1.4"/><rect x="636.1" y="184.4" width="2.6" height="1.4"/><rect x="635.8" y="190.7" width="2.6" height="1.4"/><rect x="639.4" y="195.4" width="2.6" height="1.4"/><rect x="631.6" y="174.6" width="2.6" height="1.4"/><rect x="626.4" y="190.4" width="2.6" height="1.4"/><rect x="625.9" y="202.9" width="2.6" height="1.4"/><rect x="649.5" y="178.4" width="2.6" height="1.4"/><rect x="635.3" y="188.9" width="2.6" height="1.4"/><rect x="619.9" y="204.4" width="2.6" height="1.4"/><rect x="644.4" y="222.6" width="2.6" height="1.4"/><rect x="623.3" y="200.1" width="2.6" height="1.4"/><rect x="635.6" y="204.1" width="2.6" height="1.4"/><rect x="631.3" y="202.4" width="2.6" height="1.4"/><rect x="643.3" y="200.8" width="2.6" height="1.4"/><rect x="648.0" y="189.9" width="2.6" height="1.4"/><rect x="648.8" y="182.5" width="2.6" height="1.4"/><rect x="635.8" y="181.1" width="2.6" height="1.4"/><rect x="635.7" y="206.7" width="2.6" height="1.4"/><rect x="641.8" y="193.6" width="2.6" height="1.4"/><rect x="628.8" y="213.4" width="2.6" height="1.4"/><rect x="638.6" y="175.7" width="2.6" height="1.4"/><rect x="648.3" y="208.3" width="2.6" height="1.4"/><rect x="631.1" y="210.4" width="2.6" height="1.4"/><rect x="628.6" y="205.2" width="2.6" height="1.4"/><rect x="640.6" y="190.5" width="2.6" height="1.4"/><rect x="623.6" y="188.4" width="2.6" height="1.4"/><rect x="620.0" y="209.3" width="2.6" height="1.4"/><rect x="640.7" y="197.5" width="2.6" height="1.4"/><rect x="631.4" y="221.9" width="2.6" height="1.4"/><rect x="642.3" y="193.2" width="2.6" height="1.4"/><rect x="639.8" y="205.7" width="2.6" height="1.4"/><rect x="635.8" y="203.1" width="2.6" height="1.4"/><rect x="648.5" y="196.0" width="2.6" height="1.4"/><rect x="637.4" y="202.8" width="2.6" height="1.4"/><rect x="647.6" y="187.8" width="2.6" height="1.4"/><rect x="625.3" y="181.2" width="2.6" height="1.4"/><rect x="625.0" y="179.9" width="2.6" height="1.4"/><rect x="634.7" y="197.1" width="2.6" height="1.4"/><rect x="637.0" y="193.3" width="2.6" height="1.4"/><rect x="632.7" y="198.2" width="2.6" height="1.4"/><rect x="643.2" y="202.9" width="2.6" height="1.4"/><rect x="648.4" y="188.2" width="2.6" height="1.4"/><rect x="633.6" y="216.0" width="2.6" height="1.4"/><rect x="637.4" y="198.1" width="2.6" height="1.4"/><rect x="632.8" y="205.9" width="2.6" height="1.4"/><rect x="632.3" y="178.2" width="2.6" height="1.4"/><rect x="635.2" y="186.1" width="2.6" height="1.4"/><rect x="642.8" y="187.0" width="2.6" height="1.4"/><rect x="636.7" y="189.3" width="2.6" height="1.4"/><rect x="638.6" y="183.5" width="2.6" height="1.4"/><rect x="632.4" y="182.4" width="2.6" height="1.4"/><rect x="641.2" y="192.9" width="2.6" height="1.4"/><rect x="639.8" y="187.7" width="2.6" height="1.4"/><rect x="629.6" y="176.6" width="2.6" height="1.4"/><rect x="632.9" y="184.8" width="2.6" height="1.4"/><rect x="638.1" y="197.3" width="2.6" height="1.4"/><rect x="644.0" y="190.8" width="2.6" height="1.4"/><rect x="629.3" y="177.4" width="2.6" height="1.4"/><rect x="636.2" y="197.4" width="2.6" height="1.4"/><rect x="652.3" y="194.8" width="2.6" height="1.4"/><rect x="650.6" y="218.5" width="2.6" height="1.4"/><rect x="626.8" y="209.2" width="2.6" height="1.4"/><rect x="645.4" y="211.1" width="2.6" height="1.4"/><rect x="635.6" y="205.7" width="2.6" height="1.4"/><rect x="631.6" y="191.3" width="2.6" height="1.4"/><rect x="635.9" y="217.3" width="2.6" height="1.4"/><rect x="633.9" y="205.7" width="2.6" height="1.4"/><rect x="636.3" y="182.4" width="2.6" height="1.4"/><rect x="637.8" y="201.5" width="2.6" height="1.4"/><rect x="629.6" y="201.2" width="2.6" height="1.4"/><rect x="629.6" y="180.0" width="2.6" height="1.4"/><rect x="637.6" y="189.0" width="2.6" height="1.4"/><rect x="635.9" y="195.7" width="2.6" height="1.4"/><rect x="631.8" y="194.9" width="2.6" height="1.4"/><rect x="622.7" y="197.8" width="2.6" height="1.4"/><rect x="639.2" y="196.2" width="2.6" height="1.4"/><rect x="630.5" y="193.4" width="2.6" height="1.4"/><rect x="636.8" y="207.3" width="2.6" height="1.4"/><rect x="638.0" y="195.9" width="2.6" height="1.4"/><rect x="629.5" y="204.4" width="2.6" height="1.4"/><rect x="645.7" y="185.4" width="2.6" height="1.4"/><rect x="641.1" y="196.6" width="2.6" height="1.4"/><rect x="635.3" y="174.3" width="2.6" height="1.4"/><rect x="638.3" y="187.0" width="2.6" height="1.4"/><rect x="645.4" y="186.4" width="2.6" height="1.4"/><rect x="636.0" y="200.8" width="2.6" height="1.4"/><rect x="639.6" y="185.0" width="2.6" height="1.4"/><rect x="641.5" y="197.8" width="2.6" height="1.4"/><rect x="644.1" y="185.2" width="2.6" height="1.4"/><rect x="635.3" y="186.8" width="2.6" height="1.4"/><rect x="628.6" y="195.9" width="2.6" height="1.4"/><rect x="639.2" y="212.1" width="2.6" height="1.4"/><rect x="632.9" y="197.7" width="2.6" height="1.4"/><rect x="645.4" y="190.7" width="2.6" height="1.4"/><rect x="636.2" y="194.2" width="2.6" height="1.4"/><rect x="629.8" y="178.5" width="2.6" height="1.4"/><rect x="645.2" y="194.7" width="2.6" height="1.4"/><rect x="635.1" y="175.0" width="2.6" height="1.4"/><rect x="636.7" y="208.7" width="2.6" height="1.4"/><rect x="625.9" y="179.9" width="2.6" height="1.4"/><rect x="645.1" y="212.3" width="2.6" height="1.4"/><rect x="648.9" y="184.6" width="2.6" height="1.4"/><rect x="640.8" y="181.8" width="2.6" height="1.4"/><rect x="640.1" y="187.2" width="2.6" height="1.4"/><rect x="637.4" y="211.0" width="2.6" height="1.4"/><rect x="638.6" y="188.9" width="2.6" height="1.4"/><rect x="636.2" y="196.0" width="2.6" height="1.4"/><rect x="631.4" y="195.2" width="2.6" height="1.4"/><rect x="640.8" y="214.0" width="2.6" height="1.4"/><rect x="625.2" y="204.5" width="2.6" height="1.4"/><rect x="636.7" y="208.2" width="2.6" height="1.4"/><rect x="631.4" y="185.6" width="2.6" height="1.4"/><rect x="638.6" y="184.2" width="2.6" height="1.4"/><rect x="645.1" y="192.3" width="2.6" height="1.4"/><rect x="631.9" y="205.2" width="2.6" height="1.4"/><rect x="628.7" y="209.6" width="2.6" height="1.4"/><rect x="643.8" y="194.2" width="2.6" height="1.4"/><rect x="644.1" y="214.7" width="2.6" height="1.4"/><rect x="647.3" y="192.3" width="2.6" height="1.4"/><rect x="635.2" y="207.7" width="2.6" height="1.4"/><rect x="623.3" y="183.9" width="2.6" height="1.4"/><rect x="639.8" y="200.2" width="2.6" height="1.4"/><rect x="651.4" y="216.7" width="2.6" height="1.4"/><rect x="638.4" y="198.4" width="2.6" height="1.4"/><rect x="624.6" y="189.7" width="2.6" height="1.4"/><rect x="637.9" y="189.2" width="2.6" height="1.4"/><rect x="636.2" y="200.7" width="2.6" height="1.4"/><rect x="627.7" y="184.4" width="2.6" height="1.4"/><rect x="620.7" y="208.2" width="2.6" height="1.4"/><rect x="642.2" y="189.3" width="2.6" height="1.4"/><rect x="643.8" y="187.2" width="2.6" height="1.4"/><rect x="653.6" y="202.2" width="2.6" height="1.4"/><rect x="637.0" y="193.9" width="2.6" height="1.4"/><rect x="634.0" y="203.5" width="2.6" height="1.4"/><rect x="652.5" y="186.5" width="2.6" height="1.4"/><rect x="626.6" y="200.6" width="2.6" height="1.4"/><rect x="629.9" y="178.5" width="2.6" height="1.4"/><rect x="640.4" y="199.3" width="2.6" height="1.4"/><rect x="629.5" y="176.7" width="2.6" height="1.4"/><rect x="641.1" y="190.2" width="2.6" height="1.4"/><rect x="651.8" y="206.0" width="2.6" height="1.4"/><rect x="630.8" y="188.5" width="2.6" height="1.4"/><rect x="633.4" y="182.2" width="2.6" height="1.4"/><rect x="636.4" y="205.6" width="2.6" height="1.4"/><rect x="623.1" y="189.2" width="2.6" height="1.4"/><rect x="648.2" y="202.5" width="2.6" height="1.4"/><rect x="628.9" y="181.2" width="2.6" height="1.4"/></g>
<polygon fill="#1010f0" fill-opacity="0.115" points="620.1,183.0 621.3,184.1 622.5,185.2 623.6,186.3 624.8,187.3 626.0,188.4 627.2,189.4 628.4,190.5 629.6,191.5 630.8,192.5 631.9,193.5 633.1,194.4 634.3,195.3 635.5,196.3 636.7,197.1 637.9,198.0 639.0,198.8 640.2,199.6 641.4,200.4 642.6,201.2 643.8,202.0 645.0,202.7 646.1,203.5 647.3,204.2 648.5,204.9 649.7,205.6 650.9,206.3 652.0,207.0 653.2,207.7 654.4,208.3 655.6,209.0 655.6,220.0 654.4,218.9 653.2,217.8 652.0,216.7 650.9,215.5 649.7,214.4 648.5,213.4 647.3,212.3 646.1,211.2 645.0,210.1 643.8,209.1 642.6,208.1 641.4,207.0 640.2,206.0 639.0,205.1 637.9,204.1 636.7,203.2 635.5,202.3 634.3,201.4 633.1,200.5 631.9,199.7 630.8,198.9 629.6,198.1 628.4,197.3 627.2,196.5 626.0,195.8 624.8,195.0 623.6,194.3 622.5,193.6 621.3,192.9 620.1,192.2"/>
<line x1="620.1" y1="187.6" x2="655.6" y2="214.5" stroke="#111" stroke-width="1.15" stroke-dasharray="4.1 3.9"/>
<text transform="translate(561.90,268.60) scale(1.042,1)" font-size="6.3" fill="#1e1e1e">MCC PGLS:</text>
<text transform="translate(561.90,275.60) scale(1.053,1)" font-size="6.3" fill="#1e1e1e">Estimate = -1.189</text>
<text transform="translate(561.90,282.60) scale(1.105,1)" font-size="6.3" fill="#1e1e1e">p-value = 5.72E-06</text>
<text transform="translate(620.15,157.80) scale(1.01,1)" font-size="9.4" font-weight="bold" fill="#1a1a1a" text-anchor="middle">Muridae - 206</text>
<line x1="555.60" y1="164.00" x2="684.70" y2="164.00" stroke="#9a9a9a" stroke-width="1.8"/>
<rect x="555.60" y="145.40" width="129.10" height="142.80" fill="none" stroke="#444" stroke-width="1.05"/>
<g fill="#7c48e0" fill-opacity="0.68"><rect x="95.7" y="323.7" width="2.6" height="1.4"/><rect x="81.5" y="326.7" width="2.6" height="1.4"/><rect x="87.6" y="326.7" width="2.6" height="1.4"/><rect x="97.2" y="327.6" width="2.6" height="1.4"/><rect x="104.3" y="327.6" width="2.6" height="1.4"/><rect x="114.5" y="325.7" width="2.6" height="1.4"/><rect x="127.1" y="326.7" width="2.6" height="1.4"/><rect x="77.4" y="331.0" width="2.6" height="1.4"/><rect x="83.1" y="332.8" width="2.6" height="1.4"/><rect x="84.6" y="333.3" width="2.6" height="1.4"/><rect x="97.2" y="332.2" width="2.6" height="1.4"/><rect x="101.7" y="331.3" width="2.6" height="1.4"/><rect x="102.8" y="331.7" width="2.6" height="1.4"/><rect x="106.3" y="333.7" width="2.6" height="1.4"/><rect x="124.8" y="332.8" width="2.6" height="1.4"/><rect x="127.1" y="332.0" width="2.6" height="1.4"/><rect x="130.1" y="333.3" width="2.6" height="1.4"/><rect x="100.8" y="335.5" width="2.6" height="1.4"/><rect x="99.8" y="336.3" width="2.6" height="1.4"/><rect x="108.9" y="337.4" width="2.6" height="1.4"/><rect x="125.6" y="335.5" width="2.6" height="1.4"/><rect x="130.1" y="338.9" width="2.6" height="1.4"/><rect x="98.2" y="341.6" width="2.6" height="1.4"/><rect x="103.6" y="341.3" width="2.6" height="1.4"/><rect x="116.5" y="342.8" width="2.6" height="1.4"/><rect x="122.6" y="341.6" width="2.6" height="1.4"/><rect x="126.3" y="343.1" width="2.6" height="1.4"/><rect x="127.9" y="344.3" width="2.6" height="1.4"/><rect x="124.8" y="344.3" width="2.6" height="1.4"/><rect x="105.8" y="344.9" width="2.6" height="1.4"/><rect x="97.5" y="346.5" width="2.6" height="1.4"/><rect x="108.9" y="347.4" width="2.6" height="1.4"/><rect x="124.8" y="346.5" width="2.6" height="1.4"/><rect x="127.1" y="346.9" width="2.6" height="1.4"/><rect x="129.4" y="347.7" width="2.6" height="1.4"/><rect x="77.0" y="349.5" width="2.6" height="1.4"/><rect x="83.8" y="350.0" width="2.6" height="1.4"/><rect x="85.3" y="349.5" width="2.6" height="1.4"/><rect x="103.6" y="349.5" width="2.6" height="1.4"/><rect x="105.1" y="349.5" width="2.6" height="1.4"/><rect x="115.7" y="350.0" width="2.6" height="1.4"/><rect x="121.8" y="350.0" width="2.6" height="1.4"/><rect x="130.1" y="350.0" width="2.6" height="1.4"/><rect x="130.9" y="349.2" width="2.6" height="1.4"/><rect x="80.0" y="353.8" width="2.6" height="1.4"/><rect x="101.3" y="353.8" width="2.6" height="1.4"/><rect x="121.0" y="353.5" width="2.6" height="1.4"/><rect x="131.7" y="355.6" width="2.6" height="1.4"/><rect x="124.1" y="356.8" width="2.6" height="1.4"/><rect x="80.0" y="358.6" width="2.6" height="1.4"/><rect x="84.1" y="359.8" width="2.6" height="1.4"/><rect x="121.0" y="358.0" width="2.6" height="1.4"/><rect x="130.9" y="358.0" width="2.6" height="1.4"/><rect x="120.3" y="361.0" width="2.6" height="1.4"/><rect x="121.0" y="361.7" width="2.6" height="1.4"/><rect x="126.3" y="361.7" width="2.6" height="1.4"/><rect x="129.4" y="361.7" width="2.6" height="1.4"/><rect x="81.5" y="362.9" width="2.6" height="1.4"/><rect x="104.3" y="364.7" width="2.6" height="1.4"/><rect x="123.0" y="364.7" width="2.6" height="1.4"/><rect x="130.6" y="365.6" width="2.6" height="1.4"/><rect x="101.3" y="369.7" width="2.6" height="1.4"/><rect x="127.6" y="370.8" width="2.6" height="1.4"/><rect x="100.5" y="372.7" width="2.6" height="1.4"/><rect x="102.8" y="373.8" width="2.6" height="1.4"/><rect x="105.1" y="376.8" width="2.6" height="1.4"/><rect x="116.5" y="380.8" width="2.6" height="1.4"/><rect x="126.8" y="402.5" width="2.6" height="1.4"/><rect x="127.6" y="405.7" width="2.6" height="1.4"/></g>
<polygon fill="#1010f0" fill-opacity="0.115" points="78.3,333.9 80.2,334.7 82.0,335.5 83.9,336.2 85.8,337.0 87.7,337.7 89.5,338.5 91.4,339.2 93.3,339.9 95.2,340.6 97.0,341.3 98.9,342.0 100.8,342.6 102.7,343.2 104.5,343.8 106.4,344.4 108.3,344.9 110.1,345.4 112.0,345.8 113.9,346.2 115.8,346.6 117.6,346.9 119.5,347.1 121.4,347.3 123.3,347.5 125.1,347.7 127.0,347.9 128.9,348.0 130.8,348.1 132.6,348.2 134.5,348.3 134.5,360.7 132.6,360.0 130.8,359.3 128.9,358.6 127.0,357.9 125.1,357.2 123.3,356.6 121.4,356.0 119.5,355.4 117.6,354.8 115.8,354.3 113.9,353.8 112.0,353.4 110.1,353.0 108.3,352.7 106.4,352.4 104.5,352.1 102.7,351.9 100.8,351.7 98.9,351.6 97.0,351.4 95.2,351.3 93.3,351.2 91.4,351.1 89.5,351.0 87.7,350.9 85.8,350.9 83.9,350.8 82.0,350.7 80.2,350.7 78.3,350.6"/>
<line x1="78.3" y1="342.3" x2="134.5" y2="354.5" stroke="#111" stroke-width="1.15" stroke-dasharray="4.1 3.9"/>
<text transform="translate(38.70,413.60) scale(1.042,1)" font-size="6.3" fill="#1e1e1e">MCC PGLS:</text>
<text transform="translate(38.70,420.60) scale(1.053,1)" font-size="6.3" fill="#1e1e1e">Estimate = -0.554</text>
<text transform="translate(38.70,427.60) scale(1.105,1)" font-size="6.3" fill="#1e1e1e">p-value = 2.04E-02</text>
<text transform="translate(96.95,302.80) scale(1.01,1)" font-size="9.4" font-weight="bold" fill="#1a1a1a" text-anchor="middle">Noctilionoidea - 71</text>
<line x1="32.40" y1="309.00" x2="161.50" y2="309.00" stroke="#9a9a9a" stroke-width="1.8"/>
<rect x="32.40" y="290.40" width="129.10" height="142.90" fill="none" stroke="#444" stroke-width="1.05"/>
<g fill="#d040c8" fill-opacity="0.68"><rect x="246.0" y="320.9" width="2.6" height="1.4"/><rect x="248.9" y="323.0" width="2.6" height="1.4"/><rect x="237.8" y="327.8" width="2.6" height="1.4"/><rect x="223.4" y="329.9" width="2.6" height="1.4"/><rect x="222.6" y="330.8" width="2.6" height="1.4"/><rect x="229.5" y="329.9" width="2.6" height="1.4"/><rect x="214.8" y="350.7" width="2.6" height="1.4"/><rect x="223.4" y="349.0" width="2.6" height="1.4"/><rect x="212.2" y="364.6" width="2.6" height="1.4"/><rect x="218.2" y="366.3" width="2.6" height="1.4"/><rect x="220.0" y="366.3" width="2.6" height="1.4"/><rect x="214.8" y="370.2" width="2.6" height="1.4"/><rect x="217.4" y="369.8" width="2.6" height="1.4"/><rect x="224.0" y="359.8" width="2.6" height="1.4"/><rect x="229.5" y="351.6" width="2.6" height="1.4"/><rect x="233.0" y="345.5" width="2.6" height="1.4"/><rect x="231.3" y="357.7" width="2.6" height="1.4"/><rect x="228.7" y="340.3" width="2.6" height="1.4"/><rect x="233.5" y="381.6" width="2.6" height="1.4"/><rect x="239.2" y="381.8" width="2.6" height="1.4"/><rect x="243.2" y="381.8" width="2.6" height="1.4"/><rect x="254.5" y="380.7" width="2.6" height="1.4"/><rect x="228.1" y="384.5" width="2.6" height="1.4"/><rect x="231.5" y="385.0" width="2.6" height="1.4"/><rect x="234.3" y="384.1" width="2.6" height="1.4"/><rect x="232.9" y="387.1" width="2.6" height="1.4"/><rect x="242.3" y="384.5" width="2.6" height="1.4"/><rect x="250.7" y="386.8" width="2.6" height="1.4"/><rect x="253.4" y="388.5" width="2.6" height="1.4"/><rect x="256.2" y="389.6" width="2.6" height="1.4"/><rect x="256.5" y="392.2" width="2.6" height="1.4"/><rect x="243.2" y="424.1" width="2.6" height="1.4"/><rect x="241.2" y="328.1" width="2.6" height="1.4"/><rect x="254.1" y="351.3" width="2.6" height="1.4"/><rect x="242.2" y="330.5" width="2.6" height="1.4"/><rect x="244.2" y="343.2" width="2.6" height="1.4"/><rect x="247.4" y="365.1" width="2.6" height="1.4"/><rect x="251.0" y="347.8" width="2.6" height="1.4"/><rect x="232.7" y="369.6" width="2.6" height="1.4"/><rect x="250.5" y="344.3" width="2.6" height="1.4"/><rect x="246.1" y="337.1" width="2.6" height="1.4"/><rect x="241.0" y="329.9" width="2.6" height="1.4"/><rect x="249.9" y="357.4" width="2.6" height="1.4"/><rect x="247.8" y="361.0" width="2.6" height="1.4"/><rect x="250.1" y="352.0" width="2.6" height="1.4"/><rect x="241.1" y="358.4" width="2.6" height="1.4"/><rect x="254.3" y="359.0" width="2.6" height="1.4"/><rect x="254.7" y="343.8" width="2.6" height="1.4"/><rect x="240.4" y="367.5" width="2.6" height="1.4"/><rect x="243.0" y="353.6" width="2.6" height="1.4"/><rect x="245.5" y="350.6" width="2.6" height="1.4"/><rect x="245.0" y="342.9" width="2.6" height="1.4"/><rect x="235.3" y="376.5" width="2.6" height="1.4"/><rect x="248.0" y="323.8" width="2.6" height="1.4"/><rect x="240.9" y="334.8" width="2.6" height="1.4"/><rect x="250.4" y="372.8" width="2.6" height="1.4"/><rect x="245.1" y="360.5" width="2.6" height="1.4"/><rect x="250.5" y="333.2" width="2.6" height="1.4"/><rect x="254.5" y="327.2" width="2.6" height="1.4"/><rect x="243.0" y="345.4" width="2.6" height="1.4"/><rect x="254.7" y="351.9" width="2.6" height="1.4"/><rect x="245.9" y="339.3" width="2.6" height="1.4"/><rect x="247.3" y="350.9" width="2.6" height="1.4"/><rect x="251.4" y="369.4" width="2.6" height="1.4"/><rect x="251.4" y="350.6" width="2.6" height="1.4"/><rect x="245.7" y="372.3" width="2.6" height="1.4"/><rect x="248.0" y="350.1" width="2.6" height="1.4"/><rect x="250.3" y="348.8" width="2.6" height="1.4"/><rect x="242.7" y="364.9" width="2.6" height="1.4"/><rect x="243.8" y="363.5" width="2.6" height="1.4"/><rect x="241.7" y="351.7" width="2.6" height="1.4"/><rect x="249.3" y="352.3" width="2.6" height="1.4"/><rect x="248.2" y="355.5" width="2.6" height="1.4"/><rect x="239.6" y="335.1" width="2.6" height="1.4"/><rect x="245.8" y="375.0" width="2.6" height="1.4"/><rect x="245.9" y="337.6" width="2.6" height="1.4"/><rect x="242.5" y="350.8" width="2.6" height="1.4"/><rect x="254.2" y="342.6" width="2.6" height="1.4"/><rect x="250.3" y="352.9" width="2.6" height="1.4"/><rect x="244.4" y="337.4" width="2.6" height="1.4"/><rect x="245.7" y="340.4" width="2.6" height="1.4"/><rect x="250.1" y="326.2" width="2.6" height="1.4"/><rect x="253.9" y="360.7" width="2.6" height="1.4"/><rect x="250.4" y="370.8" width="2.6" height="1.4"/><rect x="250.5" y="326.9" width="2.6" height="1.4"/><rect x="247.0" y="356.5" width="2.6" height="1.4"/><rect x="242.4" y="334.8" width="2.6" height="1.4"/><rect x="249.4" y="357.3" width="2.6" height="1.4"/><rect x="244.0" y="347.0" width="2.6" height="1.4"/><rect x="243.5" y="342.5" width="2.6" height="1.4"/><rect x="246.3" y="365.0" width="2.6" height="1.4"/><rect x="236.5" y="345.7" width="2.6" height="1.4"/><rect x="256.9" y="354.6" width="2.6" height="1.4"/><rect x="247.7" y="361.7" width="2.6" height="1.4"/><rect x="240.3" y="333.8" width="2.6" height="1.4"/><rect x="236.2" y="330.4" width="2.6" height="1.4"/><rect x="248.3" y="361.9" width="2.6" height="1.4"/><rect x="244.1" y="341.0" width="2.6" height="1.4"/><rect x="249.3" y="358.7" width="2.6" height="1.4"/><rect x="248.3" y="324.3" width="2.6" height="1.4"/><rect x="248.2" y="338.7" width="2.6" height="1.4"/><rect x="242.5" y="370.8" width="2.6" height="1.4"/><rect x="255.1" y="356.9" width="2.6" height="1.4"/><rect x="248.4" y="352.7" width="2.6" height="1.4"/><rect x="243.0" y="349.6" width="2.6" height="1.4"/><rect x="242.5" y="352.5" width="2.6" height="1.4"/><rect x="252.3" y="361.7" width="2.6" height="1.4"/><rect x="240.6" y="348.5" width="2.6" height="1.4"/><rect x="245.0" y="333.5" width="2.6" height="1.4"/><rect x="247.2" y="343.7" width="2.6" height="1.4"/><rect x="252.5" y="356.2" width="2.6" height="1.4"/><rect x="241.8" y="351.4" width="2.6" height="1.4"/><rect x="244.4" y="341.7" width="2.6" height="1.4"/><rect x="243.6" y="364.8" width="2.6" height="1.4"/><rect x="244.1" y="327.0" width="2.6" height="1.4"/><rect x="241.8" y="361.3" width="2.6" height="1.4"/><rect x="244.5" y="345.8" width="2.6" height="1.4"/><rect x="237.8" y="355.8" width="2.6" height="1.4"/><rect x="246.4" y="354.1" width="2.6" height="1.4"/><rect x="251.7" y="361.7" width="2.6" height="1.4"/><rect x="242.7" y="342.2" width="2.6" height="1.4"/><rect x="256.5" y="360.0" width="2.6" height="1.4"/><rect x="247.6" y="335.4" width="2.6" height="1.4"/><rect x="252.3" y="357.5" width="2.6" height="1.4"/><rect x="251.8" y="354.0" width="2.6" height="1.4"/><rect x="247.1" y="342.8" width="2.6" height="1.4"/><rect x="248.7" y="353.6" width="2.6" height="1.4"/><rect x="250.8" y="365.1" width="2.6" height="1.4"/><rect x="248.7" y="342.9" width="2.6" height="1.4"/><rect x="251.8" y="371.4" width="2.6" height="1.4"/><rect x="241.4" y="356.0" width="2.6" height="1.4"/><rect x="250.2" y="357.6" width="2.6" height="1.4"/><rect x="249.9" y="349.1" width="2.6" height="1.4"/><rect x="246.1" y="373.3" width="2.6" height="1.4"/><rect x="230.7" y="356.3" width="2.6" height="1.4"/><rect x="242.4" y="343.3" width="2.6" height="1.4"/><rect x="236.6" y="355.1" width="2.6" height="1.4"/><rect x="246.4" y="343.0" width="2.6" height="1.4"/><rect x="256.0" y="366.3" width="2.6" height="1.4"/><rect x="244.1" y="359.3" width="2.6" height="1.4"/><rect x="246.5" y="366.0" width="2.6" height="1.4"/><rect x="250.4" y="349.8" width="2.6" height="1.4"/><rect x="250.2" y="340.5" width="2.6" height="1.4"/><rect x="251.7" y="370.8" width="2.6" height="1.4"/><rect x="244.4" y="357.9" width="2.6" height="1.4"/><rect x="236.2" y="363.1" width="2.6" height="1.4"/><rect x="252.2" y="336.4" width="2.6" height="1.4"/><rect x="235.8" y="331.7" width="2.6" height="1.4"/><rect x="252.2" y="346.6" width="2.6" height="1.4"/><rect x="253.7" y="329.2" width="2.6" height="1.4"/><rect x="246.1" y="363.6" width="2.6" height="1.4"/><rect x="242.4" y="359.6" width="2.6" height="1.4"/></g>
<polygon fill="#1010f0" fill-opacity="0.115" points="213.8,351.8 215.3,351.9 216.8,351.9 218.3,352.0 219.8,352.1 221.3,352.1 222.8,352.2 224.3,352.2 225.7,352.3 227.2,352.3 228.7,352.4 230.2,352.4 231.7,352.4 233.2,352.4 234.7,352.4 236.2,352.3 237.7,352.3 239.2,352.2 240.7,352.1 242.2,352.0 243.7,351.8 245.2,351.7 246.7,351.5 248.1,351.2 249.6,351.0 251.1,350.7 252.6,350.3 254.1,350.0 255.6,349.6 257.1,349.2 258.6,348.8 258.6,357.6 257.1,357.6 255.6,357.7 254.1,357.7 252.6,357.8 251.1,357.9 249.6,358.1 248.1,358.3 246.7,358.5 245.2,358.7 243.7,359.0 242.2,359.2 240.7,359.6 239.2,359.9 237.7,360.3 236.2,360.7 234.7,361.1 233.2,361.5 231.7,361.9 230.2,362.4 228.7,362.8 227.2,363.3 225.7,363.8 224.3,364.3 222.8,364.8 221.3,365.3 219.8,365.8 218.3,366.3 216.8,366.8 215.3,367.3 213.8,367.8"/>
<line x1="213.8" y1="359.8" x2="258.6" y2="353.2" stroke="#111" stroke-width="1.15" stroke-dasharray="4.1 3.9"/>
<text transform="translate(169.50,413.60) scale(1.042,1)" font-size="6.3" fill="#1e1e1e">MCC PGLS:</text>
<text transform="translate(169.50,420.60) scale(1.053,1)" font-size="6.3" fill="#1e1e1e">Estimate = 0.131</text>
<text transform="translate(169.50,427.60) scale(1.105,1)" font-size="6.3" fill="#1e1e1e">p-value = 6.53E-01</text>
<text transform="translate(227.75,302.80) scale(1.01,1)" font-size="9.4" font-weight="bold" fill="#1a1a1a" text-anchor="middle">Primates - 164</text>
<line x1="163.20" y1="309.00" x2="292.30" y2="309.00" stroke="#9a9a9a" stroke-width="1.8"/>
<rect x="163.20" y="290.40" width="129.10" height="142.90" fill="none" stroke="#444" stroke-width="1.05"/>
<g fill="#4aa2c4" fill-opacity="0.68"><rect x="356.9" y="316.3" width="2.6" height="1.4"/><rect x="352.8" y="320.7" width="2.6" height="1.4"/><rect x="355.8" y="320.7" width="2.6" height="1.4"/><rect x="358.7" y="321.2" width="2.6" height="1.4"/><rect x="360.9" y="322.5" width="2.6" height="1.4"/><rect x="329.4" y="322.5" width="2.6" height="1.4"/><rect x="355.5" y="324.8" width="2.6" height="1.4"/><rect x="380.3" y="324.8" width="2.6" height="1.4"/><rect x="353.3" y="327.8" width="2.6" height="1.4"/><rect x="360.0" y="327.5" width="2.6" height="1.4"/><rect x="360.9" y="329.6" width="2.6" height="1.4"/><rect x="367.7" y="328.4" width="2.6" height="1.4"/><rect x="355.5" y="330.2" width="2.6" height="1.4"/><rect x="357.3" y="332.0" width="2.6" height="1.4"/><rect x="352.8" y="332.5" width="2.6" height="1.4"/><rect x="377.4" y="331.1" width="2.6" height="1.4"/><rect x="367.7" y="331.4" width="2.6" height="1.4"/><rect x="361.8" y="333.2" width="2.6" height="1.4"/><rect x="387.0" y="332.5" width="2.6" height="1.4"/><rect x="330.3" y="332.9" width="2.6" height="1.4"/><rect x="331.2" y="333.8" width="2.6" height="1.4"/><rect x="332.1" y="338.3" width="2.6" height="1.4"/><rect x="334.8" y="341.5" width="2.6" height="1.4"/><rect x="354.6" y="336.5" width="2.6" height="1.4"/><rect x="354.6" y="338.3" width="2.6" height="1.4"/><rect x="350.1" y="337.4" width="2.6" height="1.4"/><rect x="380.7" y="337.9" width="2.6" height="1.4"/><rect x="383.9" y="338.3" width="2.6" height="1.4"/><rect x="387.9" y="337.9" width="2.6" height="1.4"/><rect x="390.5" y="338.6" width="2.6" height="1.4"/><rect x="384.3" y="341.0" width="2.6" height="1.4"/><rect x="395.9" y="340.1" width="2.6" height="1.4"/><rect x="354.6" y="343.3" width="2.6" height="1.4"/><rect x="351.5" y="344.6" width="2.6" height="1.4"/><rect x="387.0" y="343.7" width="2.6" height="1.4"/><rect x="388.8" y="343.7" width="2.6" height="1.4"/><rect x="393.2" y="344.6" width="2.6" height="1.4"/><rect x="395.0" y="346.4" width="2.6" height="1.4"/><rect x="387.0" y="347.3" width="2.6" height="1.4"/><rect x="352.8" y="348.7" width="2.6" height="1.4"/><rect x="355.5" y="350.5" width="2.6" height="1.4"/><rect x="359.1" y="351.8" width="2.6" height="1.4"/><rect x="351.5" y="351.8" width="2.6" height="1.4"/><rect x="384.3" y="351.2" width="2.6" height="1.4"/><rect x="386.1" y="352.3" width="2.6" height="1.4"/><rect x="387.0" y="354.5" width="2.6" height="1.4"/><rect x="360.5" y="356.6" width="2.6" height="1.4"/><rect x="370.2" y="357.7" width="2.6" height="1.4"/><rect x="360.9" y="360.8" width="2.6" height="1.4"/><rect x="383.4" y="360.2" width="2.6" height="1.4"/><rect x="387.0" y="361.3" width="2.6" height="1.4"/><rect x="354.6" y="363.8" width="2.6" height="1.4"/><rect x="389.7" y="364.9" width="2.6" height="1.4"/><rect x="350.4" y="367.1" width="2.6" height="1.4"/><rect x="356.9" y="366.2" width="2.6" height="1.4"/><rect x="356.9" y="368.5" width="2.6" height="1.4"/><rect x="388.8" y="367.4" width="2.6" height="1.4"/><rect x="387.9" y="369.8" width="2.6" height="1.4"/><rect x="384.3" y="370.7" width="2.6" height="1.4"/><rect x="386.1" y="372.5" width="2.6" height="1.4"/><rect x="378.0" y="377.5" width="2.6" height="1.4"/><rect x="388.8" y="376.9" width="2.6" height="1.4"/><rect x="389.7" y="379.6" width="2.6" height="1.4"/><rect x="384.3" y="390.4" width="2.6" height="1.4"/><rect x="390.5" y="391.9" width="2.6" height="1.4"/></g>
<polygon fill="#1010f0" fill-opacity="0.115" points="330.7,323.5 333.0,324.7 335.3,325.9 337.6,327.1 339.9,328.3 342.2,329.4 344.6,330.6 346.9,331.7 349.2,332.9 351.5,334.0 353.8,335.1 356.1,336.2 358.4,337.3 360.7,338.3 363.0,339.3 365.4,340.3 367.7,341.3 370.0,342.3 372.3,343.3 374.6,344.2 376.9,345.1 379.2,346.0 381.5,346.9 383.8,347.7 386.1,348.6 388.4,349.4 390.8,350.2 393.1,351.0 395.4,351.8 397.7,352.6 400.0,353.4 400.0,366.0 397.7,364.8 395.4,363.6 393.1,362.4 390.8,361.3 388.4,360.1 386.1,359.0 383.8,357.8 381.5,356.7 379.2,355.6 376.9,354.5 374.6,353.4 372.3,352.4 370.0,351.4 367.7,350.3 365.4,349.4 363.0,348.4 360.7,347.4 358.4,346.5 356.1,345.6 353.8,344.7 351.5,343.8 349.2,343.0 346.9,342.1 344.6,341.3 342.2,340.5 339.9,339.6 337.6,338.8 335.3,338.1 333.0,337.3 330.7,336.5"/>
<line x1="330.7" y1="330.0" x2="400.0" y2="359.7" stroke="#111" stroke-width="1.15" stroke-dasharray="4.1 3.9"/>
<text transform="translate(300.30,413.60) scale(1.042,1)" font-size="6.3" fill="#1e1e1e">MCC PGLS:</text>
<text transform="translate(300.30,420.60) scale(1.053,1)" font-size="6.3" fill="#1e1e1e">Estimate = -0.485</text>
<text transform="translate(300.30,427.60) scale(1.105,1)" font-size="6.3" fill="#1e1e1e">p-value = 1.87E-01</text>
<text transform="translate(358.55,302.80) scale(1.01,1)" font-size="9.4" font-weight="bold" fill="#1a1a1a" text-anchor="middle">Squirrel-related - 88</text>
<line x1="294.00" y1="309.00" x2="423.10" y2="309.00" stroke="#9a9a9a" stroke-width="1.8"/>
<rect x="294.00" y="290.40" width="129.10" height="142.90" fill="none" stroke="#444" stroke-width="1.05"/>
<g fill="#d0406c" fill-opacity="0.68"><rect x="499.4" y="370.9" width="2.6" height="1.4"/><rect x="498.5" y="372.3" width="2.6" height="1.4"/><rect x="501.5" y="372.3" width="2.6" height="1.4"/><rect x="505.3" y="372.7" width="2.6" height="1.4"/><rect x="509.0" y="372.7" width="2.6" height="1.4"/><rect x="514.0" y="370.7" width="2.6" height="1.4"/><rect x="493.5" y="374.1" width="2.6" height="1.4"/><rect x="496.7" y="375.4" width="2.6" height="1.4"/><rect x="501.5" y="375.9" width="2.6" height="1.4"/><rect x="501.5" y="378.6" width="2.6" height="1.4"/><rect x="493.9" y="382.3" width="2.6" height="1.4"/><rect x="501.7" y="390.9" width="2.6" height="1.4"/><rect x="505.8" y="395.0" width="2.6" height="1.4"/><rect x="507.2" y="396.3" width="2.6" height="1.4"/><rect x="514.0" y="402.8" width="2.6" height="1.4"/><rect x="510.8" y="404.8" width="2.6" height="1.4"/><rect x="515.8" y="425.6" width="2.6" height="1.4"/><rect x="499.8" y="322.9" width="2.6" height="1.4"/><rect x="495.6" y="363.7" width="2.6" height="1.4"/><rect x="500.7" y="349.7" width="2.6" height="1.4"/><rect x="514.0" y="355.8" width="2.6" height="1.4"/><rect x="496.0" y="364.2" width="2.6" height="1.4"/><rect x="511.7" y="367.8" width="2.6" height="1.4"/><rect x="509.6" y="355.8" width="2.6" height="1.4"/><rect x="512.0" y="330.2" width="2.6" height="1.4"/><rect x="507.6" y="336.7" width="2.6" height="1.4"/><rect x="512.7" y="324.1" width="2.6" height="1.4"/><rect x="504.3" y="334.5" width="2.6" height="1.4"/><rect x="512.2" y="334.9" width="2.6" height="1.4"/><rect x="512.8" y="360.5" width="2.6" height="1.4"/><rect x="513.8" y="324.4" width="2.6" height="1.4"/><rect x="515.5" y="355.3" width="2.6" height="1.4"/><rect x="508.2" y="350.6" width="2.6" height="1.4"/><rect x="490.5" y="361.7" width="2.6" height="1.4"/><rect x="504.5" y="340.5" width="2.6" height="1.4"/><rect x="498.7" y="357.2" width="2.6" height="1.4"/><rect x="511.1" y="361.7" width="2.6" height="1.4"/><rect x="495.2" y="334.7" width="2.6" height="1.4"/><rect x="496.2" y="322.4" width="2.6" height="1.4"/><rect x="498.4" y="318.6" width="2.6" height="1.4"/><rect x="511.5" y="328.9" width="2.6" height="1.4"/><rect x="491.2" y="320.8" width="2.6" height="1.4"/><rect x="510.0" y="327.4" width="2.6" height="1.4"/><rect x="502.1" y="337.8" width="2.6" height="1.4"/><rect x="511.7" y="366.0" width="2.6" height="1.4"/><rect x="497.9" y="349.5" width="2.6" height="1.4"/><rect x="514.3" y="341.3" width="2.6" height="1.4"/><rect x="514.4" y="354.7" width="2.6" height="1.4"/><rect x="497.9" y="361.9" width="2.6" height="1.4"/><rect x="505.3" y="322.7" width="2.6" height="1.4"/><rect x="505.6" y="359.6" width="2.6" height="1.4"/><rect x="503.7" y="342.0" width="2.6" height="1.4"/><rect x="500.9" y="362.2" width="2.6" height="1.4"/><rect x="507.8" y="327.9" width="2.6" height="1.4"/><rect x="499.3" y="335.8" width="2.6" height="1.4"/><rect x="516.0" y="352.8" width="2.6" height="1.4"/><rect x="492.7" y="363.9" width="2.6" height="1.4"/><rect x="490.2" y="347.4" width="2.6" height="1.4"/><rect x="501.3" y="353.9" width="2.6" height="1.4"/><rect x="501.2" y="322.0" width="2.6" height="1.4"/><rect x="503.9" y="359.1" width="2.6" height="1.4"/><rect x="511.3" y="335.5" width="2.6" height="1.4"/><rect x="495.4" y="355.3" width="2.6" height="1.4"/><rect x="511.6" y="328.5" width="2.6" height="1.4"/><rect x="513.9" y="367.9" width="2.6" height="1.4"/><rect x="501.3" y="336.7" width="2.6" height="1.4"/><rect x="509.1" y="364.7" width="2.6" height="1.4"/><rect x="494.8" y="332.7" width="2.6" height="1.4"/><rect x="498.4" y="354.6" width="2.6" height="1.4"/><rect x="494.4" y="345.2" width="2.6" height="1.4"/><rect x="503.2" y="351.4" width="2.6" height="1.4"/><rect x="493.2" y="366.1" width="2.6" height="1.4"/><rect x="517.2" y="345.9" width="2.6" height="1.4"/><rect x="511.5" y="326.7" width="2.6" height="1.4"/><rect x="514.7" y="345.4" width="2.6" height="1.4"/><rect x="510.5" y="361.6" width="2.6" height="1.4"/><rect x="499.3" y="364.4" width="2.6" height="1.4"/><rect x="495.0" y="318.5" width="2.6" height="1.4"/><rect x="503.3" y="363.1" width="2.6" height="1.4"/><rect x="514.4" y="366.0" width="2.6" height="1.4"/><rect x="503.5" y="364.9" width="2.6" height="1.4"/><rect x="504.9" y="324.6" width="2.6" height="1.4"/><rect x="506.9" y="358.3" width="2.6" height="1.4"/><rect x="501.1" y="348.0" width="2.6" height="1.4"/><rect x="496.5" y="331.4" width="2.6" height="1.4"/><rect x="501.0" y="343.5" width="2.6" height="1.4"/><rect x="502.3" y="322.0" width="2.6" height="1.4"/><rect x="489.4" y="334.7" width="2.6" height="1.4"/><rect x="509.3" y="355.5" width="2.6" height="1.4"/><rect x="495.8" y="330.3" width="2.6" height="1.4"/><rect x="503.7" y="326.2" width="2.6" height="1.4"/><rect x="506.1" y="363.4" width="2.6" height="1.4"/><rect x="494.9" y="347.2" width="2.6" height="1.4"/><rect x="509.4" y="355.5" width="2.6" height="1.4"/><rect x="509.1" y="353.5" width="2.6" height="1.4"/><rect x="496.8" y="360.1" width="2.6" height="1.4"/><rect x="515.1" y="320.0" width="2.6" height="1.4"/><rect x="515.6" y="339.9" width="2.6" height="1.4"/><rect x="491.6" y="320.9" width="2.6" height="1.4"/><rect x="511.5" y="351.9" width="2.6" height="1.4"/><rect x="493.2" y="340.8" width="2.6" height="1.4"/><rect x="507.1" y="368.2" width="2.6" height="1.4"/><rect x="498.6" y="356.4" width="2.6" height="1.4"/><rect x="496.1" y="327.4" width="2.6" height="1.4"/><rect x="493.7" y="338.2" width="2.6" height="1.4"/><rect x="506.5" y="332.8" width="2.6" height="1.4"/><rect x="493.7" y="328.4" width="2.6" height="1.4"/><rect x="491.6" y="327.1" width="2.6" height="1.4"/><rect x="498.0" y="343.0" width="2.6" height="1.4"/><rect x="494.3" y="341.8" width="2.6" height="1.4"/><rect x="501.5" y="366.9" width="2.6" height="1.4"/><rect x="502.8" y="365.5" width="2.6" height="1.4"/><rect x="502.4" y="327.4" width="2.6" height="1.4"/><rect x="505.8" y="324.7" width="2.6" height="1.4"/><rect x="493.9" y="321.0" width="2.6" height="1.4"/><rect x="508.8" y="366.6" width="2.6" height="1.4"/><rect x="500.5" y="335.4" width="2.6" height="1.4"/><rect x="496.1" y="337.5" width="2.6" height="1.4"/><rect x="499.8" y="324.0" width="2.6" height="1.4"/><rect x="511.9" y="349.6" width="2.6" height="1.4"/><rect x="501.9" y="332.8" width="2.6" height="1.4"/><rect x="510.3" y="320.2" width="2.6" height="1.4"/><rect x="495.8" y="344.5" width="2.6" height="1.4"/><rect x="509.8" y="328.4" width="2.6" height="1.4"/><rect x="496.6" y="336.8" width="2.6" height="1.4"/><rect x="491.6" y="328.4" width="2.6" height="1.4"/><rect x="507.4" y="340.9" width="2.6" height="1.4"/><rect x="511.1" y="319.1" width="2.6" height="1.4"/><rect x="492.5" y="325.2" width="2.6" height="1.4"/><rect x="492.4" y="353.6" width="2.6" height="1.4"/><rect x="495.0" y="330.2" width="2.6" height="1.4"/><rect x="504.3" y="337.8" width="2.6" height="1.4"/><rect x="514.2" y="322.5" width="2.6" height="1.4"/><rect x="509.7" y="334.8" width="2.6" height="1.4"/><rect x="493.4" y="334.8" width="2.6" height="1.4"/><rect x="491.6" y="349.4" width="2.6" height="1.4"/><rect x="496.9" y="343.3" width="2.6" height="1.4"/><rect x="513.0" y="327.2" width="2.6" height="1.4"/><rect x="495.6" y="334.6" width="2.6" height="1.4"/><rect x="494.4" y="342.2" width="2.6" height="1.4"/><rect x="504.1" y="325.7" width="2.6" height="1.4"/><rect x="497.3" y="340.5" width="2.6" height="1.4"/><rect x="491.2" y="350.1" width="2.6" height="1.4"/><rect x="496.5" y="331.4" width="2.6" height="1.4"/><rect x="495.4" y="349.4" width="2.6" height="1.4"/><rect x="509.2" y="346.2" width="2.6" height="1.4"/><rect x="507.9" y="334.2" width="2.6" height="1.4"/><rect x="516.2" y="339.9" width="2.6" height="1.4"/><rect x="506.2" y="339.0" width="2.6" height="1.4"/><rect x="508.6" y="336.1" width="2.6" height="1.4"/><rect x="501.4" y="317.4" width="2.6" height="1.4"/><rect x="497.9" y="335.9" width="2.6" height="1.4"/></g>
<polygon fill="#1010f0" fill-opacity="0.115" points="490.9,339.3 491.8,339.7 492.7,340.2 493.6,340.6 494.5,341.0 495.4,341.4 496.3,341.7 497.2,342.1 498.1,342.4 499.0,342.7 499.9,343.0 500.8,343.2 501.7,343.4 502.6,343.6 503.5,343.7 504.4,343.8 505.2,343.8 506.1,343.9 507.0,343.8 507.9,343.8 508.8,343.7 509.7,343.6 510.6,343.5 511.5,343.4 512.4,343.3 513.3,343.1 514.2,343.0 515.1,342.8 516.0,342.7 516.9,342.5 517.8,342.3 517.8,356.3 516.9,355.8 516.0,355.4 515.1,355.0 514.2,354.5 513.3,354.1 512.4,353.7 511.5,353.3 510.6,352.9 509.7,352.5 508.8,352.1 507.9,351.8 507.0,351.5 506.1,351.2 505.2,350.9 504.4,350.7 503.5,350.5 502.6,350.4 501.7,350.3 500.8,350.2 499.9,350.2 499.0,350.2 498.1,350.2 497.2,350.2 496.3,350.3 495.4,350.4 494.5,350.5 493.6,350.7 492.7,350.8 491.8,350.9 490.9,351.1"/>
<line x1="490.9" y1="345.2" x2="517.8" y2="349.3" stroke="#111" stroke-width="1.15" stroke-dasharray="4.1 3.9"/>
<text transform="translate(431.10,413.60) scale(1.042,1)" font-size="6.3" fill="#1e1e1e">MCC PGLS:</text>
<text transform="translate(431.10,420.60) scale(1.053,1)" font-size="6.3" fill="#1e1e1e">Estimate = -0.279</text>
<text transform="translate(431.10,427.60) scale(1.105,1)" font-size="6.3" fill="#1e1e1e">p-value = 5.23E-01</text>
<text transform="translate(489.35,302.80) scale(1.01,1)" font-size="9.4" font-weight="bold" fill="#1a1a1a" text-anchor="middle">Vespertilionoidea - 158</text>
<line x1="424.80" y1="309.00" x2="553.90" y2="309.00" stroke="#9a9a9a" stroke-width="1.8"/>
<rect x="424.80" y="290.40" width="129.10" height="142.90" fill="none" stroke="#444" stroke-width="1.05"/>
<g fill="#303030" fill-opacity="0.68"><rect x="620.4" y="318.6" width="2.6" height="1.4"/><rect x="602.0" y="321.6" width="2.6" height="1.4"/><rect x="632.0" y="321.6" width="2.6" height="1.4"/><rect x="625.1" y="324.4" width="2.6" height="1.4"/><rect x="626.3" y="325.1" width="2.6" height="1.4"/><rect x="654.6" y="327.8" width="2.6" height="1.4"/><rect x="610.0" y="329.1" width="2.6" height="1.4"/><rect x="626.3" y="329.1" width="2.6" height="1.4"/><rect x="651.2" y="330.3" width="2.6" height="1.4"/><rect x="611.7" y="331.7" width="2.6" height="1.4"/><rect x="620.4" y="331.3" width="2.6" height="1.4"/><rect x="619.9" y="332.0" width="2.6" height="1.4"/><rect x="627.4" y="331.3" width="2.6" height="1.4"/><rect x="628.6" y="332.5" width="2.6" height="1.4"/><rect x="635.5" y="331.7" width="2.6" height="1.4"/><rect x="637.8" y="330.8" width="2.6" height="1.4"/><rect x="639.5" y="331.7" width="2.6" height="1.4"/><rect x="605.5" y="334.3" width="2.6" height="1.4"/><rect x="632.6" y="333.8" width="2.6" height="1.4"/><rect x="633.8" y="334.8" width="2.6" height="1.4"/><rect x="624.2" y="334.8" width="2.6" height="1.4"/><rect x="613.8" y="336.0" width="2.6" height="1.4"/><rect x="617.3" y="336.5" width="2.6" height="1.4"/><rect x="629.4" y="336.9" width="2.6" height="1.4"/><rect x="623.9" y="337.8" width="2.6" height="1.4"/><rect x="607.7" y="337.8" width="2.6" height="1.4"/><rect x="632.6" y="340.0" width="2.6" height="1.4"/><rect x="645.9" y="339.5" width="2.6" height="1.4"/><rect x="639.5" y="341.2" width="2.6" height="1.4"/><rect x="606.0" y="341.7" width="2.6" height="1.4"/><rect x="622.5" y="342.1" width="2.6" height="1.4"/><rect x="635.5" y="342.4" width="2.6" height="1.4"/><rect x="602.0" y="345.9" width="2.6" height="1.4"/><rect x="613.8" y="344.2" width="2.6" height="1.4"/><rect x="617.3" y="345.2" width="2.6" height="1.4"/><rect x="636.0" y="345.2" width="2.6" height="1.4"/><rect x="623.4" y="348.2" width="2.6" height="1.4"/><rect x="627.7" y="349.0" width="2.6" height="1.4"/><rect x="632.0" y="349.9" width="2.6" height="1.4"/><rect x="619.0" y="348.7" width="2.6" height="1.4"/><rect x="654.6" y="349.0" width="2.6" height="1.4"/><rect x="625.1" y="351.1" width="2.6" height="1.4"/><rect x="639.0" y="350.8" width="2.6" height="1.4"/><rect x="645.1" y="349.9" width="2.6" height="1.4"/><rect x="606.0" y="353.9" width="2.6" height="1.4"/><rect x="615.5" y="352.5" width="2.6" height="1.4"/><rect x="618.1" y="352.9" width="2.6" height="1.4"/><rect x="625.1" y="353.9" width="2.6" height="1.4"/><rect x="627.7" y="352.9" width="2.6" height="1.4"/><rect x="635.5" y="355.1" width="2.6" height="1.4"/><rect x="597.3" y="356.9" width="2.6" height="1.4"/><rect x="621.6" y="356.0" width="2.6" height="1.4"/><rect x="623.4" y="356.9" width="2.6" height="1.4"/><rect x="628.6" y="356.3" width="2.6" height="1.4"/><rect x="630.3" y="357.7" width="2.6" height="1.4"/><rect x="655.5" y="357.7" width="2.6" height="1.4"/><rect x="626.8" y="359.8" width="2.6" height="1.4"/><rect x="627.7" y="360.9" width="2.6" height="1.4"/><rect x="644.7" y="359.1" width="2.6" height="1.4"/><rect x="612.9" y="360.9" width="2.6" height="1.4"/><rect x="614.7" y="361.5" width="2.6" height="1.4"/><rect x="655.5" y="361.5" width="2.6" height="1.4"/><rect x="644.2" y="362.6" width="2.6" height="1.4"/><rect x="630.3" y="363.8" width="2.6" height="1.4"/><rect x="619.9" y="366.1" width="2.6" height="1.4"/><rect x="625.6" y="365.5" width="2.6" height="1.4"/><rect x="626.8" y="367.3" width="2.6" height="1.4"/><rect x="645.1" y="366.1" width="2.6" height="1.4"/><rect x="632.6" y="369.0" width="2.6" height="1.4"/><rect x="630.3" y="370.8" width="2.6" height="1.4"/><rect x="617.3" y="370.8" width="2.6" height="1.4"/><rect x="659.0" y="371.6" width="2.6" height="1.4"/><rect x="629.1" y="374.3" width="2.6" height="1.4"/><rect x="644.2" y="376.5" width="2.6" height="1.4"/><rect x="630.3" y="382.9" width="2.6" height="1.4"/><rect x="661.6" y="384.6" width="2.6" height="1.4"/><rect x="647.7" y="386.4" width="2.6" height="1.4"/><rect x="612.9" y="388.1" width="2.6" height="1.4"/></g>
<polygon fill="#1010f0" fill-opacity="0.115" points="599.1,333.2 601.2,334.1 603.4,335.0 605.5,336.0 607.6,336.9 609.7,337.7 611.9,338.6 614.0,339.5 616.1,340.3 618.2,341.1 620.4,341.8 622.5,342.6 624.6,343.2 626.7,343.9 628.9,344.5 631.0,345.0 633.1,345.5 635.3,345.9 637.4,346.3 639.5,346.6 641.6,347.0 643.8,347.2 645.9,347.5 648.0,347.7 650.1,347.9 652.3,348.2 654.4,348.3 656.5,348.5 658.6,348.7 660.8,348.8 662.9,349.0 662.9,365.4 660.8,364.5 658.6,363.5 656.5,362.6 654.4,361.7 652.3,360.8 650.1,359.9 648.0,359.0 645.9,358.2 643.8,357.3 641.6,356.5 639.5,355.7 637.4,355.0 635.3,354.3 633.1,353.6 631.0,353.0 628.9,352.5 626.7,351.9 624.6,351.5 622.5,351.1 620.4,350.7 618.2,350.4 616.1,350.1 614.0,349.8 611.9,349.6 609.7,349.3 607.6,349.1 605.5,348.9 603.4,348.7 601.2,348.6 599.1,348.4"/>
<line x1="599.1" y1="340.8" x2="662.9" y2="357.2" stroke="#111" stroke-width="1.15" stroke-dasharray="4.1 3.9"/>
<text transform="translate(561.90,413.60) scale(1.042,1)" font-size="6.3" fill="#1e1e1e">MCC PGLS:</text>
<text transform="translate(561.90,420.60) scale(1.053,1)" font-size="6.3" fill="#1e1e1e">Estimate = -0.48</text>
<text transform="translate(561.90,427.60) scale(1.105,1)" font-size="6.3" fill="#1e1e1e">p-value = 2.34E-02</text>
<text transform="translate(620.15,302.80) scale(1.01,1)" font-size="9.4" font-weight="bold" fill="#1a1a1a" text-anchor="middle">Yinpterochiroptera - 94</text>
<line x1="555.60" y1="309.00" x2="684.70" y2="309.00" stroke="#9a9a9a" stroke-width="1.8"/>
<rect x="555.60" y="290.40" width="129.10" height="142.90" fill="none" stroke="#444" stroke-width="1.05"/>
<line x1="29" y1="26.45" x2="32.4" y2="26.45" stroke="#4a4a4a" stroke-width="1"/>
<text x="26.4" y="28.75" font-size="6.3" fill="#666" text-anchor="end">10<tspan font-size="4.6" dx="0.4" dy="-3.3">−1</tspan></text>
<line x1="29" y1="62.10" x2="32.4" y2="62.10" stroke="#4a4a4a" stroke-width="1"/>
<text x="26.4" y="64.40" font-size="6.3" fill="#666" text-anchor="end">10<tspan font-size="4.6" dx="0.4" dy="-3.3">−2</tspan></text>
<line x1="29" y1="97.75" x2="32.4" y2="97.75" stroke="#4a4a4a" stroke-width="1"/>
<text x="26.4" y="100.05" font-size="6.3" fill="#666" text-anchor="end">10<tspan font-size="4.6" dx="0.4" dy="-3.3">−3</tspan></text>
<line x1="29" y1="133.40" x2="32.4" y2="133.40" stroke="#4a4a4a" stroke-width="1"/>
<text x="26.4" y="135.70" font-size="6.3" fill="#666" text-anchor="end">10<tspan font-size="4.6" dx="0.4" dy="-3.3">−4</tspan></text>
<line x1="29" y1="171.55" x2="32.4" y2="171.55" stroke="#4a4a4a" stroke-width="1"/>
<text x="26.4" y="173.85" font-size="6.3" fill="#666" text-anchor="end">10<tspan font-size="4.6" dx="0.4" dy="-3.3">−1</tspan></text>
<line x1="29" y1="207.20" x2="32.4" y2="207.20" stroke="#4a4a4a" stroke-width="1"/>
<text x="26.4" y="209.50" font-size="6.3" fill="#666" text-anchor="end">10<tspan font-size="4.6" dx="0.4" dy="-3.3">−2</tspan></text>
<line x1="29" y1="242.85" x2="32.4" y2="242.85" stroke="#4a4a4a" stroke-width="1"/>
<text x="26.4" y="245.15" font-size="6.3" fill="#666" text-anchor="end">10<tspan font-size="4.6" dx="0.4" dy="-3.3">−3</tspan></text>
<line x1="29" y1="278.50" x2="32.4" y2="278.50" stroke="#4a4a4a" stroke-width="1"/>
<text x="26.4" y="280.80" font-size="6.3" fill="#666" text-anchor="end">10<tspan font-size="4.6" dx="0.4" dy="-3.3">−4</tspan></text>
<line x1="29" y1="316.55" x2="32.4" y2="316.55" stroke="#4a4a4a" stroke-width="1"/>
<text x="26.4" y="318.85" font-size="6.3" fill="#666" text-anchor="end">10<tspan font-size="4.6" dx="0.4" dy="-3.3">−1</tspan></text>
<line x1="29" y1="352.20" x2="32.4" y2="352.20" stroke="#4a4a4a" stroke-width="1"/>
<text x="26.4" y="354.50" font-size="6.3" fill="#666" text-anchor="end">10<tspan font-size="4.6" dx="0.4" dy="-3.3">−2</tspan></text>
<line x1="29" y1="387.85" x2="32.4" y2="387.85" stroke="#4a4a4a" stroke-width="1"/>
<text x="26.4" y="390.15" font-size="6.3" fill="#666" text-anchor="end">10<tspan font-size="4.6" dx="0.4" dy="-3.3">−3</tspan></text>
<line x1="29" y1="423.50" x2="32.4" y2="423.50" stroke="#4a4a4a" stroke-width="1"/>
<text x="26.4" y="425.80" font-size="6.3" fill="#666" text-anchor="end">10<tspan font-size="4.6" dx="0.4" dy="-3.3">−4</tspan></text>
<line x1="43.90" y1="433.3" x2="43.90" y2="436.5" stroke="#4a4a4a" stroke-width="1"/>
<text transform="translate(43.90,444.3) scale(1.055,1)" font-size="6.5" fill="#666" text-anchor="middle">0.03</text>
<line x1="80.00" y1="433.3" x2="80.00" y2="436.5" stroke="#4a4a4a" stroke-width="1"/>
<text transform="translate(80.00,444.3) scale(1.055,1)" font-size="6.5" fill="#666" text-anchor="middle">0.10</text>
<line x1="113.00" y1="433.3" x2="113.00" y2="436.5" stroke="#4a4a4a" stroke-width="1"/>
<text transform="translate(113.00,444.3) scale(1.055,1)" font-size="6.5" fill="#666" text-anchor="middle">0.30</text>
<line x1="149.10" y1="433.3" x2="149.10" y2="436.5" stroke="#4a4a4a" stroke-width="1"/>
<text transform="translate(149.10,444.3) scale(1.055,1)" font-size="6.5" fill="#666" text-anchor="middle">1.00</text>
<line x1="174.70" y1="433.3" x2="174.70" y2="436.5" stroke="#4a4a4a" stroke-width="1"/>
<text transform="translate(174.70,444.3) scale(1.055,1)" font-size="6.5" fill="#666" text-anchor="middle">0.03</text>
<line x1="210.80" y1="433.3" x2="210.80" y2="436.5" stroke="#4a4a4a" stroke-width="1"/>
<text transform="translate(210.80,444.3) scale(1.055,1)" font-size="6.5" fill="#666" text-anchor="middle">0.10</text>
<line x1="243.80" y1="433.3" x2="243.80" y2="436.5" stroke="#4a4a4a" stroke-width="1"/>
<text transform="translate(243.80,444.3) scale(1.055,1)" font-size="6.5" fill="#666" text-anchor="middle">0.30</text>
<line x1="279.90" y1="433.3" x2="279.90" y2="436.5" stroke="#4a4a4a" stroke-width="1"/>
<text transform="translate(279.90,444.3) scale(1.055,1)" font-size="6.5" fill="#666" text-anchor="middle">1.00</text>
<line x1="305.50" y1="433.3" x2="305.50" y2="436.5" stroke="#4a4a4a" stroke-width="1"/>
<text transform="translate(305.50,444.3) scale(1.055,1)" font-size="6.5" fill="#666" text-anchor="middle">0.03</text>
<line x1="341.60" y1="433.3" x2="341.60" y2="436.5" stroke="#4a4a4a" stroke-width="1"/>
<text transform="translate(341.60,444.3) scale(1.055,1)" font-size="6.5" fill="#666" text-anchor="middle">0.10</text>
<line x1="374.60" y1="433.3" x2="374.60" y2="436.5" stroke="#4a4a4a" stroke-width="1"/>
<text transform="translate(374.60,444.3) scale(1.055,1)" font-size="6.5" fill="#666" text-anchor="middle">0.30</text>
<line x1="410.70" y1="433.3" x2="410.70" y2="436.5" stroke="#4a4a4a" stroke-width="1"/>
<text transform="translate(410.70,444.3) scale(1.055,1)" font-size="6.5" fill="#666" text-anchor="middle">1.00</text>
<line x1="436.30" y1="433.3" x2="436.30" y2="436.5" stroke="#4a4a4a" stroke-width="1"/>
<text transform="translate(436.30,444.3) scale(1.055,1)" font-size="6.5" fill="#666" text-anchor="middle">0.03</text>
<line x1="472.40" y1="433.3" x2="472.40" y2="436.5" stroke="#4a4a4a" stroke-width="1"/>
<text transform="translate(472.40,444.3) scale(1.055,1)" font-size="6.5" fill="#666" text-anchor="middle">0.10</text>
<line x1="505.40" y1="433.3" x2="505.40" y2="436.5" stroke="#4a4a4a" stroke-width="1"/>
<text transform="translate(505.40,444.3) scale(1.055,1)" font-size="6.5" fill="#666" text-anchor="middle">0.30</text>
<line x1="541.50" y1="433.3" x2="541.50" y2="436.5" stroke="#4a4a4a" stroke-width="1"/>
<text transform="translate(541.50,444.3) scale(1.055,1)" font-size="6.5" fill="#666" text-anchor="middle">1.00</text>
<line x1="567.10" y1="433.3" x2="567.10" y2="436.5" stroke="#4a4a4a" stroke-width="1"/>
<text transform="translate(567.10,444.3) scale(1.055,1)" font-size="6.5" fill="#666" text-anchor="middle">0.03</text>
<line x1="603.20" y1="433.3" x2="603.20" y2="436.5" stroke="#4a4a4a" stroke-width="1"/>
<text transform="translate(603.20,444.3) scale(1.055,1)" font-size="6.5" fill="#666" text-anchor="middle">0.10</text>
<line x1="636.20" y1="433.3" x2="636.20" y2="436.5" stroke="#4a4a4a" stroke-width="1"/>
<text transform="translate(636.20,444.3) scale(1.055,1)" font-size="6.5" fill="#666" text-anchor="middle">0.30</text>
<line x1="672.30" y1="433.3" x2="672.30" y2="436.5" stroke="#4a4a4a" stroke-width="1"/>
<text transform="translate(672.30,444.3) scale(1.055,1)" font-size="6.5" fill="#666" text-anchor="middle">1.00</text>
<text transform="translate(353.5,459.3) scale(0.93,1)" font-size="8.6" fill="#1a1a1a" text-anchor="middle">Speciation rate (Myr<tspan font-size="5.6" dy="-3">−1</tspan><tspan dy="3">)</tspan></text>
<text transform="translate(6.3,226.7) rotate(-90) scale(0.947,1)" font-size="8.6" fill="#1a1a1a" text-anchor="middle">Genetic diversity (θ<tspan font-size="5.6" dy="2">Tajd</tspan><tspan dy="-2">)</tspan></text>
</svg></body></html>
